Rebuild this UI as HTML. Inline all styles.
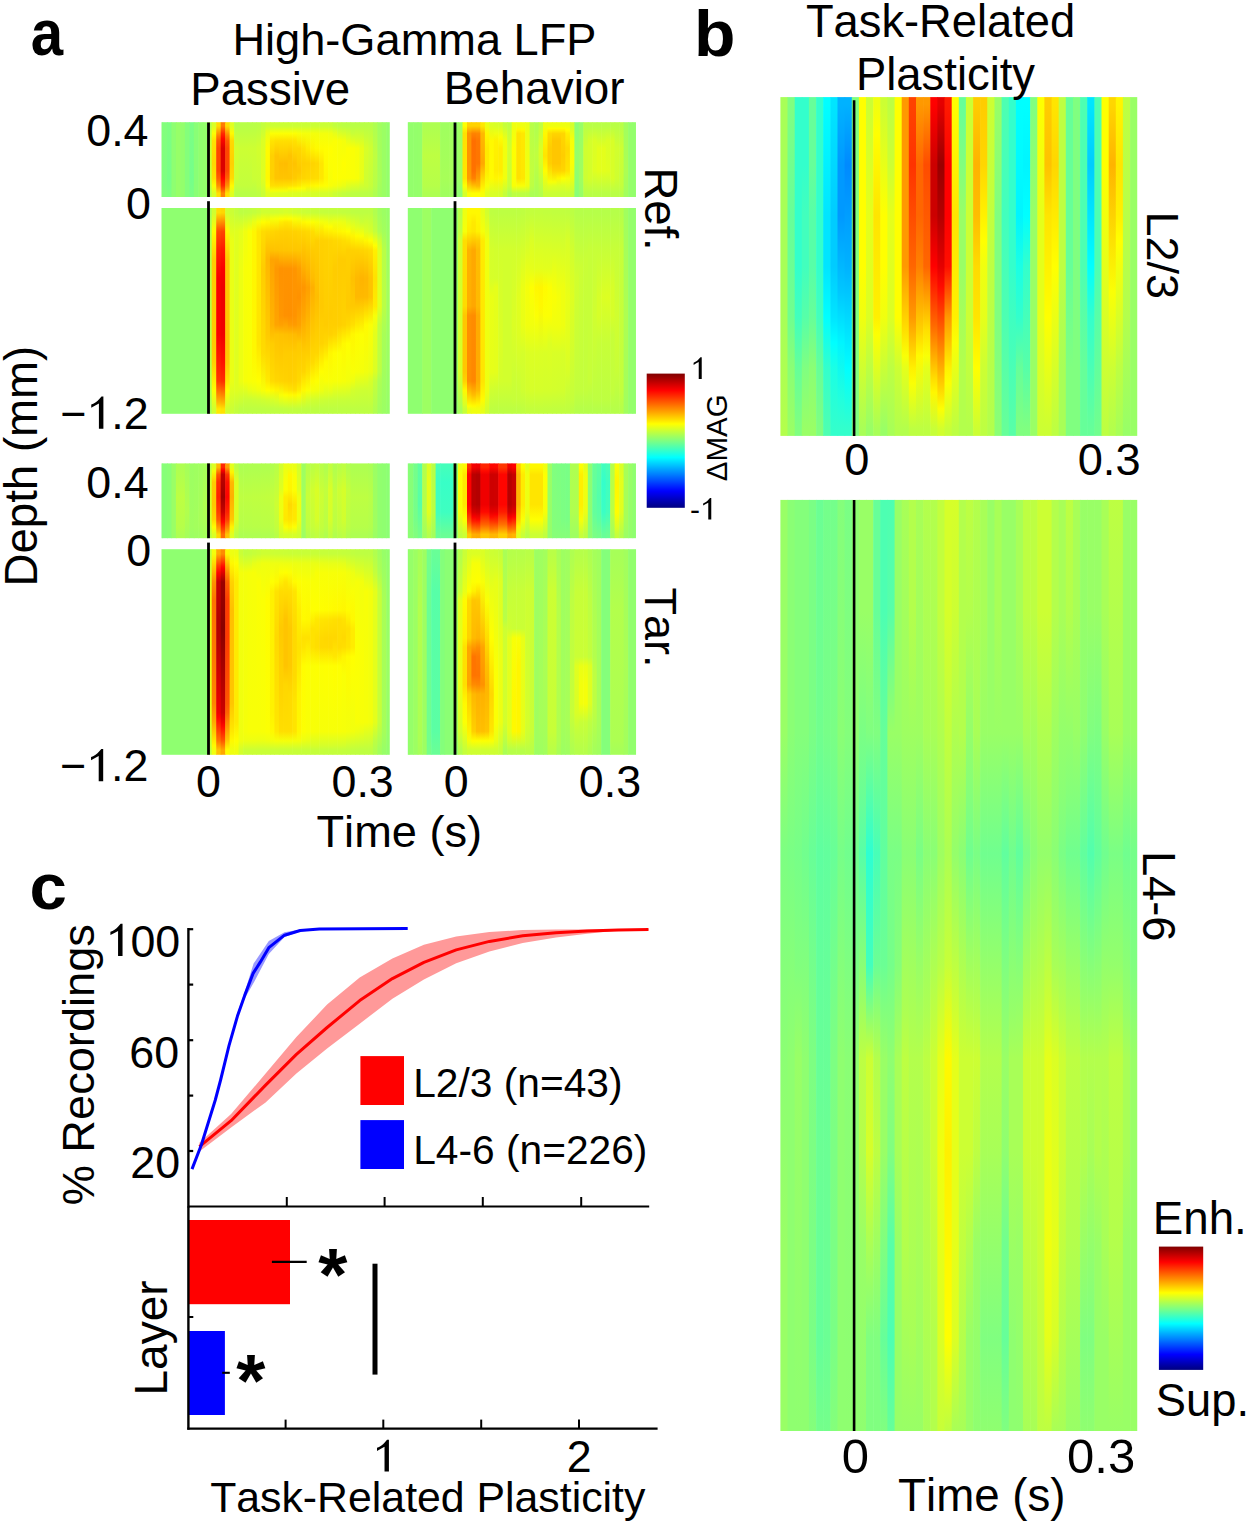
<!DOCTYPE html>
<html><head><meta charset="utf-8"><title>Figure</title>
<style>
html,body{margin:0;padding:0;background:#fff;}
svg{display:block;}
text{font-family:"Liberation Sans",sans-serif;font-kerning:none;fill:#000;}
</style></head>
<body>
<svg width="1250" height="1528" viewBox="0 0 1250 1528">
<defs><linearGradient id="g1" x2="0" y2="1"><stop offset="0.05" stop-color="#82ff7d"/><stop offset="0.85" stop-color="#7eff81"/><stop offset="0.95" stop-color="#82ff7d"/></linearGradient><linearGradient id="g2" x2="0" y2="1"><stop offset="0.05" stop-color="#7eff81"/><stop offset="0.75" stop-color="#7f8"/><stop offset="0.95" stop-color="#7eff81"/></linearGradient><linearGradient id="g3" x2="0" y2="1"><stop offset="0.05" stop-color="#7bff84"/><stop offset="0.75" stop-color="#74ff8b"/><stop offset="0.95" stop-color="#7bff84"/></linearGradient><linearGradient id="g4" x2="0" y2="1"><stop offset="0.05" stop-color="#b6ff49"/><stop offset="0.35" stop-color="#ceff31"/><stop offset="0.75" stop-color="#caff35"/><stop offset="0.95" stop-color="#b6ff49"/></linearGradient><linearGradient id="g5" x2="0" y2="1"><stop offset="0.05" stop-color="#d9ff26"/><stop offset="0.15" stop-color="#fcff03"/><stop offset="0.25" stop-color="#ffe200"/><stop offset="0.55" stop-color="#ffd900"/><stop offset="0.75" stop-color="#ffe300"/><stop offset="0.85" stop-color="#fcff03"/><stop offset="0.95" stop-color="#d9ff26"/></linearGradient><linearGradient id="g6" x2="0" y2="1"><stop offset="0.05" stop-color="#ffdc00"/><stop offset="0.183" stop-color="#ff7c00"/><stop offset="0.25" stop-color="#ff5800"/><stop offset="0.35" stop-color="#ff4500"/><stop offset="0.65" stop-color="#ff4500"/><stop offset="0.75" stop-color="#ff5f00"/><stop offset="0.85" stop-color="#ff9000"/><stop offset="0.95" stop-color="#ffe000"/></linearGradient><linearGradient id="g7" x2="0" y2="1"><stop offset="0.05" stop-color="#ff7c00"/><stop offset="0.15" stop-color="#ff2a00"/><stop offset="0.217" stop-color="#ff0700"/><stop offset="0.35" stop-color="#db0000"/><stop offset="0.65" stop-color="#db0000"/><stop offset="0.75" stop-color="#ff0200"/><stop offset="0.85" stop-color="#ff2c00"/><stop offset="0.95" stop-color="#ff8500"/></linearGradient><linearGradient id="g8" x2="0" y2="1"><stop offset="0.05" stop-color="#ffde00"/><stop offset="0.183" stop-color="#ff7e00"/><stop offset="0.25" stop-color="#ff5a00"/><stop offset="0.35" stop-color="#ff4700"/><stop offset="0.65" stop-color="#ff4700"/><stop offset="0.75" stop-color="#ff6100"/><stop offset="0.85" stop-color="#ff9200"/><stop offset="0.95" stop-color="#ffe100"/></linearGradient><linearGradient id="g9" x2="0" y2="1"><stop offset="0.05" stop-color="#e0ff1f"/><stop offset="0.15" stop-color="#fffa00"/><stop offset="0.25" stop-color="#ffd900"/><stop offset="0.55" stop-color="#ffd000"/><stop offset="0.75" stop-color="#ffdb00"/><stop offset="0.85" stop-color="#fffa00"/><stop offset="0.95" stop-color="#dfff20"/></linearGradient><linearGradient id="g10" x2="0" y2="1"><stop offset="0.05" stop-color="#b8ff47"/><stop offset="0.35" stop-color="#d1ff2e"/><stop offset="0.75" stop-color="#cdff32"/><stop offset="0.95" stop-color="#b8ff47"/></linearGradient><linearGradient id="g11" x2="0" y2="1"><stop offset="0.05" stop-color="#b8ff47"/><stop offset="0.35" stop-color="#cf3"/><stop offset="0.85" stop-color="#c3ff3c"/><stop offset="0.95" stop-color="#b8ff47"/></linearGradient><linearGradient id="g12" x2="0" y2="1"><stop offset="0.05" stop-color="#b8ff47"/><stop offset="0.35" stop-color="#cdff32"/><stop offset="0.85" stop-color="#c3ff3c"/><stop offset="0.95" stop-color="#b9ff46"/></linearGradient><linearGradient id="g13" x2="0" y2="1"><stop offset="0.05" stop-color="#b9ff46"/><stop offset="0.35" stop-color="#cdff32"/><stop offset="0.75" stop-color="#caff35"/><stop offset="0.95" stop-color="#baff45"/></linearGradient><linearGradient id="g14" x2="0" y2="1"><stop offset="0.05" stop-color="#bf4"/><stop offset="0.35" stop-color="#d2ff2d"/><stop offset="0.85" stop-color="#c9ff36"/><stop offset="0.95" stop-color="#bdff42"/></linearGradient><linearGradient id="g15" x2="0" y2="1"><stop offset="0.05" stop-color="#c3ff3c"/><stop offset="0.25" stop-color="#dbff24"/><stop offset="0.75" stop-color="#dfff20"/><stop offset="0.95" stop-color="#caff35"/></linearGradient><linearGradient id="g16" x2="0" y2="1"><stop offset="0.05" stop-color="#cbff34"/><stop offset="0.15" stop-color="#ebff14"/><stop offset="0.35" stop-color="#fffc00"/><stop offset="0.75" stop-color="#fff800"/><stop offset="0.85" stop-color="#feff01"/><stop offset="0.95" stop-color="#dfff20"/></linearGradient><linearGradient id="g17" x2="0" y2="1"><stop offset="0.05" stop-color="#cbff34"/><stop offset="0.15" stop-color="#fcff03"/><stop offset="0.25" stop-color="#ffe400"/><stop offset="0.45" stop-color="#ffd100"/><stop offset="0.75" stop-color="#ffd100"/><stop offset="0.85" stop-color="#ffdf00"/><stop offset="0.917" stop-color="#f6ff09"/><stop offset="0.95" stop-color="#e1ff1e"/></linearGradient><linearGradient id="g18" x2="0" y2="1"><stop offset="0.05" stop-color="#cbff34"/><stop offset="0.15" stop-color="#fcff03"/><stop offset="0.25" stop-color="#ffdf00"/><stop offset="0.45" stop-color="#ffc400"/><stop offset="0.75" stop-color="#ffc500"/><stop offset="0.85" stop-color="#ffde00"/><stop offset="0.917" stop-color="#f5ff0a"/><stop offset="0.95" stop-color="#e0ff1f"/></linearGradient><linearGradient id="g19" x2="0" y2="1"><stop offset="0.05" stop-color="#cbff34"/><stop offset="0.15" stop-color="#fcff03"/><stop offset="0.25" stop-color="#ffdf00"/><stop offset="0.55" stop-color="#ffbe00"/><stop offset="0.75" stop-color="#ffc400"/><stop offset="0.85" stop-color="#ffdf00"/><stop offset="0.917" stop-color="#f4ff0b"/><stop offset="0.95" stop-color="#deff21"/></linearGradient><linearGradient id="g20" x2="0" y2="1"><stop offset="0.05" stop-color="#cbff34"/><stop offset="0.15" stop-color="#fcff03"/><stop offset="0.25" stop-color="#ffdf00"/><stop offset="0.55" stop-color="#ffbd00"/><stop offset="0.75" stop-color="#ffc400"/><stop offset="0.85" stop-color="#ffe100"/><stop offset="0.917" stop-color="#f3ff0c"/><stop offset="0.95" stop-color="#df2"/></linearGradient><linearGradient id="g21" x2="0" y2="1"><stop offset="0.05" stop-color="#cbff34"/><stop offset="0.15" stop-color="#fcff03"/><stop offset="0.25" stop-color="#ffdf00"/><stop offset="0.45" stop-color="#ffc300"/><stop offset="0.75" stop-color="#ffc400"/><stop offset="0.85" stop-color="#ffe200"/><stop offset="0.883" stop-color="#fff800"/><stop offset="0.95" stop-color="#dcff23"/></linearGradient><linearGradient id="g22" x2="0" y2="1"><stop offset="0.05" stop-color="#cbff34"/><stop offset="0.15" stop-color="#fcff03"/><stop offset="0.25" stop-color="#ffe100"/><stop offset="0.55" stop-color="#ffc300"/><stop offset="0.75" stop-color="#ffca00"/><stop offset="0.85" stop-color="#ffe500"/><stop offset="0.883" stop-color="#fffa00"/><stop offset="0.95" stop-color="#dbff24"/></linearGradient><linearGradient id="g23" x2="0" y2="1"><stop offset="0.05" stop-color="#cbff34"/><stop offset="0.15" stop-color="#f8ff07"/><stop offset="0.35" stop-color="#ffd700"/><stop offset="0.65" stop-color="#ffc800"/><stop offset="0.75" stop-color="#ffd100"/><stop offset="0.85" stop-color="#ffeb00"/><stop offset="0.883" stop-color="#fffe00"/><stop offset="0.95" stop-color="#daff25"/></linearGradient><linearGradient id="g24" x2="0" y2="1"><stop offset="0.05" stop-color="#caff35"/><stop offset="0.15" stop-color="#f5ff0a"/><stop offset="0.35" stop-color="#ffe000"/><stop offset="0.55" stop-color="#ffcf00"/><stop offset="0.75" stop-color="#ffd500"/><stop offset="0.883" stop-color="#fcff03"/><stop offset="0.95" stop-color="#d8ff27"/></linearGradient><linearGradient id="g25" x2="0" y2="1"><stop offset="0.05" stop-color="#caff35"/><stop offset="0.15" stop-color="#f4ff0b"/><stop offset="0.35" stop-color="#ffeb00"/><stop offset="0.55" stop-color="#ffd100"/><stop offset="0.75" stop-color="#ffd800"/><stop offset="0.85" stop-color="#fff400"/><stop offset="0.95" stop-color="#d7ff28"/></linearGradient><linearGradient id="g26" x2="0" y2="1"><stop offset="0.05" stop-color="#caff35"/><stop offset="0.15" stop-color="#f4ff0b"/><stop offset="0.35" stop-color="#fff400"/><stop offset="0.55" stop-color="#ffd400"/><stop offset="0.75" stop-color="#ffda00"/><stop offset="0.85" stop-color="#fff800"/><stop offset="0.95" stop-color="#d6ff29"/></linearGradient><linearGradient id="g27" x2="0" y2="1"><stop offset="0.05" stop-color="#caff35"/><stop offset="0.15" stop-color="#f3ff0c"/><stop offset="0.35" stop-color="#fffa00"/><stop offset="0.55" stop-color="#ffd800"/><stop offset="0.75" stop-color="#ffdc00"/><stop offset="0.85" stop-color="#fffb00"/><stop offset="0.95" stop-color="#d5ff2a"/></linearGradient><linearGradient id="g28" x2="0" y2="1"><stop offset="0.05" stop-color="#caff35"/><stop offset="0.15" stop-color="#f3ff0c"/><stop offset="0.35" stop-color="#fffd00"/><stop offset="0.55" stop-color="#ffe600"/><stop offset="0.75" stop-color="#ffe700"/><stop offset="0.85" stop-color="#fffd00"/><stop offset="0.95" stop-color="#d4ff2b"/></linearGradient><linearGradient id="g29" x2="0" y2="1"><stop offset="0.05" stop-color="#caff35"/><stop offset="0.15" stop-color="#f3ff0c"/><stop offset="0.35" stop-color="#fffe00"/><stop offset="0.75" stop-color="#fff600"/><stop offset="0.85" stop-color="#fdff02"/><stop offset="0.95" stop-color="#d4ff2b"/></linearGradient><linearGradient id="g30" x2="0" y2="1"><stop offset="0.05" stop-color="#c9ff36"/><stop offset="0.15" stop-color="#f0ff0f"/><stop offset="0.35" stop-color="#ff0"/><stop offset="0.85" stop-color="#f8ff07"/><stop offset="0.95" stop-color="#d2ff2d"/></linearGradient><linearGradient id="g31" x2="0" y2="1"><stop offset="0.05" stop-color="#c2ff3d"/><stop offset="0.15" stop-color="#e7ff18"/><stop offset="0.25" stop-color="#fbff04"/><stop offset="0.75" stop-color="#feff01"/><stop offset="0.85" stop-color="#f4ff0b"/><stop offset="0.95" stop-color="#cbff34"/></linearGradient><linearGradient id="g32" x2="0" y2="1"><stop offset="0.05" stop-color="#beff41"/><stop offset="0.25" stop-color="#f8ff07"/><stop offset="0.75" stop-color="#fdff02"/><stop offset="0.85" stop-color="#efff10"/><stop offset="0.95" stop-color="#c6ff39"/></linearGradient><linearGradient id="g33" x2="0" y2="1"><stop offset="0.05" stop-color="#bf4"/><stop offset="0.25" stop-color="#f4ff0b"/><stop offset="0.55" stop-color="#ff0"/><stop offset="0.75" stop-color="#fcff03"/><stop offset="0.85" stop-color="#eaff15"/><stop offset="0.95" stop-color="#c2ff3d"/></linearGradient><linearGradient id="g34" x2="0" y2="1"><stop offset="0.05" stop-color="#baff45"/><stop offset="0.2" stop-color="#df2"/><stop offset="0.35" stop-color="#fcff03"/><stop offset="0.75" stop-color="#fbff04"/><stop offset="0.9" stop-color="#d2ff2d"/><stop offset="0.95" stop-color="#bfff40"/></linearGradient><linearGradient id="g35" x2="0" y2="1"><stop offset="0.05" stop-color="#b9ff46"/><stop offset="0.15" stop-color="#c8ff37"/><stop offset="0.35" stop-color="#faff05"/><stop offset="0.75" stop-color="#faff05"/><stop offset="0.95" stop-color="#bdff42"/></linearGradient><linearGradient id="g36" x2="0" y2="1"><stop offset="0.05" stop-color="#b9ff46"/><stop offset="0.25" stop-color="#dbff24"/><stop offset="0.35" stop-color="#f6ff09"/><stop offset="0.75" stop-color="#f7ff08"/><stop offset="0.95" stop-color="#bcff43"/></linearGradient><linearGradient id="g37" x2="0" y2="1"><stop offset="0.05" stop-color="#b8ff47"/><stop offset="0.35" stop-color="#e9ff16"/><stop offset="0.75" stop-color="#e7ff18"/><stop offset="0.95" stop-color="#bf4"/></linearGradient><linearGradient id="g38" x2="0" y2="1"><stop offset="0.05" stop-color="#b8ff47"/><stop offset="0.35" stop-color="#d7ff28"/><stop offset="0.85" stop-color="#cdff32"/><stop offset="0.95" stop-color="#baff45"/></linearGradient><linearGradient id="g39" x2="0" y2="1"><stop offset="0.05" stop-color="#b8ff47"/><stop offset="0.35" stop-color="#cfff30"/><stop offset="0.85" stop-color="#c6ff39"/><stop offset="0.95" stop-color="#b9ff46"/></linearGradient><linearGradient id="g40" x2="0" y2="1"><stop offset="0.05" stop-color="#afff50"/><stop offset="0.45" stop-color="#bfff40"/><stop offset="0.85" stop-color="#b8ff47"/><stop offset="0.95" stop-color="#afff50"/></linearGradient><linearGradient id="g41" x2="0" y2="1"><stop offset="0.05" stop-color="#a1ff5e"/><stop offset="0.75" stop-color="#a9ff56"/><stop offset="0.95" stop-color="#a1ff5e"/></linearGradient><linearGradient id="g42" x2="0" y2="1"><stop offset="0.023" stop-color="#a9ff56"/><stop offset="0.295" stop-color="#bf4"/><stop offset="0.841" stop-color="#b7ff48"/><stop offset="0.977" stop-color="#a9ff56"/></linearGradient><linearGradient id="g43" x2="0" y2="1"><stop offset="0.023" stop-color="#cfff30"/><stop offset="0.114" stop-color="#fffd00"/><stop offset="0.25" stop-color="#ffcf00"/><stop offset="0.659" stop-color="#fc0"/><stop offset="0.75" stop-color="#ffd200"/><stop offset="0.886" stop-color="#fcff03"/><stop offset="0.977" stop-color="#cfff30"/></linearGradient><linearGradient id="g44" x2="0" y2="1"><stop offset="0.023" stop-color="#fd0"/><stop offset="0.098" stop-color="#ff6200"/><stop offset="0.114" stop-color="#ff4c00"/><stop offset="0.205" stop-color="#ff2000"/><stop offset="0.341" stop-color="#f90000"/><stop offset="0.614" stop-color="#fa0000"/><stop offset="0.795" stop-color="#ff2800"/><stop offset="0.841" stop-color="#ff3700"/><stop offset="0.947" stop-color="#fb0"/><stop offset="0.977" stop-color="#ffe800"/></linearGradient><linearGradient id="g45" x2="0" y2="1"><stop offset="0.023" stop-color="#ffd700"/><stop offset="0.114" stop-color="#ff4300"/><stop offset="0.205" stop-color="#ff1700"/><stop offset="0.295" stop-color="#fb0000"/><stop offset="0.386" stop-color="#e00"/><stop offset="0.614" stop-color="#f10000"/><stop offset="0.75" stop-color="#f10"/><stop offset="0.841" stop-color="#ff2e00"/><stop offset="0.947" stop-color="#ffb500"/><stop offset="0.977" stop-color="#ffe200"/></linearGradient><linearGradient id="g46" x2="0" y2="1"><stop offset="0.023" stop-color="#d0ff2f"/><stop offset="0.114" stop-color="#fff800"/><stop offset="0.25" stop-color="#ffc800"/><stop offset="0.659" stop-color="#ffc500"/><stop offset="0.75" stop-color="#ffcb00"/><stop offset="0.841" stop-color="#ffe600"/><stop offset="0.886" stop-color="#fffd00"/><stop offset="0.977" stop-color="#d0ff2f"/></linearGradient><linearGradient id="g47" x2="0" y2="1"><stop offset="0.023" stop-color="#cbff34"/><stop offset="0.159" stop-color="#eaff15"/><stop offset="0.841" stop-color="#eaff15"/><stop offset="0.977" stop-color="#cbff34"/></linearGradient><linearGradient id="g48" x2="0" y2="1"><stop offset="0.023" stop-color="#c3ff3c"/><stop offset="0.114" stop-color="#e0ff1f"/><stop offset="0.886" stop-color="#dfff20"/><stop offset="0.977" stop-color="#c3ff3c"/></linearGradient><linearGradient id="g49" x2="0" y2="1"><stop offset="0.023" stop-color="#bdff42"/><stop offset="0.114" stop-color="#e5ff1a"/><stop offset="0.295" stop-color="#edff12"/><stop offset="0.841" stop-color="#edff12"/><stop offset="0.977" stop-color="#bdff42"/></linearGradient><linearGradient id="g50" x2="0" y2="1"><stop offset="0.023" stop-color="#beff41"/><stop offset="0.114" stop-color="#f0ff0f"/><stop offset="0.295" stop-color="#f8ff07"/><stop offset="0.841" stop-color="#f6ff09"/><stop offset="0.932" stop-color="#c9ff36"/><stop offset="0.977" stop-color="#bdff42"/></linearGradient><linearGradient id="g51" x2="0" y2="1"><stop offset="0.023" stop-color="#c0ff3f"/><stop offset="0.114" stop-color="#faff05"/><stop offset="0.841" stop-color="#f9ff06"/><stop offset="0.886" stop-color="#e8ff17"/><stop offset="0.932" stop-color="#c9ff36"/><stop offset="0.977" stop-color="#bdff42"/></linearGradient><linearGradient id="g52" x2="0" y2="1"><stop offset="0.023" stop-color="#c3ff3c"/><stop offset="0.068" stop-color="#eaff15"/><stop offset="0.114" stop-color="#fff600"/><stop offset="0.705" stop-color="#fff700"/><stop offset="0.841" stop-color="#fbff04"/><stop offset="0.886" stop-color="#ecff13"/><stop offset="0.932" stop-color="#cbff34"/><stop offset="0.977" stop-color="#bdff42"/></linearGradient><linearGradient id="g53" x2="0" y2="1"><stop offset="0.023" stop-color="#c8ff37"/><stop offset="0.068" stop-color="#f6ff09"/><stop offset="0.114" stop-color="#ffe600"/><stop offset="0.659" stop-color="#ffe500"/><stop offset="0.841" stop-color="#ff0"/><stop offset="0.886" stop-color="#f1ff0e"/><stop offset="0.932" stop-color="#cdff32"/><stop offset="0.977" stop-color="#bdff42"/></linearGradient><linearGradient id="g54" x2="0" y2="1"><stop offset="0.023" stop-color="#cfff30"/><stop offset="0.068" stop-color="#fffe00"/><stop offset="0.114" stop-color="#ffdc00"/><stop offset="0.295" stop-color="#ffcd00"/><stop offset="0.705" stop-color="#ffdb00"/><stop offset="0.886" stop-color="#f8ff07"/><stop offset="0.932" stop-color="#d0ff2f"/><stop offset="0.977" stop-color="#bdff42"/></linearGradient><linearGradient id="g55" x2="0" y2="1"><stop offset="0.023" stop-color="#cfff30"/><stop offset="0.068" stop-color="#fff900"/><stop offset="0.114" stop-color="#ffd800"/><stop offset="0.25" stop-color="#ffb700"/><stop offset="0.614" stop-color="#ffca00"/><stop offset="0.841" stop-color="#ffe900"/><stop offset="0.886" stop-color="#ff0"/><stop offset="0.932" stop-color="#d3ff2c"/><stop offset="0.977" stop-color="#beff41"/></linearGradient><linearGradient id="g56" x2="0" y2="1"><stop offset="0.023" stop-color="#d0ff2f"/><stop offset="0.053" stop-color="#f6ff09"/><stop offset="0.091" stop-color="#ffe500"/><stop offset="0.114" stop-color="#ffd600"/><stop offset="0.205" stop-color="#ffc200"/><stop offset="0.25" stop-color="#ffa400"/><stop offset="0.568" stop-color="#ffb300"/><stop offset="0.659" stop-color="#ffcd00"/><stop offset="0.841" stop-color="#ffdb00"/><stop offset="0.886" stop-color="#fffa00"/><stop offset="0.932" stop-color="#d7ff28"/><stop offset="0.977" stop-color="#beff41"/></linearGradient><linearGradient id="g57" x2="0" y2="1"><stop offset="0.023" stop-color="#d1ff2e"/><stop offset="0.053" stop-color="#f9ff06"/><stop offset="0.114" stop-color="#ffd300"/><stop offset="0.205" stop-color="#ffc300"/><stop offset="0.25" stop-color="#ffa400"/><stop offset="0.295" stop-color="#ff9800"/><stop offset="0.568" stop-color="#ffa400"/><stop offset="0.614" stop-color="#ffc300"/><stop offset="0.841" stop-color="#ffd600"/><stop offset="0.886" stop-color="#fff400"/><stop offset="0.932" stop-color="#dbff24"/><stop offset="0.977" stop-color="#bfff40"/></linearGradient><linearGradient id="g58" x2="0" y2="1"><stop offset="0.023" stop-color="#d3ff2c"/><stop offset="0.053" stop-color="#fdff02"/><stop offset="0.068" stop-color="#ffec00"/><stop offset="0.114" stop-color="#ffd100"/><stop offset="0.205" stop-color="#ffc400"/><stop offset="0.295" stop-color="#ff9200"/><stop offset="0.523" stop-color="#ff9600"/><stop offset="0.568" stop-color="#ffa100"/><stop offset="0.614" stop-color="#ffc100"/><stop offset="0.75" stop-color="#ffcd00"/><stop offset="0.841" stop-color="#ffd400"/><stop offset="0.909" stop-color="#f8ff07"/><stop offset="0.977" stop-color="#bfff40"/></linearGradient><linearGradient id="g59" x2="0" y2="1"><stop offset="0.023" stop-color="#d6ff29"/><stop offset="0.053" stop-color="#fffd00"/><stop offset="0.068" stop-color="#ffe700"/><stop offset="0.114" stop-color="#ffd000"/><stop offset="0.205" stop-color="#ffc500"/><stop offset="0.295" stop-color="#ff9300"/><stop offset="0.523" stop-color="#ff9100"/><stop offset="0.591" stop-color="#ffaf00"/><stop offset="0.614" stop-color="#ffbf00"/><stop offset="0.705" stop-color="#fc0"/><stop offset="0.841" stop-color="#ffd200"/><stop offset="0.886" stop-color="#ffe900"/><stop offset="0.909" stop-color="#feff01"/><stop offset="0.977" stop-color="#c0ff3f"/></linearGradient><linearGradient id="g60" x2="0" y2="1"><stop offset="0.023" stop-color="#d4ff2b"/><stop offset="0.053" stop-color="#ff0"/><stop offset="0.068" stop-color="#ffe900"/><stop offset="0.114" stop-color="#ffd100"/><stop offset="0.205" stop-color="#ffc600"/><stop offset="0.295" stop-color="#ff9300"/><stop offset="0.523" stop-color="#ff9000"/><stop offset="0.568" stop-color="#ff9d00"/><stop offset="0.614" stop-color="#ffbd00"/><stop offset="0.705" stop-color="#fc0"/><stop offset="0.841" stop-color="#ffd000"/><stop offset="0.886" stop-color="#ffe400"/><stop offset="0.909" stop-color="#fffb00"/><stop offset="0.977" stop-color="#c1ff3e"/></linearGradient><linearGradient id="g61" x2="0" y2="1"><stop offset="0.023" stop-color="#d0ff2f"/><stop offset="0.053" stop-color="#faff05"/><stop offset="0.114" stop-color="#ffd200"/><stop offset="0.205" stop-color="#ffc600"/><stop offset="0.295" stop-color="#ff9500"/><stop offset="0.523" stop-color="#ff9300"/><stop offset="0.568" stop-color="#ff9b00"/><stop offset="0.614" stop-color="#fb0"/><stop offset="0.705" stop-color="#fc0"/><stop offset="0.841" stop-color="#ffd200"/><stop offset="0.886" stop-color="#ffdf00"/><stop offset="0.909" stop-color="#fff900"/><stop offset="0.977" stop-color="#c1ff3e"/></linearGradient><linearGradient id="g62" x2="0" y2="1"><stop offset="0.023" stop-color="#ceff31"/><stop offset="0.053" stop-color="#f6ff09"/><stop offset="0.091" stop-color="#ffe400"/><stop offset="0.114" stop-color="#ffd400"/><stop offset="0.205" stop-color="#ffc700"/><stop offset="0.295" stop-color="#ff9e00"/><stop offset="0.432" stop-color="#ff9100"/><stop offset="0.568" stop-color="#ffa200"/><stop offset="0.659" stop-color="#ffc900"/><stop offset="0.841" stop-color="#ffd900"/><stop offset="0.886" stop-color="#ffec00"/><stop offset="0.909" stop-color="#fcff03"/><stop offset="0.977" stop-color="#c0ff3f"/></linearGradient><linearGradient id="g63" x2="0" y2="1"><stop offset="0.023" stop-color="#cbff34"/><stop offset="0.068" stop-color="#fff900"/><stop offset="0.114" stop-color="#ffd600"/><stop offset="0.25" stop-color="#ffb900"/><stop offset="0.386" stop-color="#ff9600"/><stop offset="0.523" stop-color="#ffa600"/><stop offset="0.705" stop-color="#ffcd00"/><stop offset="0.795" stop-color="#ffd500"/><stop offset="0.886" stop-color="#fff900"/><stop offset="0.977" stop-color="#bfff40"/></linearGradient><linearGradient id="g64" x2="0" y2="1"><stop offset="0.023" stop-color="#c9ff36"/><stop offset="0.068" stop-color="#fffe00"/><stop offset="0.114" stop-color="#ffd900"/><stop offset="0.341" stop-color="#ffad00"/><stop offset="0.386" stop-color="#ffa000"/><stop offset="0.477" stop-color="#ffab00"/><stop offset="0.705" stop-color="#ffce00"/><stop offset="0.795" stop-color="#ffdf00"/><stop offset="0.886" stop-color="#fbff04"/><stop offset="0.932" stop-color="#d6ff29"/><stop offset="0.977" stop-color="#beff41"/></linearGradient><linearGradient id="g65" x2="0" y2="1"><stop offset="0.023" stop-color="#c7ff38"/><stop offset="0.068" stop-color="#fcff03"/><stop offset="0.114" stop-color="#fd0"/><stop offset="0.205" stop-color="#ffcb00"/><stop offset="0.341" stop-color="#ffbc00"/><stop offset="0.386" stop-color="#ffaf00"/><stop offset="0.477" stop-color="#ffba00"/><stop offset="0.75" stop-color="#ffda00"/><stop offset="0.841" stop-color="#fffb00"/><stop offset="0.886" stop-color="#f5ff0a"/><stop offset="0.932" stop-color="#d1ff2e"/><stop offset="0.977" stop-color="#beff41"/></linearGradient><linearGradient id="g66" x2="0" y2="1"><stop offset="0.023" stop-color="#c6ff39"/><stop offset="0.068" stop-color="#f8ff07"/><stop offset="0.159" stop-color="#ffcf00"/><stop offset="0.432" stop-color="#ffbe00"/><stop offset="0.705" stop-color="#ffd600"/><stop offset="0.841" stop-color="#feff01"/><stop offset="0.886" stop-color="#f2ff0d"/><stop offset="0.932" stop-color="#cfff30"/><stop offset="0.977" stop-color="#bdff42"/></linearGradient><linearGradient id="g67" x2="0" y2="1"><stop offset="0.023" stop-color="#c5ff3a"/><stop offset="0.068" stop-color="#f5ff0a"/><stop offset="0.114" stop-color="#ffe500"/><stop offset="0.159" stop-color="#ffd100"/><stop offset="0.477" stop-color="#ffc900"/><stop offset="0.659" stop-color="#ffd300"/><stop offset="0.795" stop-color="#fffe00"/><stop offset="0.886" stop-color="#ef1"/><stop offset="0.932" stop-color="#cdff32"/><stop offset="0.977" stop-color="#bdff42"/></linearGradient><linearGradient id="g68" x2="0" y2="1"><stop offset="0.023" stop-color="#c4ff3b"/><stop offset="0.068" stop-color="#f2ff0d"/><stop offset="0.091" stop-color="#fffb00"/><stop offset="0.159" stop-color="#ffd200"/><stop offset="0.568" stop-color="#fc0"/><stop offset="0.659" stop-color="#ffd800"/><stop offset="0.75" stop-color="#fffb00"/><stop offset="0.841" stop-color="#faff05"/><stop offset="0.909" stop-color="#dbff24"/><stop offset="0.932" stop-color="#cbff34"/><stop offset="0.977" stop-color="#bdff42"/></linearGradient><linearGradient id="g69" x2="0" y2="1"><stop offset="0.023" stop-color="#c4ff3b"/><stop offset="0.091" stop-color="#fffe00"/><stop offset="0.159" stop-color="#ffd400"/><stop offset="0.523" stop-color="#fc0"/><stop offset="0.614" stop-color="#ffd100"/><stop offset="0.705" stop-color="#fff700"/><stop offset="0.841" stop-color="#f9ff06"/><stop offset="0.886" stop-color="#e8ff17"/><stop offset="0.932" stop-color="#caff35"/><stop offset="0.977" stop-color="#bdff42"/></linearGradient><linearGradient id="g70" x2="0" y2="1"><stop offset="0.023" stop-color="#c3ff3c"/><stop offset="0.068" stop-color="#ef1"/><stop offset="0.114" stop-color="#fff300"/><stop offset="0.159" stop-color="#ffd700"/><stop offset="0.295" stop-color="#fc0"/><stop offset="0.568" stop-color="#ffce00"/><stop offset="0.614" stop-color="#ffd500"/><stop offset="0.705" stop-color="#fffd00"/><stop offset="0.841" stop-color="#f8ff07"/><stop offset="0.932" stop-color="#c9ff36"/><stop offset="0.977" stop-color="#bdff42"/></linearGradient><linearGradient id="g71" x2="0" y2="1"><stop offset="0.023" stop-color="#c3ff3c"/><stop offset="0.068" stop-color="#edff12"/><stop offset="0.114" stop-color="#fff700"/><stop offset="0.159" stop-color="#ffd900"/><stop offset="0.25" stop-color="#fc0"/><stop offset="0.568" stop-color="#ffcf00"/><stop offset="0.705" stop-color="#fdff02"/><stop offset="0.841" stop-color="#f8ff07"/><stop offset="0.932" stop-color="#c8ff37"/><stop offset="0.977" stop-color="#bdff42"/></linearGradient><linearGradient id="g72" x2="0" y2="1"><stop offset="0.023" stop-color="#c2ff3d"/><stop offset="0.068" stop-color="#eaff15"/><stop offset="0.114" stop-color="#fffa00"/><stop offset="0.159" stop-color="#fd0"/><stop offset="0.25" stop-color="#fc0"/><stop offset="0.568" stop-color="#ffd200"/><stop offset="0.659" stop-color="#fffa00"/><stop offset="0.841" stop-color="#f6ff09"/><stop offset="0.932" stop-color="#c8ff37"/><stop offset="0.977" stop-color="#bdff42"/></linearGradient><linearGradient id="g73" x2="0" y2="1"><stop offset="0.023" stop-color="#c1ff3e"/><stop offset="0.114" stop-color="#ff0"/><stop offset="0.159" stop-color="#ffe100"/><stop offset="0.205" stop-color="#ffd000"/><stop offset="0.477" stop-color="#ffca00"/><stop offset="0.568" stop-color="#ffd800"/><stop offset="0.659" stop-color="#ff0"/><stop offset="0.841" stop-color="#f3ff0c"/><stop offset="0.932" stop-color="#c7ff38"/><stop offset="0.977" stop-color="#bdff42"/></linearGradient><linearGradient id="g74" x2="0" y2="1"><stop offset="0.023" stop-color="#beff41"/><stop offset="0.091" stop-color="#e7ff18"/><stop offset="0.136" stop-color="#fff500"/><stop offset="0.205" stop-color="#ffd100"/><stop offset="0.341" stop-color="#ffc100"/><stop offset="0.477" stop-color="#ffc900"/><stop offset="0.568" stop-color="#ffdf00"/><stop offset="0.614" stop-color="#fff700"/><stop offset="0.795" stop-color="#f9ff06"/><stop offset="0.841" stop-color="#ef1"/><stop offset="0.886" stop-color="#d3ff2c"/><stop offset="0.977" stop-color="#bdff42"/></linearGradient><linearGradient id="g75" x2="0" y2="1"><stop offset="0.023" stop-color="#bdff42"/><stop offset="0.091" stop-color="#dfff20"/><stop offset="0.136" stop-color="#fffc00"/><stop offset="0.205" stop-color="#ffd200"/><stop offset="0.341" stop-color="#ffb900"/><stop offset="0.432" stop-color="#ffb900"/><stop offset="0.568" stop-color="#ffe900"/><stop offset="0.614" stop-color="#fffc00"/><stop offset="0.795" stop-color="#f7ff08"/><stop offset="0.886" stop-color="#d0ff2f"/><stop offset="0.977" stop-color="#bdff42"/></linearGradient><linearGradient id="g76" x2="0" y2="1"><stop offset="0.023" stop-color="#bdff42"/><stop offset="0.068" stop-color="#caff35"/><stop offset="0.136" stop-color="#faff05"/><stop offset="0.205" stop-color="#ffd400"/><stop offset="0.341" stop-color="#ffb400"/><stop offset="0.432" stop-color="#ffb900"/><stop offset="0.614" stop-color="#fdff02"/><stop offset="0.795" stop-color="#f5ff0a"/><stop offset="0.886" stop-color="#ceff31"/><stop offset="0.977" stop-color="#bdff42"/></linearGradient><linearGradient id="g77" x2="0" y2="1"><stop offset="0.023" stop-color="#bdff42"/><stop offset="0.114" stop-color="#df2"/><stop offset="0.159" stop-color="#fff700"/><stop offset="0.205" stop-color="#ffd700"/><stop offset="0.341" stop-color="#ffb700"/><stop offset="0.432" stop-color="#ffba00"/><stop offset="0.568" stop-color="#fffb00"/><stop offset="0.795" stop-color="#f1ff0e"/><stop offset="0.886" stop-color="#cdff32"/><stop offset="0.977" stop-color="#bdff42"/></linearGradient><linearGradient id="g78" x2="0" y2="1"><stop offset="0.023" stop-color="#bdff42"/><stop offset="0.114" stop-color="#d6ff29"/><stop offset="0.159" stop-color="#feff01"/><stop offset="0.205" stop-color="#ffdb00"/><stop offset="0.341" stop-color="#ffc300"/><stop offset="0.432" stop-color="#ffc300"/><stop offset="0.568" stop-color="#faff05"/><stop offset="0.795" stop-color="#ecff13"/><stop offset="0.841" stop-color="#d6ff29"/><stop offset="0.977" stop-color="#bdff42"/></linearGradient><linearGradient id="g79" x2="0" y2="1"><stop offset="0.023" stop-color="#b1ff4e"/><stop offset="0.114" stop-color="#c4ff3b"/><stop offset="0.182" stop-color="#feff01"/><stop offset="0.205" stop-color="#fff000"/><stop offset="0.341" stop-color="#ffe100"/><stop offset="0.477" stop-color="#ffea00"/><stop offset="0.523" stop-color="#f7ff08"/><stop offset="0.614" stop-color="#e3ff1c"/><stop offset="0.795" stop-color="#dbff24"/><stop offset="0.841" stop-color="#c4ff3b"/><stop offset="0.977" stop-color="#b1ff4e"/></linearGradient><linearGradient id="g80" x2="0" y2="1"><stop offset="0.023" stop-color="#a2ff5d"/><stop offset="0.114" stop-color="#adff52"/><stop offset="0.159" stop-color="#ceff31"/><stop offset="0.205" stop-color="#dfff20"/><stop offset="0.477" stop-color="#e3ff1c"/><stop offset="0.568" stop-color="#c1ff3e"/><stop offset="0.795" stop-color="#bdff42"/><stop offset="0.841" stop-color="#acff53"/><stop offset="0.977" stop-color="#a2ff5d"/></linearGradient><linearGradient id="g81" x2="0" y2="1"><stop offset="0.023" stop-color="#9cff63"/><stop offset="0.114" stop-color="#a3ff5c"/><stop offset="0.205" stop-color="#b8ff47"/><stop offset="0.477" stop-color="#b9ff46"/><stop offset="0.614" stop-color="#a8ff57"/><stop offset="0.977" stop-color="#9cff63"/></linearGradient><linearGradient id="g82" x2="0" y2="1"><stop offset="0.023" stop-color="#97ff68"/><stop offset="0.386" stop-color="#a3ff5c"/><stop offset="0.977" stop-color="#97ff68"/></linearGradient><linearGradient id="g83" x2="0" y2="1"><stop offset="0.05" stop-color="#aeff51"/><stop offset="0.45" stop-color="#bdff42"/><stop offset="0.85" stop-color="#b6ff49"/><stop offset="0.95" stop-color="#aeff51"/></linearGradient><linearGradient id="g84" x2="0" y2="1"><stop offset="0.05" stop-color="#a6ff59"/><stop offset="0.65" stop-color="#b2ff4d"/><stop offset="0.95" stop-color="#a6ff59"/></linearGradient><linearGradient id="g85" x2="0" y2="1"><stop offset="0.05" stop-color="#9dff62"/><stop offset="0.85" stop-color="#a1ff5e"/><stop offset="0.95" stop-color="#9dff62"/></linearGradient><linearGradient id="g86" x2="0" y2="1"><stop offset="0.05" stop-color="#9fff60"/><stop offset="0.85" stop-color="#a3ff5c"/><stop offset="0.95" stop-color="#9fff60"/></linearGradient><linearGradient id="g87" x2="0" y2="1"><stop offset="0.05" stop-color="#a1ff5e"/><stop offset="0.75" stop-color="#a8ff57"/><stop offset="0.95" stop-color="#a1ff5e"/></linearGradient><linearGradient id="g88" x2="0" y2="1"><stop offset="0.05" stop-color="#a5ff5a"/><stop offset="0.55" stop-color="#b0ff4f"/><stop offset="0.95" stop-color="#a5ff5a"/></linearGradient><linearGradient id="g89" x2="0" y2="1"><stop offset="0.05" stop-color="#bcff43"/><stop offset="0.25" stop-color="#d8ff27"/><stop offset="0.75" stop-color="#d6ff29"/><stop offset="0.95" stop-color="#bcff43"/></linearGradient><linearGradient id="g90" x2="0" y2="1"><stop offset="0.05" stop-color="#df2"/><stop offset="0.1" stop-color="#f5ff0a"/><stop offset="0.2" stop-color="#ffde00"/><stop offset="0.25" stop-color="#fc0"/><stop offset="0.55" stop-color="#ffc900"/><stop offset="0.75" stop-color="#ffd900"/><stop offset="0.85" stop-color="#fffe00"/><stop offset="0.95" stop-color="#d9ff26"/></linearGradient><linearGradient id="g91" x2="0" y2="1"><stop offset="0.05" stop-color="#fb0"/><stop offset="0.15" stop-color="#f50"/><stop offset="0.25" stop-color="#ff2d00"/><stop offset="0.45" stop-color="#ff2000"/><stop offset="0.65" stop-color="#ff3d00"/><stop offset="0.75" stop-color="#ff5800"/><stop offset="0.9" stop-color="#ffb500"/><stop offset="0.95" stop-color="#ffd900"/></linearGradient><linearGradient id="g92" x2="0" y2="1"><stop offset="0.05" stop-color="#ff2800"/><stop offset="0.09" stop-color="#fe0000"/><stop offset="0.15" stop-color="#c00000"/><stop offset="0.45" stop-color="#9f0000"/><stop offset="0.65" stop-color="#cb0000"/><stop offset="0.783" stop-color="#ff0500"/><stop offset="0.95" stop-color="#ff6e00"/></linearGradient><linearGradient id="g93" x2="0" y2="1"><stop offset="0.05" stop-color="#ff9d00"/><stop offset="0.15" stop-color="#f30"/><stop offset="0.25" stop-color="#ff0f00"/><stop offset="0.45" stop-color="#ff0200"/><stop offset="0.65" stop-color="#f20"/><stop offset="0.75" stop-color="#ff4000"/><stop offset="0.9" stop-color="#ff9f00"/><stop offset="0.95" stop-color="#ffc300"/></linearGradient><linearGradient id="g94" x2="0" y2="1"><stop offset="0.05" stop-color="#e4ff1b"/><stop offset="0.117" stop-color="#fff400"/><stop offset="0.25" stop-color="#ffb800"/><stop offset="0.45" stop-color="#ffb000"/><stop offset="0.75" stop-color="#ffc900"/><stop offset="0.85" stop-color="#fff300"/><stop offset="0.95" stop-color="#dfff20"/></linearGradient><linearGradient id="g95" x2="0" y2="1"><stop offset="0.05" stop-color="#bdff42"/><stop offset="0.25" stop-color="#df2"/><stop offset="0.75" stop-color="#dbff24"/><stop offset="0.95" stop-color="#bcff43"/></linearGradient><linearGradient id="g96" x2="0" y2="1"><stop offset="0.05" stop-color="#aeff51"/><stop offset="0.45" stop-color="#beff41"/><stop offset="0.85" stop-color="#b6ff49"/><stop offset="0.95" stop-color="#aeff51"/></linearGradient><linearGradient id="g97" x2="0" y2="1"><stop offset="0.05" stop-color="#aeff51"/><stop offset="0.45" stop-color="#beff41"/><stop offset="0.85" stop-color="#b7ff48"/><stop offset="0.95" stop-color="#aeff51"/></linearGradient><linearGradient id="g98" x2="0" y2="1"><stop offset="0.05" stop-color="#afff50"/><stop offset="0.45" stop-color="#beff41"/><stop offset="0.85" stop-color="#b7ff48"/><stop offset="0.95" stop-color="#afff50"/></linearGradient><linearGradient id="g99" x2="0" y2="1"><stop offset="0.05" stop-color="#afff50"/><stop offset="0.45" stop-color="#bfff40"/><stop offset="0.85" stop-color="#b8ff47"/><stop offset="0.95" stop-color="#afff50"/></linearGradient><linearGradient id="g100" x2="0" y2="1"><stop offset="0.05" stop-color="#b0ff4f"/><stop offset="0.45" stop-color="#c0ff3f"/><stop offset="0.85" stop-color="#b9ff46"/><stop offset="0.95" stop-color="#b0ff4f"/></linearGradient><linearGradient id="g101" x2="0" y2="1"><stop offset="0.05" stop-color="#b0ff4f"/><stop offset="0.45" stop-color="#c1ff3e"/><stop offset="0.85" stop-color="#b9ff46"/><stop offset="0.95" stop-color="#b0ff4f"/></linearGradient><linearGradient id="g102" x2="0" y2="1"><stop offset="0.05" stop-color="#b2ff4d"/><stop offset="0.45" stop-color="#c3ff3c"/><stop offset="0.85" stop-color="#bf4"/><stop offset="0.95" stop-color="#b2ff4d"/></linearGradient><linearGradient id="g103" x2="0" y2="1"><stop offset="0.05" stop-color="#b9ff46"/><stop offset="0.55" stop-color="#cdff32"/><stop offset="0.85" stop-color="#c3ff3c"/><stop offset="0.95" stop-color="#b9ff46"/></linearGradient><linearGradient id="g104" x2="0" y2="1"><stop offset="0.05" stop-color="#d3ff2c"/><stop offset="0.35" stop-color="#e0ff1f"/><stop offset="0.45" stop-color="#ef1"/><stop offset="0.75" stop-color="#edff12"/><stop offset="0.95" stop-color="#d1ff2e"/></linearGradient><linearGradient id="g105" x2="0" y2="1"><stop offset="0.05" stop-color="#ebff14"/><stop offset="0.25" stop-color="#f9ff06"/><stop offset="0.35" stop-color="#fcff03"/><stop offset="0.45" stop-color="#ffec00"/><stop offset="0.75" stop-color="#ffe800"/><stop offset="0.85" stop-color="#fcff03"/><stop offset="0.95" stop-color="#d6ff29"/></linearGradient><linearGradient id="g106" x2="0" y2="1"><stop offset="0.05" stop-color="#ebff14"/><stop offset="0.15" stop-color="#fff800"/><stop offset="0.35" stop-color="#fff600"/><stop offset="0.55" stop-color="#ffd900"/><stop offset="0.75" stop-color="#ffe300"/><stop offset="0.85" stop-color="#fff700"/><stop offset="0.95" stop-color="#d6ff29"/></linearGradient><linearGradient id="g107" x2="0" y2="1"><stop offset="0.05" stop-color="#ebff14"/><stop offset="0.15" stop-color="#f9ff06"/><stop offset="0.35" stop-color="#fdff02"/><stop offset="0.55" stop-color="#ffe500"/><stop offset="0.75" stop-color="#ffe800"/><stop offset="0.85" stop-color="#fdff02"/><stop offset="0.95" stop-color="#d6ff29"/></linearGradient><linearGradient id="g108" x2="0" y2="1"><stop offset="0.05" stop-color="#d4ff2b"/><stop offset="0.35" stop-color="#e0ff1f"/><stop offset="0.45" stop-color="#efff10"/><stop offset="0.75" stop-color="#ef1"/><stop offset="0.95" stop-color="#d1ff2e"/></linearGradient><linearGradient id="g109" x2="0" y2="1"><stop offset="0.05" stop-color="#9eff61"/><stop offset="0.85" stop-color="#a2ff5d"/><stop offset="0.95" stop-color="#9eff61"/></linearGradient><linearGradient id="g110" x2="0" y2="1"><stop offset="0.05" stop-color="#b6ff49"/><stop offset="0.45" stop-color="#c9ff36"/><stop offset="0.85" stop-color="#c0ff3f"/><stop offset="0.95" stop-color="#b6ff49"/></linearGradient><linearGradient id="g111" x2="0" y2="1"><stop offset="0.05" stop-color="#bf4"/><stop offset="0.35" stop-color="#d0ff2f"/><stop offset="0.85" stop-color="#c6ff39"/><stop offset="0.95" stop-color="#bf4"/></linearGradient><linearGradient id="g112" x2="0" y2="1"><stop offset="0.05" stop-color="#c1ff3e"/><stop offset="0.35" stop-color="#d9ff26"/><stop offset="0.75" stop-color="#d6ff29"/><stop offset="0.95" stop-color="#c1ff3e"/></linearGradient><linearGradient id="g113" x2="0" y2="1"><stop offset="0.05" stop-color="#b9ff46"/><stop offset="0.45" stop-color="#cdff32"/><stop offset="0.85" stop-color="#c3ff3c"/><stop offset="0.95" stop-color="#b9ff46"/></linearGradient><linearGradient id="g114" x2="0" y2="1"><stop offset="0.05" stop-color="#b1ff4e"/><stop offset="0.35" stop-color="#c2ff3d"/><stop offset="0.85" stop-color="#bf4"/><stop offset="0.95" stop-color="#b1ff4e"/></linearGradient><linearGradient id="g115" x2="0" y2="1"><stop offset="0.05" stop-color="#c1ff3e"/><stop offset="0.35" stop-color="#d9ff26"/><stop offset="0.75" stop-color="#d6ff29"/><stop offset="0.95" stop-color="#c1ff3e"/></linearGradient><linearGradient id="g116" x2="0" y2="1"><stop offset="0.05" stop-color="#b2ff4d"/><stop offset="0.45" stop-color="#c3ff3c"/><stop offset="0.85" stop-color="#bf4"/><stop offset="0.95" stop-color="#b2ff4d"/></linearGradient><linearGradient id="g117" x2="0" y2="1"><stop offset="0.05" stop-color="#b9ff46"/><stop offset="0.35" stop-color="#ceff31"/><stop offset="0.85" stop-color="#c4ff3b"/><stop offset="0.95" stop-color="#b9ff46"/></linearGradient><linearGradient id="g118" x2="0" y2="1"><stop offset="0.05" stop-color="#beff41"/><stop offset="0.35" stop-color="#d5ff2a"/><stop offset="0.75" stop-color="#d1ff2e"/><stop offset="0.95" stop-color="#beff41"/></linearGradient><linearGradient id="g119" x2="0" y2="1"><stop offset="0.05" stop-color="#b2ff4d"/><stop offset="0.35" stop-color="#c3ff3c"/><stop offset="0.85" stop-color="#bcff43"/><stop offset="0.95" stop-color="#b2ff4d"/></linearGradient><linearGradient id="g120" x2="0" y2="1"><stop offset="0.05" stop-color="#aeff51"/><stop offset="0.45" stop-color="#bdff42"/><stop offset="0.85" stop-color="#b6ff49"/><stop offset="0.95" stop-color="#aeff51"/></linearGradient><linearGradient id="g121" x2="0" y2="1"><stop offset="0.05" stop-color="#abff54"/><stop offset="0.45" stop-color="#b9ff46"/><stop offset="0.85" stop-color="#b3ff4c"/><stop offset="0.95" stop-color="#abff54"/></linearGradient><linearGradient id="g122" x2="0" y2="1"><stop offset="0.05" stop-color="#9cff63"/><stop offset="0.85" stop-color="#a0ff5f"/><stop offset="0.95" stop-color="#9cff63"/></linearGradient><linearGradient id="g123" x2="0" y2="1"><stop offset="0.023" stop-color="#c1ff3e"/><stop offset="0.25" stop-color="#ef1"/><stop offset="0.795" stop-color="#e5ff1a"/><stop offset="0.977" stop-color="#c1ff3e"/></linearGradient><linearGradient id="g124" x2="0" y2="1"><stop offset="0.023" stop-color="#f4ff0b"/><stop offset="0.068" stop-color="#fd0"/><stop offset="0.159" stop-color="#ff9300"/><stop offset="0.25" stop-color="#ff7300"/><stop offset="0.523" stop-color="#ff7900"/><stop offset="0.75" stop-color="#ff8600"/><stop offset="0.841" stop-color="#fa0"/><stop offset="0.955" stop-color="#fff900"/><stop offset="0.977" stop-color="#f1ff0e"/></linearGradient><linearGradient id="g125" x2="0" y2="1"><stop offset="0.023" stop-color="#ffab00"/><stop offset="0.08" stop-color="#ff3a00"/><stop offset="0.114" stop-color="#ff0500"/><stop offset="0.159" stop-color="#c80000"/><stop offset="0.341" stop-color="#b10000"/><stop offset="0.432" stop-color="#b40000"/><stop offset="0.705" stop-color="#df0000"/><stop offset="0.795" stop-color="#ef0000"/><stop offset="0.818" stop-color="#ff0200"/><stop offset="0.932" stop-color="#ff7500"/><stop offset="0.977" stop-color="#ffc100"/></linearGradient><linearGradient id="g126" x2="0" y2="1"><stop offset="0.023" stop-color="#ff8b00"/><stop offset="0.08" stop-color="#ff1300"/><stop offset="0.091" stop-color="#f00"/><stop offset="0.159" stop-color="#9c0000"/><stop offset="0.386" stop-color="#800"/><stop offset="0.795" stop-color="#c00"/><stop offset="0.841" stop-color="#f10000"/><stop offset="0.864" stop-color="#ff0a00"/><stop offset="0.932" stop-color="#ff5700"/><stop offset="0.977" stop-color="#ffa700"/></linearGradient><linearGradient id="g127" x2="0" y2="1"><stop offset="0.023" stop-color="#fff700"/><stop offset="0.114" stop-color="#ff8900"/><stop offset="0.159" stop-color="#ff5d00"/><stop offset="0.25" stop-color="#ff3d00"/><stop offset="0.432" stop-color="#ff3b00"/><stop offset="0.75" stop-color="#ff5600"/><stop offset="0.795" stop-color="#ff6500"/><stop offset="0.932" stop-color="#ffca00"/><stop offset="0.977" stop-color="#fffd00"/></linearGradient><linearGradient id="g128" x2="0" y2="1"><stop offset="0.023" stop-color="#ef1"/><stop offset="0.068" stop-color="#fff800"/><stop offset="0.159" stop-color="#ffd200"/><stop offset="0.295" stop-color="#ffc000"/><stop offset="0.75" stop-color="#ffc600"/><stop offset="0.886" stop-color="#ffe800"/><stop offset="0.932" stop-color="#fff900"/><stop offset="0.977" stop-color="#efff10"/></linearGradient><linearGradient id="g129" x2="0" y2="1"><stop offset="0.023" stop-color="#ecff13"/><stop offset="0.068" stop-color="#feff01"/><stop offset="0.159" stop-color="#ffe900"/><stop offset="0.841" stop-color="#ffe900"/><stop offset="0.932" stop-color="#feff01"/><stop offset="0.977" stop-color="#efff10"/></linearGradient><linearGradient id="g130" x2="0" y2="1"><stop offset="0.023" stop-color="#c9ff36"/><stop offset="0.114" stop-color="#f4ff0b"/><stop offset="0.932" stop-color="#efff10"/><stop offset="0.977" stop-color="#d3ff2c"/></linearGradient><linearGradient id="g131" x2="0" y2="1"><stop offset="0.023" stop-color="#c1ff3e"/><stop offset="0.114" stop-color="#f4ff0b"/><stop offset="0.886" stop-color="#f5ff0a"/><stop offset="0.932" stop-color="#edff12"/><stop offset="0.977" stop-color="#caff35"/></linearGradient><linearGradient id="g132" x2="0" y2="1"><stop offset="0.023" stop-color="#c3ff3c"/><stop offset="0.114" stop-color="#f6ff09"/><stop offset="0.886" stop-color="#f8ff07"/><stop offset="0.932" stop-color="#edff12"/><stop offset="0.977" stop-color="#caff35"/></linearGradient><linearGradient id="g133" x2="0" y2="1"><stop offset="0.023" stop-color="#c6ff39"/><stop offset="0.068" stop-color="#e6ff19"/><stop offset="0.114" stop-color="#f7ff08"/><stop offset="0.886" stop-color="#f8ff07"/><stop offset="0.932" stop-color="#edff12"/><stop offset="0.977" stop-color="#caff35"/></linearGradient><linearGradient id="g134" x2="0" y2="1"><stop offset="0.023" stop-color="#c9ff36"/><stop offset="0.068" stop-color="#ebff14"/><stop offset="0.159" stop-color="#faff05"/><stop offset="0.886" stop-color="#f8ff07"/><stop offset="0.932" stop-color="#ecff13"/><stop offset="0.977" stop-color="#c9ff36"/></linearGradient><linearGradient id="g135" x2="0" y2="1"><stop offset="0.023" stop-color="#cdff32"/><stop offset="0.068" stop-color="#efff10"/><stop offset="0.25" stop-color="#fbff04"/><stop offset="0.886" stop-color="#f9ff06"/><stop offset="0.932" stop-color="#ecff13"/><stop offset="0.977" stop-color="#c9ff36"/></linearGradient><linearGradient id="g136" x2="0" y2="1"><stop offset="0.023" stop-color="#cdff32"/><stop offset="0.068" stop-color="#efff10"/><stop offset="0.25" stop-color="#fffd00"/><stop offset="0.886" stop-color="#fbff04"/><stop offset="0.932" stop-color="#ef1"/><stop offset="0.977" stop-color="#c9ff36"/></linearGradient><linearGradient id="g137" x2="0" y2="1"><stop offset="0.023" stop-color="#cf3"/><stop offset="0.068" stop-color="#ef1"/><stop offset="0.159" stop-color="#feff01"/><stop offset="0.205" stop-color="#fff100"/><stop offset="0.795" stop-color="#fff200"/><stop offset="0.886" stop-color="#fff900"/><stop offset="0.932" stop-color="#f3ff0c"/><stop offset="0.977" stop-color="#c9ff36"/></linearGradient><linearGradient id="g138" x2="0" y2="1"><stop offset="0.023" stop-color="#cbff34"/><stop offset="0.068" stop-color="#ef1"/><stop offset="0.159" stop-color="#fff900"/><stop offset="0.205" stop-color="#ffe300"/><stop offset="0.432" stop-color="#ffd900"/><stop offset="0.841" stop-color="#ffe500"/><stop offset="0.886" stop-color="#ffe900"/><stop offset="0.932" stop-color="#f6ff09"/><stop offset="0.977" stop-color="#c9ff36"/></linearGradient><linearGradient id="g139" x2="0" y2="1"><stop offset="0.023" stop-color="#cbff34"/><stop offset="0.068" stop-color="#ef1"/><stop offset="0.114" stop-color="#fdff02"/><stop offset="0.205" stop-color="#ffdc00"/><stop offset="0.386" stop-color="#ffca00"/><stop offset="0.614" stop-color="#ffd100"/><stop offset="0.886" stop-color="#ffde00"/><stop offset="0.932" stop-color="#f5ff0a"/><stop offset="0.977" stop-color="#c8ff37"/></linearGradient><linearGradient id="g140" x2="0" y2="1"><stop offset="0.023" stop-color="#caff35"/><stop offset="0.068" stop-color="#edff12"/><stop offset="0.114" stop-color="#ff0"/><stop offset="0.159" stop-color="#ffe500"/><stop offset="0.341" stop-color="#ffc400"/><stop offset="0.568" stop-color="#ffc400"/><stop offset="0.659" stop-color="#ffd700"/><stop offset="0.886" stop-color="#ffde00"/><stop offset="0.932" stop-color="#f5ff0a"/><stop offset="0.977" stop-color="#c8ff37"/></linearGradient><linearGradient id="g141" x2="0" y2="1"><stop offset="0.023" stop-color="#c9ff36"/><stop offset="0.068" stop-color="#edff12"/><stop offset="0.114" stop-color="#fcff03"/><stop offset="0.205" stop-color="#fd0"/><stop offset="0.386" stop-color="#ffc900"/><stop offset="0.568" stop-color="#ffc900"/><stop offset="0.705" stop-color="#ffda00"/><stop offset="0.886" stop-color="#ffde00"/><stop offset="0.932" stop-color="#f5ff0a"/><stop offset="0.977" stop-color="#c8ff37"/></linearGradient><linearGradient id="g142" x2="0" y2="1"><stop offset="0.023" stop-color="#c9ff36"/><stop offset="0.068" stop-color="#ecff13"/><stop offset="0.159" stop-color="#fffb00"/><stop offset="0.205" stop-color="#ffe500"/><stop offset="0.386" stop-color="#ffd900"/><stop offset="0.614" stop-color="#ffda00"/><stop offset="0.75" stop-color="#ffe400"/><stop offset="0.886" stop-color="#ffe400"/><stop offset="0.932" stop-color="#f4ff0b"/><stop offset="0.977" stop-color="#c7ff38"/></linearGradient><linearGradient id="g143" x2="0" y2="1"><stop offset="0.023" stop-color="#c8ff37"/><stop offset="0.068" stop-color="#ebff14"/><stop offset="0.159" stop-color="#fdff02"/><stop offset="0.295" stop-color="#ffef00"/><stop offset="0.477" stop-color="#ffe200"/><stop offset="0.705" stop-color="#fff400"/><stop offset="0.886" stop-color="#fff600"/><stop offset="0.932" stop-color="#f3ff0c"/><stop offset="0.977" stop-color="#c7ff38"/></linearGradient><linearGradient id="g144" x2="0" y2="1"><stop offset="0.023" stop-color="#c8ff37"/><stop offset="0.068" stop-color="#ebff14"/><stop offset="0.159" stop-color="#fbff04"/><stop offset="0.341" stop-color="#fffa00"/><stop offset="0.432" stop-color="#ffe100"/><stop offset="0.477" stop-color="#ffe500"/><stop offset="0.568" stop-color="#fffd00"/><stop offset="0.886" stop-color="#fcff03"/><stop offset="0.932" stop-color="#ecff13"/><stop offset="0.977" stop-color="#c6ff39"/></linearGradient><linearGradient id="g145" x2="0" y2="1"><stop offset="0.023" stop-color="#c8ff37"/><stop offset="0.068" stop-color="#eaff15"/><stop offset="0.159" stop-color="#faff05"/><stop offset="0.341" stop-color="#fff800"/><stop offset="0.432" stop-color="#ffe100"/><stop offset="0.568" stop-color="#fdff02"/><stop offset="0.886" stop-color="#f9ff06"/><stop offset="0.932" stop-color="#e9ff16"/><stop offset="0.977" stop-color="#c6ff39"/></linearGradient><linearGradient id="g146" x2="0" y2="1"><stop offset="0.023" stop-color="#c7ff38"/><stop offset="0.068" stop-color="#eaff15"/><stop offset="0.159" stop-color="#faff05"/><stop offset="0.295" stop-color="#feff01"/><stop offset="0.386" stop-color="#ffe200"/><stop offset="0.477" stop-color="#ffe200"/><stop offset="0.568" stop-color="#fcff03"/><stop offset="0.886" stop-color="#f8ff07"/><stop offset="0.955" stop-color="#d6ff29"/><stop offset="0.977" stop-color="#c5ff3a"/></linearGradient><linearGradient id="g147" x2="0" y2="1"><stop offset="0.023" stop-color="#c7ff38"/><stop offset="0.068" stop-color="#e9ff16"/><stop offset="0.114" stop-color="#f8ff07"/><stop offset="0.295" stop-color="#feff01"/><stop offset="0.341" stop-color="#ffe800"/><stop offset="0.432" stop-color="#ffde00"/><stop offset="0.477" stop-color="#ffde00"/><stop offset="0.568" stop-color="#fdff02"/><stop offset="0.886" stop-color="#f7ff08"/><stop offset="0.955" stop-color="#d6ff29"/><stop offset="0.977" stop-color="#c5ff3a"/></linearGradient><linearGradient id="g148" x2="0" y2="1"><stop offset="0.023" stop-color="#c6ff39"/><stop offset="0.068" stop-color="#e9ff16"/><stop offset="0.114" stop-color="#f8ff07"/><stop offset="0.295" stop-color="#fffe00"/><stop offset="0.341" stop-color="#ffe500"/><stop offset="0.432" stop-color="#ffd900"/><stop offset="0.477" stop-color="#ffd900"/><stop offset="0.568" stop-color="#fdff02"/><stop offset="0.886" stop-color="#f7ff08"/><stop offset="0.955" stop-color="#d5ff2a"/><stop offset="0.977" stop-color="#c5ff3a"/></linearGradient><linearGradient id="g149" x2="0" y2="1"><stop offset="0.023" stop-color="#c6ff39"/><stop offset="0.068" stop-color="#e8ff17"/><stop offset="0.114" stop-color="#f8ff07"/><stop offset="0.295" stop-color="#fffd00"/><stop offset="0.341" stop-color="#ffe400"/><stop offset="0.432" stop-color="#ffd700"/><stop offset="0.477" stop-color="#ffd900"/><stop offset="0.568" stop-color="#feff01"/><stop offset="0.886" stop-color="#f7ff08"/><stop offset="0.955" stop-color="#d5ff2a"/><stop offset="0.977" stop-color="#c4ff3b"/></linearGradient><linearGradient id="g150" x2="0" y2="1"><stop offset="0.023" stop-color="#c5ff3a"/><stop offset="0.068" stop-color="#e7ff18"/><stop offset="0.114" stop-color="#f7ff08"/><stop offset="0.295" stop-color="#fffc00"/><stop offset="0.341" stop-color="#ffe200"/><stop offset="0.432" stop-color="#ffd700"/><stop offset="0.477" stop-color="#ffd800"/><stop offset="0.568" stop-color="#feff01"/><stop offset="0.886" stop-color="#f7ff08"/><stop offset="0.955" stop-color="#d5ff2a"/><stop offset="0.977" stop-color="#c4ff3b"/></linearGradient><linearGradient id="g151" x2="0" y2="1"><stop offset="0.023" stop-color="#c5ff3a"/><stop offset="0.068" stop-color="#e7ff18"/><stop offset="0.114" stop-color="#f7ff08"/><stop offset="0.295" stop-color="#fffa00"/><stop offset="0.341" stop-color="#ffe000"/><stop offset="0.432" stop-color="#ffd700"/><stop offset="0.523" stop-color="#ffe700"/><stop offset="0.568" stop-color="#fffe00"/><stop offset="0.886" stop-color="#f7ff08"/><stop offset="0.955" stop-color="#d4ff2b"/><stop offset="0.977" stop-color="#c4ff3b"/></linearGradient><linearGradient id="g152" x2="0" y2="1"><stop offset="0.023" stop-color="#c5ff3a"/><stop offset="0.068" stop-color="#e6ff19"/><stop offset="0.114" stop-color="#f7ff08"/><stop offset="0.295" stop-color="#fff900"/><stop offset="0.341" stop-color="#ffde00"/><stop offset="0.477" stop-color="#ffdb00"/><stop offset="0.568" stop-color="#feff01"/><stop offset="0.886" stop-color="#f7ff08"/><stop offset="0.955" stop-color="#d4ff2b"/><stop offset="0.977" stop-color="#c4ff3b"/></linearGradient><linearGradient id="g153" x2="0" y2="1"><stop offset="0.023" stop-color="#c4ff3b"/><stop offset="0.068" stop-color="#e4ff1b"/><stop offset="0.114" stop-color="#f6ff09"/><stop offset="0.295" stop-color="#fff700"/><stop offset="0.341" stop-color="#ffe200"/><stop offset="0.432" stop-color="#ffd900"/><stop offset="0.477" stop-color="#ffde00"/><stop offset="0.523" stop-color="#fff500"/><stop offset="0.614" stop-color="#faff05"/><stop offset="0.886" stop-color="#f6ff09"/><stop offset="0.955" stop-color="#d3ff2c"/><stop offset="0.977" stop-color="#c3ff3c"/></linearGradient><linearGradient id="g154" x2="0" y2="1"><stop offset="0.023" stop-color="#c3ff3c"/><stop offset="0.114" stop-color="#f2ff0d"/><stop offset="0.295" stop-color="#fffc00"/><stop offset="0.386" stop-color="#ffe000"/><stop offset="0.477" stop-color="#ffe300"/><stop offset="0.523" stop-color="#fffb00"/><stop offset="0.886" stop-color="#f4ff0b"/><stop offset="0.977" stop-color="#c2ff3d"/></linearGradient><linearGradient id="g155" x2="0" y2="1"><stop offset="0.023" stop-color="#c0ff3f"/><stop offset="0.114" stop-color="#edff12"/><stop offset="0.205" stop-color="#f9ff06"/><stop offset="0.341" stop-color="#fff900"/><stop offset="0.386" stop-color="#ffec00"/><stop offset="0.477" stop-color="#ffec00"/><stop offset="0.523" stop-color="#ff0"/><stop offset="0.886" stop-color="#f2ff0d"/><stop offset="0.977" stop-color="#c0ff3f"/></linearGradient><linearGradient id="g156" x2="0" y2="1"><stop offset="0.023" stop-color="#beff41"/><stop offset="0.159" stop-color="#f6ff09"/><stop offset="0.523" stop-color="#fcff03"/><stop offset="0.841" stop-color="#f8ff07"/><stop offset="0.886" stop-color="#ef1"/><stop offset="0.977" stop-color="#bfff40"/></linearGradient><linearGradient id="g157" x2="0" y2="1"><stop offset="0.023" stop-color="#beff41"/><stop offset="0.159" stop-color="#f3ff0c"/><stop offset="0.523" stop-color="#faff05"/><stop offset="0.841" stop-color="#f7ff08"/><stop offset="0.886" stop-color="#eaff15"/><stop offset="0.977" stop-color="#beff41"/></linearGradient><linearGradient id="g158" x2="0" y2="1"><stop offset="0.023" stop-color="#bdff42"/><stop offset="0.205" stop-color="#f7ff08"/><stop offset="0.841" stop-color="#f6ff09"/><stop offset="0.977" stop-color="#beff41"/></linearGradient><linearGradient id="g159" x2="0" y2="1"><stop offset="0.023" stop-color="#bdff42"/><stop offset="0.205" stop-color="#f3ff0c"/><stop offset="0.841" stop-color="#f3ff0c"/><stop offset="0.977" stop-color="#bdff42"/></linearGradient><linearGradient id="g160" x2="0" y2="1"><stop offset="0.023" stop-color="#b1ff4e"/><stop offset="0.114" stop-color="#c3ff3c"/><stop offset="0.205" stop-color="#e4ff1b"/><stop offset="0.841" stop-color="#e4ff1b"/><stop offset="0.932" stop-color="#bcff43"/><stop offset="0.977" stop-color="#b2ff4d"/></linearGradient><linearGradient id="g161" x2="0" y2="1"><stop offset="0.023" stop-color="#a2ff5d"/><stop offset="0.114" stop-color="#acff53"/><stop offset="0.205" stop-color="#c6ff39"/><stop offset="0.841" stop-color="#c6ff39"/><stop offset="0.977" stop-color="#a2ff5d"/></linearGradient><linearGradient id="g162" x2="0" y2="1"><stop offset="0.023" stop-color="#97ff68"/><stop offset="0.25" stop-color="#a9ff56"/><stop offset="0.886" stop-color="#a5ff5a"/><stop offset="0.977" stop-color="#98ff67"/></linearGradient><linearGradient id="g163" x2="0" y2="1"><stop offset="0.023" stop-color="#93ff6c"/><stop offset="0.568" stop-color="#9bff64"/><stop offset="0.977" stop-color="#93ff6c"/></linearGradient><linearGradient id="g164" x2="0" y2="1"><stop offset="0.05" stop-color="#aeff51"/><stop offset="0.45" stop-color="#bdff42"/><stop offset="0.85" stop-color="#b6ff49"/><stop offset="0.95" stop-color="#aeff51"/></linearGradient><linearGradient id="g165" x2="0" y2="1"><stop offset="0.05" stop-color="#a0ff5f"/><stop offset="0.75" stop-color="#a7ff58"/><stop offset="0.95" stop-color="#a0ff5f"/></linearGradient><linearGradient id="g166" x2="0" y2="1"><stop offset="0.05" stop-color="#a1ff5e"/><stop offset="0.75" stop-color="#a8ff57"/><stop offset="0.95" stop-color="#a0ff5f"/></linearGradient><linearGradient id="g167" x2="0" y2="1"><stop offset="0.05" stop-color="#95ff6a"/><stop offset="0.95" stop-color="#92ff6d"/></linearGradient><linearGradient id="g168" x2="0" y2="1"><stop offset="0.05" stop-color="#9fff60"/><stop offset="0.75" stop-color="#9eff61"/><stop offset="0.95" stop-color="#8fff70"/></linearGradient><linearGradient id="g169" x2="0" y2="1"><stop offset="0.05" stop-color="#fdff02"/><stop offset="0.15" stop-color="#ffe100"/><stop offset="0.75" stop-color="#ffe700"/><stop offset="0.85" stop-color="#fbff04"/><stop offset="0.95" stop-color="#d7ff28"/></linearGradient><linearGradient id="g170" x2="0" y2="1"><stop offset="0.05" stop-color="#ffd300"/><stop offset="0.15" stop-color="#ff9400"/><stop offset="0.55" stop-color="#ff9400"/><stop offset="0.75" stop-color="#ff9a00"/><stop offset="0.95" stop-color="#f9ff06"/></linearGradient><linearGradient id="g171" x2="0" y2="1"><stop offset="0.05" stop-color="#ffd300"/><stop offset="0.15" stop-color="#ff8300"/><stop offset="0.25" stop-color="#ff6e00"/><stop offset="0.65" stop-color="#ff7100"/><stop offset="0.75" stop-color="#ff8000"/><stop offset="0.917" stop-color="#ffe800"/><stop offset="0.95" stop-color="#feff01"/></linearGradient><linearGradient id="g172" x2="0" y2="1"><stop offset="0.05" stop-color="#ffd300"/><stop offset="0.15" stop-color="#ff8600"/><stop offset="0.25" stop-color="#f70"/><stop offset="0.55" stop-color="#ff7500"/><stop offset="0.75" stop-color="#ff9b00"/><stop offset="0.85" stop-color="#ffb800"/><stop offset="0.95" stop-color="#ff0"/></linearGradient><linearGradient id="g173" x2="0" y2="1"><stop offset="0.05" stop-color="#ffe800"/><stop offset="0.15" stop-color="#ffb900"/><stop offset="0.55" stop-color="#ffa800"/><stop offset="0.9" stop-color="#fff700"/><stop offset="0.95" stop-color="#f7ff08"/></linearGradient><linearGradient id="g174" x2="0" y2="1"><stop offset="0.05" stop-color="#ecff13"/><stop offset="0.15" stop-color="#fff700"/><stop offset="0.35" stop-color="#ffe900"/><stop offset="0.65" stop-color="#ffeb00"/><stop offset="0.85" stop-color="#f7ff08"/><stop offset="0.95" stop-color="#e0ff1f"/></linearGradient><linearGradient id="g175" x2="0" y2="1"><stop offset="0.05" stop-color="#dcff23"/><stop offset="0.25" stop-color="#fff900"/><stop offset="0.75" stop-color="#fffb00"/><stop offset="0.95" stop-color="#d9ff26"/></linearGradient><linearGradient id="g176" x2="0" y2="1"><stop offset="0.05" stop-color="#d8ff27"/><stop offset="0.15" stop-color="#efff10"/><stop offset="0.25" stop-color="#fff200"/><stop offset="0.65" stop-color="#fe0"/><stop offset="0.75" stop-color="#fff600"/><stop offset="0.95" stop-color="#d8ff27"/></linearGradient><linearGradient id="g177" x2="0" y2="1"><stop offset="0.05" stop-color="#d6ff29"/><stop offset="0.2" stop-color="#fbff04"/><stop offset="0.35" stop-color="#ffed00"/><stop offset="0.65" stop-color="#ffed00"/><stop offset="0.75" stop-color="#fff800"/><stop offset="0.95" stop-color="#d5ff2a"/></linearGradient><linearGradient id="g178" x2="0" y2="1"><stop offset="0.05" stop-color="#c6ff39"/><stop offset="0.25" stop-color="#f1ff0e"/><stop offset="0.75" stop-color="#f1ff0e"/><stop offset="0.95" stop-color="#c4ff3b"/></linearGradient><linearGradient id="g179" x2="0" y2="1"><stop offset="0.05" stop-color="#bfff40"/><stop offset="0.35" stop-color="#d1ff2e"/><stop offset="0.85" stop-color="#c7ff38"/><stop offset="0.95" stop-color="#aeff51"/></linearGradient><linearGradient id="g180" x2="0" y2="1"><stop offset="0.05" stop-color="#efff10"/><stop offset="0.35" stop-color="#feff01"/><stop offset="0.85" stop-color="#f9ff06"/><stop offset="0.95" stop-color="#bcff43"/></linearGradient><linearGradient id="g181" x2="0" y2="1"><stop offset="0.05" stop-color="#efff10"/><stop offset="0.1" stop-color="#fff800"/><stop offset="0.15" stop-color="#ffe200"/><stop offset="0.75" stop-color="#ffe100"/><stop offset="0.85" stop-color="#f9ff06"/><stop offset="0.95" stop-color="#bcff43"/></linearGradient><linearGradient id="g182" x2="0" y2="1"><stop offset="0.05" stop-color="#efff10"/><stop offset="0.1" stop-color="#fffb00"/><stop offset="0.15" stop-color="#ffe800"/><stop offset="0.75" stop-color="#ffe700"/><stop offset="0.85" stop-color="#f9ff06"/><stop offset="0.95" stop-color="#bcff43"/></linearGradient><linearGradient id="g183" x2="0" y2="1"><stop offset="0.05" stop-color="#eaff15"/><stop offset="0.75" stop-color="#f2ff0d"/><stop offset="0.85" stop-color="#efff10"/><stop offset="0.95" stop-color="#bf4"/></linearGradient><linearGradient id="g184" x2="0" y2="1"><stop offset="0.05" stop-color="#b8ff47"/><stop offset="0.65" stop-color="#c2ff3d"/><stop offset="0.85" stop-color="#bdff42"/><stop offset="0.95" stop-color="#acff53"/></linearGradient><linearGradient id="g185" x2="0" y2="1"><stop offset="0.05" stop-color="#b0ff4f"/><stop offset="0.45" stop-color="#c0ff3f"/><stop offset="0.95" stop-color="#acff53"/></linearGradient><linearGradient id="g186" x2="0" y2="1"><stop offset="0.05" stop-color="#c0ff3f"/><stop offset="0.35" stop-color="#daff25"/><stop offset="0.55" stop-color="#d5ff2a"/><stop offset="0.95" stop-color="#b3ff4c"/></linearGradient><linearGradient id="g187" x2="0" y2="1"><stop offset="0.05" stop-color="#edff12"/><stop offset="0.15" stop-color="#fff900"/><stop offset="0.45" stop-color="#ffe500"/><stop offset="0.65" stop-color="#fffd00"/><stop offset="0.95" stop-color="#caff35"/></linearGradient><linearGradient id="g188" x2="0" y2="1"><stop offset="0.05" stop-color="#ef1"/><stop offset="0.083" stop-color="#fffe00"/><stop offset="0.15" stop-color="#ffdb00"/><stop offset="0.35" stop-color="#ffcd00"/><stop offset="0.55" stop-color="#ffcf00"/><stop offset="0.8" stop-color="#f8ff07"/><stop offset="0.85" stop-color="#e2ff1d"/><stop offset="0.95" stop-color="#caff35"/></linearGradient><linearGradient id="g189" x2="0" y2="1"><stop offset="0.05" stop-color="#ef1"/><stop offset="0.083" stop-color="#fffd00"/><stop offset="0.15" stop-color="#ffd500"/><stop offset="0.25" stop-color="#ffc600"/><stop offset="0.55" stop-color="#ffc600"/><stop offset="0.65" stop-color="#ffd300"/><stop offset="0.8" stop-color="#f7ff08"/><stop offset="0.85" stop-color="#dfff20"/><stop offset="0.95" stop-color="#caff35"/></linearGradient><linearGradient id="g190" x2="0" y2="1"><stop offset="0.05" stop-color="#ef1"/><stop offset="0.083" stop-color="#fffd00"/><stop offset="0.15" stop-color="#ffd500"/><stop offset="0.25" stop-color="#ffc600"/><stop offset="0.55" stop-color="#ffc600"/><stop offset="0.65" stop-color="#ffd300"/><stop offset="0.75" stop-color="#fff700"/><stop offset="0.85" stop-color="#df2"/><stop offset="0.95" stop-color="#c9ff36"/></linearGradient><linearGradient id="g191" x2="0" y2="1"><stop offset="0.05" stop-color="#ef1"/><stop offset="0.083" stop-color="#fffd00"/><stop offset="0.15" stop-color="#ffd600"/><stop offset="0.45" stop-color="#ffcd00"/><stop offset="0.65" stop-color="#ffd500"/><stop offset="0.75" stop-color="#feff01"/><stop offset="0.85" stop-color="#dbff24"/><stop offset="0.95" stop-color="#c9ff36"/></linearGradient><linearGradient id="g192" x2="0" y2="1"><stop offset="0.05" stop-color="#ef1"/><stop offset="0.1" stop-color="#ff0"/><stop offset="0.15" stop-color="#fe0"/><stop offset="0.35" stop-color="#ffda00"/><stop offset="0.65" stop-color="#ffe300"/><stop offset="0.75" stop-color="#f6ff09"/><stop offset="0.95" stop-color="#c9ff36"/></linearGradient><linearGradient id="g193" x2="0" y2="1"><stop offset="0.05" stop-color="#d5ff2a"/><stop offset="0.25" stop-color="#f8ff07"/><stop offset="0.55" stop-color="#fbff04"/><stop offset="0.75" stop-color="#eaff15"/><stop offset="0.95" stop-color="#c5ff3a"/></linearGradient><linearGradient id="g194" x2="0" y2="1"><stop offset="0.05" stop-color="#8cff73"/><stop offset="0.45" stop-color="#96ff69"/><stop offset="0.95" stop-color="#8f7"/></linearGradient><linearGradient id="g195" x2="0" y2="1"><stop offset="0.05" stop-color="#98ff67"/><stop offset="0.75" stop-color="#9fff60"/><stop offset="0.95" stop-color="#97ff68"/></linearGradient><linearGradient id="g196" x2="0" y2="1"><stop offset="0.05" stop-color="#b9ff46"/><stop offset="0.35" stop-color="#d0ff2f"/><stop offset="0.75" stop-color="#cdff32"/><stop offset="0.95" stop-color="#b8ff47"/></linearGradient><linearGradient id="g197" x2="0" y2="1"><stop offset="0.05" stop-color="#b9ff46"/><stop offset="0.25" stop-color="#d4ff2b"/><stop offset="0.75" stop-color="#d4ff2b"/><stop offset="0.95" stop-color="#b9ff46"/></linearGradient><linearGradient id="g198" x2="0" y2="1"><stop offset="0.05" stop-color="#b9ff46"/><stop offset="0.25" stop-color="#daff25"/><stop offset="0.65" stop-color="#dfff20"/><stop offset="0.95" stop-color="#b9ff46"/></linearGradient><linearGradient id="g199" x2="0" y2="1"><stop offset="0.05" stop-color="#b9ff46"/><stop offset="0.35" stop-color="#e3ff1c"/><stop offset="0.65" stop-color="#e3ff1c"/><stop offset="0.95" stop-color="#b9ff46"/></linearGradient><linearGradient id="g200" x2="0" y2="1"><stop offset="0.05" stop-color="#b9ff46"/><stop offset="0.35" stop-color="#e4ff1b"/><stop offset="0.65" stop-color="#e3ff1c"/><stop offset="0.95" stop-color="#b9ff46"/></linearGradient><linearGradient id="g201" x2="0" y2="1"><stop offset="0.05" stop-color="#b9ff46"/><stop offset="0.25" stop-color="#daff25"/><stop offset="0.65" stop-color="#e1ff1e"/><stop offset="0.95" stop-color="#b9ff46"/></linearGradient><linearGradient id="g202" x2="0" y2="1"><stop offset="0.05" stop-color="#b9ff46"/><stop offset="0.25" stop-color="#d8ff27"/><stop offset="0.75" stop-color="#d8ff27"/><stop offset="0.95" stop-color="#b9ff46"/></linearGradient><linearGradient id="g203" x2="0" y2="1"><stop offset="0.05" stop-color="#b9ff46"/><stop offset="0.35" stop-color="#d1ff2e"/><stop offset="0.75" stop-color="#cfff30"/><stop offset="0.95" stop-color="#b9ff46"/></linearGradient><linearGradient id="g204" x2="0" y2="1"><stop offset="0.05" stop-color="#b8ff47"/><stop offset="0.35" stop-color="#ceff31"/><stop offset="0.85" stop-color="#c4ff3b"/><stop offset="0.95" stop-color="#b8ff47"/></linearGradient><linearGradient id="g205" x2="0" y2="1"><stop offset="0.05" stop-color="#a2ff5d"/><stop offset="0.65" stop-color="#acff53"/><stop offset="0.95" stop-color="#a2ff5d"/></linearGradient><linearGradient id="g206" x2="0" y2="1"><stop offset="0.023" stop-color="#95ff6a"/><stop offset="0.841" stop-color="#9aff65"/><stop offset="0.977" stop-color="#92ff6d"/></linearGradient><linearGradient id="g207" x2="0" y2="1"><stop offset="0.023" stop-color="#b6ff49"/><stop offset="0.114" stop-color="#bfff40"/><stop offset="0.159" stop-color="#d0ff2f"/><stop offset="0.795" stop-color="#d8ff27"/><stop offset="0.977" stop-color="#a7ff58"/></linearGradient><linearGradient id="g208" x2="0" y2="1"><stop offset="0.023" stop-color="#edff12"/><stop offset="0.114" stop-color="#f6ff09"/><stop offset="0.159" stop-color="#fd0"/><stop offset="0.477" stop-color="#ffdb00"/><stop offset="0.523" stop-color="#ffc700"/><stop offset="0.795" stop-color="#ffc700"/><stop offset="0.841" stop-color="#ffd200"/><stop offset="0.886" stop-color="#fff800"/><stop offset="0.955" stop-color="#daff25"/><stop offset="0.977" stop-color="#c7ff38"/></linearGradient><linearGradient id="g209" x2="0" y2="1"><stop offset="0.023" stop-color="#fff800"/><stop offset="0.114" stop-color="#ffec00"/><stop offset="0.205" stop-color="#ffb100"/><stop offset="0.477" stop-color="#ffaf00"/><stop offset="0.523" stop-color="#ff9000"/><stop offset="0.841" stop-color="#ff8e00"/><stop offset="0.947" stop-color="#ffef00"/><stop offset="0.962" stop-color="#fdff02"/><stop offset="0.977" stop-color="#eaff15"/></linearGradient><linearGradient id="g210" x2="0" y2="1"><stop offset="0.023" stop-color="#fff800"/><stop offset="0.068" stop-color="#ffe900"/><stop offset="0.114" stop-color="#ffe700"/><stop offset="0.205" stop-color="#ffa800"/><stop offset="0.477" stop-color="#ffa700"/><stop offset="0.523" stop-color="#ff8c00"/><stop offset="0.841" stop-color="#ff8700"/><stop offset="0.909" stop-color="#ffbd00"/><stop offset="0.962" stop-color="#fffb00"/><stop offset="0.977" stop-color="#f0ff0f"/></linearGradient><linearGradient id="g211" x2="0" y2="1"><stop offset="0.023" stop-color="#fff800"/><stop offset="0.114" stop-color="#fff100"/><stop offset="0.159" stop-color="#fc0"/><stop offset="0.205" stop-color="#ffbc00"/><stop offset="0.477" stop-color="#ffba00"/><stop offset="0.523" stop-color="#ffab00"/><stop offset="0.841" stop-color="#ffab00"/><stop offset="0.886" stop-color="#ffb900"/><stop offset="0.955" stop-color="#fff600"/><stop offset="0.977" stop-color="#f0ff0f"/></linearGradient><linearGradient id="g212" x2="0" y2="1"><stop offset="0.023" stop-color="#e7ff18"/><stop offset="0.114" stop-color="#f6ff09"/><stop offset="0.159" stop-color="#ffeb00"/><stop offset="0.841" stop-color="#ffe500"/><stop offset="0.932" stop-color="#fffb00"/><stop offset="0.977" stop-color="#e8ff17"/></linearGradient><linearGradient id="g213" x2="0" y2="1"><stop offset="0.023" stop-color="#d2ff2d"/><stop offset="0.159" stop-color="#f2ff0d"/><stop offset="0.886" stop-color="#edff12"/><stop offset="0.977" stop-color="#d3ff2c"/></linearGradient><linearGradient id="g214" x2="0" y2="1"><stop offset="0.023" stop-color="#beff41"/><stop offset="0.205" stop-color="#d4ff2b"/><stop offset="0.341" stop-color="#d6ff29"/><stop offset="0.432" stop-color="#eaff15"/><stop offset="0.795" stop-color="#e6ff19"/><stop offset="0.886" stop-color="#cfff30"/><stop offset="0.977" stop-color="#beff41"/></linearGradient><linearGradient id="g215" x2="0" y2="1"><stop offset="0.023" stop-color="#bdff42"/><stop offset="0.205" stop-color="#d2ff2d"/><stop offset="0.341" stop-color="#d5ff2a"/><stop offset="0.386" stop-color="#e5ff1a"/><stop offset="0.795" stop-color="#e4ff1b"/><stop offset="0.886" stop-color="#cdff32"/><stop offset="0.977" stop-color="#bdff42"/></linearGradient><linearGradient id="g216" x2="0" y2="1"><stop offset="0.023" stop-color="#bdff42"/><stop offset="0.205" stop-color="#d2ff2d"/><stop offset="0.659" stop-color="#daff25"/><stop offset="0.841" stop-color="#d3ff2c"/><stop offset="0.977" stop-color="#bdff42"/></linearGradient><linearGradient id="g217" x2="0" y2="1"><stop offset="0.023" stop-color="#bdff42"/><stop offset="0.205" stop-color="#d2ff2d"/><stop offset="0.841" stop-color="#d2ff2d"/><stop offset="0.977" stop-color="#bdff42"/></linearGradient><linearGradient id="g218" x2="0" y2="1"><stop offset="0.023" stop-color="#bdff42"/><stop offset="0.205" stop-color="#d2ff2d"/><stop offset="0.568" stop-color="#dbff24"/><stop offset="0.932" stop-color="#c6ff39"/><stop offset="0.977" stop-color="#bdff42"/></linearGradient><linearGradient id="g219" x2="0" y2="1"><stop offset="0.023" stop-color="#bdff42"/><stop offset="0.205" stop-color="#d2ff2d"/><stop offset="0.432" stop-color="#e1ff1e"/><stop offset="0.614" stop-color="#df2"/><stop offset="0.932" stop-color="#c6ff39"/><stop offset="0.977" stop-color="#bdff42"/></linearGradient><linearGradient id="g220" x2="0" y2="1"><stop offset="0.023" stop-color="#bfff40"/><stop offset="0.386" stop-color="#ebff14"/><stop offset="0.568" stop-color="#eaff15"/><stop offset="0.705" stop-color="#d5ff2a"/><stop offset="0.886" stop-color="#cfff30"/><stop offset="0.977" stop-color="#bfff40"/></linearGradient><linearGradient id="g221" x2="0" y2="1"><stop offset="0.023" stop-color="#c2ff3d"/><stop offset="0.205" stop-color="#daff25"/><stop offset="0.386" stop-color="#f4ff0b"/><stop offset="0.568" stop-color="#f1ff0e"/><stop offset="0.705" stop-color="#daff25"/><stop offset="0.886" stop-color="#d3ff2c"/><stop offset="0.977" stop-color="#c2ff3d"/></linearGradient><linearGradient id="g222" x2="0" y2="1"><stop offset="0.023" stop-color="#c3ff3c"/><stop offset="0.159" stop-color="#dbff24"/><stop offset="0.295" stop-color="#e5ff1a"/><stop offset="0.386" stop-color="#feff01"/><stop offset="0.568" stop-color="#f2ff0d"/><stop offset="0.705" stop-color="#dcff23"/><stop offset="0.886" stop-color="#d6ff29"/><stop offset="0.977" stop-color="#c3ff3c"/></linearGradient><linearGradient id="g223" x2="0" y2="1"><stop offset="0.023" stop-color="#c3ff3c"/><stop offset="0.205" stop-color="#dbff24"/><stop offset="0.295" stop-color="#e4ff1b"/><stop offset="0.386" stop-color="#fff700"/><stop offset="0.523" stop-color="#fbff04"/><stop offset="0.705" stop-color="#dcff23"/><stop offset="0.886" stop-color="#d5ff2a"/><stop offset="0.977" stop-color="#c3ff3c"/></linearGradient><linearGradient id="g224" x2="0" y2="1"><stop offset="0.023" stop-color="#c3ff3c"/><stop offset="0.205" stop-color="#dbff24"/><stop offset="0.295" stop-color="#e4ff1b"/><stop offset="0.386" stop-color="#fff500"/><stop offset="0.477" stop-color="#fff800"/><stop offset="0.705" stop-color="#dbff24"/><stop offset="0.886" stop-color="#d5ff2a"/><stop offset="0.977" stop-color="#c3ff3c"/></linearGradient><linearGradient id="g225" x2="0" y2="1"><stop offset="0.023" stop-color="#c2ff3d"/><stop offset="0.205" stop-color="#daff25"/><stop offset="0.295" stop-color="#e3ff1c"/><stop offset="0.386" stop-color="#fffb00"/><stop offset="0.523" stop-color="#fbff04"/><stop offset="0.705" stop-color="#daff25"/><stop offset="0.886" stop-color="#d4ff2b"/><stop offset="0.977" stop-color="#c2ff3d"/></linearGradient><linearGradient id="g226" x2="0" y2="1"><stop offset="0.023" stop-color="#c2ff3d"/><stop offset="0.205" stop-color="#daff25"/><stop offset="0.295" stop-color="#e3ff1c"/><stop offset="0.386" stop-color="#fcff03"/><stop offset="0.523" stop-color="#fbff04"/><stop offset="0.659" stop-color="#df2"/><stop offset="0.886" stop-color="#d4ff2b"/><stop offset="0.977" stop-color="#c2ff3d"/></linearGradient><linearGradient id="g227" x2="0" y2="1"><stop offset="0.023" stop-color="#c1ff3e"/><stop offset="0.205" stop-color="#d9ff26"/><stop offset="0.341" stop-color="#efff10"/><stop offset="0.432" stop-color="#faff05"/><stop offset="0.568" stop-color="#f1ff0e"/><stop offset="0.705" stop-color="#d9ff26"/><stop offset="0.886" stop-color="#d3ff2c"/><stop offset="0.977" stop-color="#c1ff3e"/></linearGradient><linearGradient id="g228" x2="0" y2="1"><stop offset="0.023" stop-color="#c1ff3e"/><stop offset="0.205" stop-color="#d9ff26"/><stop offset="0.432" stop-color="#f5ff0a"/><stop offset="0.568" stop-color="#f1ff0e"/><stop offset="0.705" stop-color="#d9ff26"/><stop offset="0.886" stop-color="#d2ff2d"/><stop offset="0.977" stop-color="#c1ff3e"/></linearGradient><linearGradient id="g229" x2="0" y2="1"><stop offset="0.023" stop-color="#c1ff3e"/><stop offset="0.205" stop-color="#d8ff27"/><stop offset="0.386" stop-color="#efff10"/><stop offset="0.568" stop-color="#efff10"/><stop offset="0.705" stop-color="#d8ff27"/><stop offset="0.886" stop-color="#d2ff2d"/><stop offset="0.977" stop-color="#c1ff3e"/></linearGradient><linearGradient id="g230" x2="0" y2="1"><stop offset="0.023" stop-color="#c0ff3f"/><stop offset="0.159" stop-color="#d7ff28"/><stop offset="0.432" stop-color="#e9ff16"/><stop offset="0.614" stop-color="#e3ff1c"/><stop offset="0.795" stop-color="#d7ff28"/><stop offset="0.977" stop-color="#c0ff3f"/></linearGradient><linearGradient id="g231" x2="0" y2="1"><stop offset="0.023" stop-color="#bcff43"/><stop offset="0.205" stop-color="#d1ff2e"/><stop offset="0.432" stop-color="#deff21"/><stop offset="0.659" stop-color="#d4ff2b"/><stop offset="0.932" stop-color="#c5ff3a"/><stop offset="0.977" stop-color="#bcff43"/></linearGradient><linearGradient id="g232" x2="0" y2="1"><stop offset="0.023" stop-color="#b6ff49"/><stop offset="0.341" stop-color="#d1ff2e"/><stop offset="0.886" stop-color="#c3ff3c"/><stop offset="0.977" stop-color="#b6ff49"/></linearGradient><linearGradient id="g233" x2="0" y2="1"><stop offset="0.023" stop-color="#b6ff49"/><stop offset="0.295" stop-color="#cf3"/><stop offset="0.886" stop-color="#c3ff3c"/><stop offset="0.977" stop-color="#b6ff49"/></linearGradient><linearGradient id="g234" x2="0" y2="1"><stop offset="0.023" stop-color="#b6ff49"/><stop offset="0.25" stop-color="#c9ff36"/><stop offset="0.886" stop-color="#c3ff3c"/><stop offset="0.977" stop-color="#b6ff49"/></linearGradient><linearGradient id="g235" x2="0" y2="1"><stop offset="0.023" stop-color="#b6ff49"/><stop offset="0.205" stop-color="#c7ff38"/><stop offset="0.841" stop-color="#c7ff38"/><stop offset="0.977" stop-color="#b6ff49"/></linearGradient><linearGradient id="g236" x2="0" y2="1"><stop offset="0.023" stop-color="#b6ff49"/><stop offset="0.205" stop-color="#c7ff38"/><stop offset="0.523" stop-color="#d0ff2f"/><stop offset="0.932" stop-color="#beff41"/><stop offset="0.977" stop-color="#b6ff49"/></linearGradient><linearGradient id="g237" x2="0" y2="1"><stop offset="0.023" stop-color="#b6ff49"/><stop offset="0.205" stop-color="#c7ff38"/><stop offset="0.432" stop-color="#d6ff29"/><stop offset="0.523" stop-color="#d6ff29"/><stop offset="0.659" stop-color="#c7ff38"/><stop offset="0.932" stop-color="#beff41"/><stop offset="0.977" stop-color="#b6ff49"/></linearGradient><linearGradient id="g238" x2="0" y2="1"><stop offset="0.023" stop-color="#b6ff49"/><stop offset="0.205" stop-color="#c7ff38"/><stop offset="0.432" stop-color="#dcff23"/><stop offset="0.659" stop-color="#c7ff38"/><stop offset="0.932" stop-color="#beff41"/><stop offset="0.977" stop-color="#b6ff49"/></linearGradient><linearGradient id="g239" x2="0" y2="1"><stop offset="0.023" stop-color="#b6ff49"/><stop offset="0.205" stop-color="#c7ff38"/><stop offset="0.432" stop-color="#df2"/><stop offset="0.659" stop-color="#c7ff38"/><stop offset="0.932" stop-color="#beff41"/><stop offset="0.977" stop-color="#b6ff49"/></linearGradient><linearGradient id="g240" x2="0" y2="1"><stop offset="0.023" stop-color="#b6ff49"/><stop offset="0.205" stop-color="#c7ff38"/><stop offset="0.386" stop-color="#d7ff28"/><stop offset="0.523" stop-color="#d6ff29"/><stop offset="0.614" stop-color="#c7ff38"/><stop offset="0.886" stop-color="#c3ff3c"/><stop offset="0.977" stop-color="#b6ff49"/></linearGradient><linearGradient id="g241" x2="0" y2="1"><stop offset="0.023" stop-color="#b6ff49"/><stop offset="0.205" stop-color="#c7ff38"/><stop offset="0.523" stop-color="#d0ff2f"/><stop offset="0.795" stop-color="#c7ff38"/><stop offset="0.977" stop-color="#b6ff49"/></linearGradient><linearGradient id="g242" x2="0" y2="1"><stop offset="0.023" stop-color="#b6ff49"/><stop offset="0.205" stop-color="#c7ff38"/><stop offset="0.886" stop-color="#c3ff3c"/><stop offset="0.977" stop-color="#b6ff49"/></linearGradient><linearGradient id="g243" x2="0" y2="1"><stop offset="0.023" stop-color="#a1ff5e"/><stop offset="0.523" stop-color="#aeff51"/><stop offset="0.977" stop-color="#a1ff5e"/></linearGradient><linearGradient id="g244" x2="0" y2="1"><stop offset="0.05" stop-color="#8aff75"/><stop offset="0.95" stop-color="#8dff72"/></linearGradient><linearGradient id="g245" x2="0" y2="1"><stop offset="0.05" stop-color="#86ff79"/><stop offset="0.95" stop-color="#8aff75"/></linearGradient><linearGradient id="g246" x2="0" y2="1"><stop offset="0.05" stop-color="#74ff8b"/><stop offset="0.75" stop-color="#76ff89"/><stop offset="0.95" stop-color="#81ff7e"/></linearGradient><linearGradient id="g247" x2="0" y2="1"><stop offset="0.05" stop-color="#5effa1"/><stop offset="0.55" stop-color="#57ffa8"/><stop offset="0.95" stop-color="#76ff89"/></linearGradient><linearGradient id="g248" x2="0" y2="1"><stop offset="0.05" stop-color="#b3ff4c"/><stop offset="0.65" stop-color="#b6ff49"/><stop offset="0.95" stop-color="#a1ff5e"/></linearGradient><linearGradient id="g249" x2="0" y2="1"><stop offset="0.05" stop-color="#daff25"/><stop offset="0.25" stop-color="#e5ff1a"/><stop offset="0.65" stop-color="#e0ff1f"/><stop offset="0.95" stop-color="#b5ff4a"/></linearGradient><linearGradient id="g250" x2="0" y2="1"><stop offset="0.05" stop-color="#b9ff46"/><stop offset="0.65" stop-color="#bcff43"/><stop offset="0.95" stop-color="#a4ff5b"/></linearGradient><linearGradient id="g251" x2="0" y2="1"><stop offset="0.05" stop-color="#47ffb8"/><stop offset="0.25" stop-color="#3cffc3"/><stop offset="0.65" stop-color="#41ffbe"/><stop offset="0.95" stop-color="#6aff95"/></linearGradient><linearGradient id="g252" x2="0" y2="1"><stop offset="0.05" stop-color="#4fb"/><stop offset="0.25" stop-color="#38ffc7"/><stop offset="0.65" stop-color="#3effc1"/><stop offset="0.95" stop-color="#69ff96"/></linearGradient><linearGradient id="g253" x2="0" y2="1"><stop offset="0.05" stop-color="#91ff6e"/><stop offset="0.95" stop-color="#90ff6f"/></linearGradient><linearGradient id="g254" x2="0" y2="1"><stop offset="0.05" stop-color="#f1ff0e"/><stop offset="0.15" stop-color="#fffd00"/><stop offset="0.65" stop-color="#f9ff06"/><stop offset="0.95" stop-color="#c1ff3e"/></linearGradient><linearGradient id="g255" x2="0" y2="1"><stop offset="0.05" stop-color="#fff900"/><stop offset="0.15" stop-color="#ffe700"/><stop offset="0.55" stop-color="#ffe700"/><stop offset="0.75" stop-color="#fdff02"/><stop offset="0.95" stop-color="#cbff34"/></linearGradient><linearGradient id="g256" x2="0" y2="1"><stop offset="0.05" stop-color="#ff3000"/><stop offset="0.15" stop-color="#fe0000"/><stop offset="0.55" stop-color="#fe0000"/><stop offset="0.65" stop-color="#ff1600"/><stop offset="0.783" stop-color="#ff5900"/><stop offset="0.95" stop-color="#fc0"/></linearGradient><linearGradient id="g257" x2="0" y2="1"><stop offset="0.05" stop-color="#f40000"/><stop offset="0.15" stop-color="#ba0000"/><stop offset="0.55" stop-color="#ba0000"/><stop offset="0.65" stop-color="#d60000"/><stop offset="0.717" stop-color="#fa0000"/><stop offset="0.775" stop-color="#ff1f00"/><stop offset="0.925" stop-color="#ff9800"/><stop offset="0.95" stop-color="#ffae00"/></linearGradient><linearGradient id="g258" x2="0" y2="1"><stop offset="0.05" stop-color="#ef0000"/><stop offset="0.15" stop-color="#b40000"/><stop offset="0.55" stop-color="#b40000"/><stop offset="0.65" stop-color="#d00000"/><stop offset="0.75" stop-color="#ff0800"/><stop offset="0.9" stop-color="#ff7e00"/><stop offset="0.95" stop-color="#ffab00"/></linearGradient><linearGradient id="g259" x2="0" y2="1"><stop offset="0.05" stop-color="#ff2400"/><stop offset="0.1" stop-color="#ff0a00"/><stop offset="0.15" stop-color="#f00000"/><stop offset="0.55" stop-color="#f00000"/><stop offset="0.65" stop-color="#ff0900"/><stop offset="0.817" stop-color="#ff6300"/><stop offset="0.95" stop-color="#ffc500"/></linearGradient><linearGradient id="g260" x2="0" y2="1"><stop offset="0.05" stop-color="#ff0500"/><stop offset="0.15" stop-color="#cd0000"/><stop offset="0.55" stop-color="#cd0000"/><stop offset="0.65" stop-color="#e70000"/><stop offset="0.717" stop-color="#ff0b00"/><stop offset="0.875" stop-color="#f70"/><stop offset="0.95" stop-color="#ffb600"/></linearGradient><linearGradient id="g261" x2="0" y2="1"><stop offset="0.05" stop-color="#ff0800"/><stop offset="0.15" stop-color="#cf0000"/><stop offset="0.55" stop-color="#cf0000"/><stop offset="0.65" stop-color="#e90000"/><stop offset="0.683" stop-color="#fa0000"/><stop offset="0.783" stop-color="#ff3500"/><stop offset="0.95" stop-color="#ffb700"/></linearGradient><linearGradient id="g262" x2="0" y2="1"><stop offset="0.05" stop-color="#ff3600"/><stop offset="0.15" stop-color="#ff0500"/><stop offset="0.55" stop-color="#ff0500"/><stop offset="0.65" stop-color="#ff1c00"/><stop offset="0.817" stop-color="#ff7100"/><stop offset="0.95" stop-color="#ffcf00"/></linearGradient><linearGradient id="g263" x2="0" y2="1"><stop offset="0.05" stop-color="#f20000"/><stop offset="0.15" stop-color="#b80000"/><stop offset="0.55" stop-color="#b80000"/><stop offset="0.65" stop-color="#d30000"/><stop offset="0.717" stop-color="#f80000"/><stop offset="0.775" stop-color="#ff1d00"/><stop offset="0.925" stop-color="#ff9600"/><stop offset="0.95" stop-color="#ffac00"/></linearGradient><linearGradient id="g264" x2="0" y2="1"><stop offset="0.05" stop-color="#f00"/><stop offset="0.15" stop-color="#c70000"/><stop offset="0.55" stop-color="#c70000"/><stop offset="0.65" stop-color="#e10000"/><stop offset="0.717" stop-color="#ff0500"/><stop offset="0.875" stop-color="#ff7300"/><stop offset="0.95" stop-color="#ffb400"/></linearGradient><linearGradient id="g265" x2="0" y2="1"><stop offset="0.05" stop-color="#ffce00"/><stop offset="0.15" stop-color="#ffb500"/><stop offset="0.55" stop-color="#ffb500"/><stop offset="0.75" stop-color="#ffd800"/><stop offset="0.85" stop-color="#fff700"/><stop offset="0.95" stop-color="#e1ff1e"/></linearGradient><linearGradient id="g266" x2="0" y2="1"><stop offset="0.05" stop-color="#fffc00"/><stop offset="0.15" stop-color="#ffeb00"/><stop offset="0.55" stop-color="#ffeb00"/><stop offset="0.75" stop-color="#faff05"/><stop offset="0.95" stop-color="#c9ff36"/></linearGradient><linearGradient id="g267" x2="0" y2="1"><stop offset="0.05" stop-color="#e3ff1c"/><stop offset="0.15" stop-color="#f0ff0f"/><stop offset="0.65" stop-color="#eaff15"/><stop offset="0.95" stop-color="#baff45"/></linearGradient><linearGradient id="g268" x2="0" y2="1"><stop offset="0.05" stop-color="#fff800"/><stop offset="0.15" stop-color="#ffe500"/><stop offset="0.55" stop-color="#ffe500"/><stop offset="0.75" stop-color="#feff01"/><stop offset="0.95" stop-color="#cf3"/></linearGradient><linearGradient id="g269" x2="0" y2="1"><stop offset="0.05" stop-color="#f0ff0f"/><stop offset="0.15" stop-color="#feff01"/><stop offset="0.65" stop-color="#f7ff08"/><stop offset="0.95" stop-color="#c0ff3f"/></linearGradient><linearGradient id="g270" x2="0" y2="1"><stop offset="0.05" stop-color="#9bff64"/><stop offset="0.95" stop-color="#95ff6a"/></linearGradient><linearGradient id="g271" x2="0" y2="1"><stop offset="0.05" stop-color="#80ff7f"/><stop offset="0.85" stop-color="#84ff7b"/><stop offset="0.95" stop-color="#87ff78"/></linearGradient><linearGradient id="g272" x2="0" y2="1"><stop offset="0.05" stop-color="#7dff82"/><stop offset="0.85" stop-color="#82ff7d"/><stop offset="0.95" stop-color="#86ff79"/></linearGradient><linearGradient id="g273" x2="0" y2="1"><stop offset="0.05" stop-color="#7bff84"/><stop offset="0.75" stop-color="#7cff83"/><stop offset="0.95" stop-color="#85ff7a"/></linearGradient><linearGradient id="g274" x2="0" y2="1"><stop offset="0.05" stop-color="#79ff86"/><stop offset="0.75" stop-color="#7aff85"/><stop offset="0.95" stop-color="#84ff7b"/></linearGradient><linearGradient id="g275" x2="0" y2="1"><stop offset="0.05" stop-color="#aeff51"/><stop offset="0.65" stop-color="#b0ff4f"/><stop offset="0.95" stop-color="#9fff60"/></linearGradient><linearGradient id="g276" x2="0" y2="1"><stop offset="0.05" stop-color="#fdff02"/><stop offset="0.15" stop-color="#fff000"/><stop offset="0.55" stop-color="#fff000"/><stop offset="0.75" stop-color="#f6ff09"/><stop offset="0.95" stop-color="#c7ff38"/></linearGradient><linearGradient id="g277" x2="0" y2="1"><stop offset="0.05" stop-color="#e4ff1b"/><stop offset="0.15" stop-color="#f1ff0e"/><stop offset="0.65" stop-color="#ebff14"/><stop offset="0.95" stop-color="#bf4"/></linearGradient><linearGradient id="g278" x2="0" y2="1"><stop offset="0.05" stop-color="#8cff73"/><stop offset="0.95" stop-color="#8dff72"/></linearGradient><linearGradient id="g279" x2="0" y2="1"><stop offset="0.05" stop-color="#6f9"/><stop offset="0.65" stop-color="#62ff9d"/><stop offset="0.95" stop-color="#7aff85"/></linearGradient><linearGradient id="g280" x2="0" y2="1"><stop offset="0.05" stop-color="#5cffa3"/><stop offset="0.45" stop-color="#54ffab"/><stop offset="0.75" stop-color="#5fffa0"/><stop offset="0.95" stop-color="#75ff8a"/></linearGradient><linearGradient id="g281" x2="0" y2="1"><stop offset="0.05" stop-color="#40ffbf"/><stop offset="0.25" stop-color="#34ffcb"/><stop offset="0.65" stop-color="#3affc5"/><stop offset="0.95" stop-color="#67ff98"/></linearGradient><linearGradient id="g282" x2="0" y2="1"><stop offset="0.05" stop-color="#49ffb6"/><stop offset="0.25" stop-color="#3fffc0"/><stop offset="0.65" stop-color="#4fb"/><stop offset="0.95" stop-color="#6bff94"/></linearGradient><linearGradient id="g283" x2="0" y2="1"><stop offset="0.05" stop-color="#b8ff47"/><stop offset="0.65" stop-color="#bcff43"/><stop offset="0.95" stop-color="#a4ff5b"/></linearGradient><linearGradient id="g284" x2="0" y2="1"><stop offset="0.05" stop-color="#f8ff07"/><stop offset="0.25" stop-color="#fff500"/><stop offset="0.65" stop-color="#fffd00"/><stop offset="0.85" stop-color="#df2"/><stop offset="0.95" stop-color="#c5ff3a"/></linearGradient><linearGradient id="g285" x2="0" y2="1"><stop offset="0.05" stop-color="#daff25"/><stop offset="0.25" stop-color="#e5ff1a"/><stop offset="0.65" stop-color="#e0ff1f"/><stop offset="0.95" stop-color="#b5ff4a"/></linearGradient><linearGradient id="g286" x2="0" y2="1"><stop offset="0.05" stop-color="#a8ff57"/><stop offset="0.75" stop-color="#a6ff59"/><stop offset="0.95" stop-color="#9cff63"/></linearGradient><linearGradient id="g287" x2="0" y2="1"><stop offset="0.05" stop-color="#9f6"/><stop offset="0.95" stop-color="#94ff6b"/></linearGradient><linearGradient id="g288" x2="0" y2="1"><stop offset="0.05" stop-color="#90ff6f"/><stop offset="0.95" stop-color="#8fff70"/></linearGradient><linearGradient id="g289" x2="0" y2="1"><stop offset="0.023" stop-color="#a7ff58"/><stop offset="0.295" stop-color="#b3ff4c"/><stop offset="0.932" stop-color="#acff53"/><stop offset="0.977" stop-color="#a7ff58"/></linearGradient><linearGradient id="g290" x2="0" y2="1"><stop offset="0.023" stop-color="#75ff8a"/><stop offset="0.295" stop-color="#6aff95"/><stop offset="0.932" stop-color="#70ff8f"/><stop offset="0.977" stop-color="#75ff8a"/></linearGradient><linearGradient id="g291" x2="0" y2="1"><stop offset="0.023" stop-color="#68ff97"/><stop offset="0.205" stop-color="#57ffa8"/><stop offset="0.886" stop-color="#5bffa4"/><stop offset="0.977" stop-color="#68ff97"/></linearGradient><linearGradient id="g292" x2="0" y2="1"><stop offset="0.023" stop-color="#93ff6c"/><stop offset="0.205" stop-color="#9aff65"/><stop offset="0.25" stop-color="#a7ff58"/><stop offset="0.886" stop-color="#a2ff5d"/><stop offset="0.977" stop-color="#93ff6c"/></linearGradient><linearGradient id="g293" x2="0" y2="1"><stop offset="0.023" stop-color="#b3ff4c"/><stop offset="0.205" stop-color="#c9ff36"/><stop offset="0.25" stop-color="#e2ff1d"/><stop offset="0.659" stop-color="#eaff15"/><stop offset="0.886" stop-color="#d3ff2c"/><stop offset="0.977" stop-color="#b2ff4d"/></linearGradient><linearGradient id="g294" x2="0" y2="1"><stop offset="0.023" stop-color="#c9ff36"/><stop offset="0.205" stop-color="#e8ff17"/><stop offset="0.25" stop-color="#fffa00"/><stop offset="0.432" stop-color="#fff200"/><stop offset="0.477" stop-color="#ffe100"/><stop offset="0.659" stop-color="#ffdf00"/><stop offset="0.75" stop-color="#fff900"/><stop offset="0.841" stop-color="#fcff03"/><stop offset="0.977" stop-color="#c5ff3a"/></linearGradient><linearGradient id="g295" x2="0" y2="1"><stop offset="0.023" stop-color="#daff25"/><stop offset="0.205" stop-color="#fdff02"/><stop offset="0.25" stop-color="#ffd800"/><stop offset="0.432" stop-color="#ffd200"/><stop offset="0.477" stop-color="#ffa600"/><stop offset="0.659" stop-color="#ffa300"/><stop offset="0.705" stop-color="#ffcf00"/><stop offset="0.886" stop-color="#fff200"/><stop offset="0.932" stop-color="#f5ff0a"/><stop offset="0.977" stop-color="#ceff31"/></linearGradient><linearGradient id="g296" x2="0" y2="1"><stop offset="0.023" stop-color="#dcff23"/><stop offset="0.068" stop-color="#f6ff09"/><stop offset="0.159" stop-color="#fdff02"/><stop offset="0.205" stop-color="#fff000"/><stop offset="0.25" stop-color="#ffc500"/><stop offset="0.432" stop-color="#ffba00"/><stop offset="0.523" stop-color="#ff7400"/><stop offset="0.614" stop-color="#ff7400"/><stop offset="0.659" stop-color="#ff8b00"/><stop offset="0.705" stop-color="#ffb800"/><stop offset="0.886" stop-color="#ffcf00"/><stop offset="0.932" stop-color="#fffe00"/><stop offset="0.977" stop-color="#cfff30"/></linearGradient><linearGradient id="g297" x2="0" y2="1"><stop offset="0.023" stop-color="#dcff23"/><stop offset="0.068" stop-color="#f6ff09"/><stop offset="0.159" stop-color="#ff0"/><stop offset="0.25" stop-color="#ffc800"/><stop offset="0.432" stop-color="#ffb400"/><stop offset="0.477" stop-color="#ff8e00"/><stop offset="0.523" stop-color="#ff7b00"/><stop offset="0.614" stop-color="#ff7500"/><stop offset="0.659" stop-color="#ff8700"/><stop offset="0.705" stop-color="#ffb100"/><stop offset="0.886" stop-color="#ffbf00"/><stop offset="0.932" stop-color="#feff01"/><stop offset="0.977" stop-color="#cfff30"/></linearGradient><linearGradient id="g298" x2="0" y2="1"><stop offset="0.023" stop-color="#dbff24"/><stop offset="0.159" stop-color="#f8ff07"/><stop offset="0.432" stop-color="#ffbe00"/><stop offset="0.477" stop-color="#ffa400"/><stop offset="0.659" stop-color="#ff9200"/><stop offset="0.705" stop-color="#ffb100"/><stop offset="0.886" stop-color="#ffbf00"/><stop offset="0.932" stop-color="#fdff02"/><stop offset="0.977" stop-color="#ceff31"/></linearGradient><linearGradient id="g299" x2="0" y2="1"><stop offset="0.023" stop-color="#d1ff2e"/><stop offset="0.25" stop-color="#faff05"/><stop offset="0.432" stop-color="#ffdc00"/><stop offset="0.568" stop-color="#ffbf00"/><stop offset="0.659" stop-color="#ffb400"/><stop offset="0.886" stop-color="#ffc500"/><stop offset="0.932" stop-color="#fcff03"/><stop offset="0.977" stop-color="#ceff31"/></linearGradient><linearGradient id="g300" x2="0" y2="1"><stop offset="0.023" stop-color="#cdff32"/><stop offset="0.205" stop-color="#eaff15"/><stop offset="0.432" stop-color="#ff0"/><stop offset="0.705" stop-color="#ffd700"/><stop offset="0.886" stop-color="#ffe500"/><stop offset="0.932" stop-color="#fbff04"/><stop offset="0.977" stop-color="#ceff31"/></linearGradient><linearGradient id="g301" x2="0" y2="1"><stop offset="0.023" stop-color="#cbff34"/><stop offset="0.159" stop-color="#e6ff19"/><stop offset="0.614" stop-color="#fbff04"/><stop offset="0.841" stop-color="#fbff04"/><stop offset="0.932" stop-color="#eaff15"/><stop offset="0.977" stop-color="#cdff32"/></linearGradient><linearGradient id="g302" x2="0" y2="1"><stop offset="0.023" stop-color="#c6ff39"/><stop offset="0.159" stop-color="#dfff20"/><stop offset="0.341" stop-color="#e0ff1f"/><stop offset="0.523" stop-color="#ecff13"/><stop offset="0.841" stop-color="#edff12"/><stop offset="0.977" stop-color="#c7ff38"/></linearGradient><linearGradient id="g303" x2="0" y2="1"><stop offset="0.023" stop-color="#af5"/><stop offset="0.341" stop-color="#b9ff46"/><stop offset="0.386" stop-color="#cdff32"/><stop offset="0.841" stop-color="#d3ff2c"/><stop offset="0.932" stop-color="#baff45"/><stop offset="0.977" stop-color="#abff54"/></linearGradient><linearGradient id="g304" x2="0" y2="1"><stop offset="0.023" stop-color="#b5ff4a"/><stop offset="0.205" stop-color="#c5ff3a"/><stop offset="0.386" stop-color="#cdff32"/><stop offset="0.432" stop-color="#e5ff1a"/><stop offset="0.886" stop-color="#e3ff1c"/><stop offset="0.932" stop-color="#d3ff2c"/><stop offset="0.977" stop-color="#b6ff49"/></linearGradient><linearGradient id="g305" x2="0" y2="1"><stop offset="0.023" stop-color="#b6ff49"/><stop offset="0.205" stop-color="#c7ff38"/><stop offset="0.386" stop-color="#cbff34"/><stop offset="0.432" stop-color="#f8ff07"/><stop offset="0.75" stop-color="#fff800"/><stop offset="0.886" stop-color="#fff900"/><stop offset="0.977" stop-color="#b7ff48"/></linearGradient><linearGradient id="g306" x2="0" y2="1"><stop offset="0.023" stop-color="#b6ff49"/><stop offset="0.205" stop-color="#c7ff38"/><stop offset="0.386" stop-color="#caff35"/><stop offset="0.432" stop-color="#f8ff07"/><stop offset="0.568" stop-color="#fff600"/><stop offset="0.886" stop-color="#fff600"/><stop offset="0.955" stop-color="#c6ff39"/><stop offset="0.977" stop-color="#b7ff48"/></linearGradient><linearGradient id="g307" x2="0" y2="1"><stop offset="0.023" stop-color="#b6ff49"/><stop offset="0.205" stop-color="#c8ff37"/><stop offset="0.386" stop-color="#caff35"/><stop offset="0.432" stop-color="#e9ff16"/><stop offset="0.886" stop-color="#e6ff19"/><stop offset="0.932" stop-color="#d5ff2a"/><stop offset="0.977" stop-color="#b7ff48"/></linearGradient><linearGradient id="g308" x2="0" y2="1"><stop offset="0.023" stop-color="#b9ff46"/><stop offset="0.205" stop-color="#cf3"/><stop offset="0.841" stop-color="#d4ff2b"/><stop offset="0.932" stop-color="#c9ff36"/><stop offset="0.977" stop-color="#baff45"/></linearGradient><linearGradient id="g309" x2="0" y2="1"><stop offset="0.023" stop-color="#b9ff46"/><stop offset="0.205" stop-color="#cf3"/><stop offset="0.886" stop-color="#c9ff36"/><stop offset="0.977" stop-color="#b9ff46"/></linearGradient><linearGradient id="g310" x2="0" y2="1"><stop offset="0.023" stop-color="#9dff62"/><stop offset="0.932" stop-color="#a0ff5f"/><stop offset="0.977" stop-color="#9dff62"/></linearGradient><linearGradient id="g311" x2="0" y2="1"><stop offset="0.023" stop-color="#9fff60"/><stop offset="0.841" stop-color="#a6ff59"/><stop offset="0.977" stop-color="#9fff60"/></linearGradient><linearGradient id="g312" x2="0" y2="1"><stop offset="0.023" stop-color="#a3ff5c"/><stop offset="0.568" stop-color="#abff54"/><stop offset="0.977" stop-color="#a3ff5c"/></linearGradient><linearGradient id="g313" x2="0" y2="1"><stop offset="0.023" stop-color="#b9ff46"/><stop offset="0.205" stop-color="#cf3"/><stop offset="0.886" stop-color="#c7ff38"/><stop offset="0.977" stop-color="#b9ff46"/></linearGradient><linearGradient id="g314" x2="0" y2="1"><stop offset="0.023" stop-color="#a9ff56"/><stop offset="0.295" stop-color="#b5ff4a"/><stop offset="0.932" stop-color="#afff50"/><stop offset="0.977" stop-color="#a9ff56"/></linearGradient><linearGradient id="g315" x2="0" y2="1"><stop offset="0.023" stop-color="#9eff61"/><stop offset="0.841" stop-color="#a5ff5a"/><stop offset="0.977" stop-color="#9eff61"/></linearGradient><linearGradient id="g316" x2="0" y2="1"><stop offset="0.023" stop-color="#a0ff5f"/><stop offset="0.841" stop-color="#a8ff57"/><stop offset="0.977" stop-color="#a0ff5f"/></linearGradient><linearGradient id="g317" x2="0" y2="1"><stop offset="0.023" stop-color="#afff50"/><stop offset="0.25" stop-color="#beff41"/><stop offset="0.523" stop-color="#c1ff3e"/><stop offset="0.795" stop-color="#c7ff38"/><stop offset="0.977" stop-color="#afff50"/></linearGradient><linearGradient id="g318" x2="0" y2="1"><stop offset="0.023" stop-color="#b6ff49"/><stop offset="0.205" stop-color="#c7ff38"/><stop offset="0.523" stop-color="#caff35"/><stop offset="0.568" stop-color="#e0ff1f"/><stop offset="0.795" stop-color="#d9ff26"/><stop offset="0.886" stop-color="#c3ff3c"/><stop offset="0.977" stop-color="#b6ff49"/></linearGradient><linearGradient id="g319" x2="0" y2="1"><stop offset="0.023" stop-color="#b6ff49"/><stop offset="0.205" stop-color="#c7ff38"/><stop offset="0.523" stop-color="#caff35"/><stop offset="0.568" stop-color="#eaff15"/><stop offset="0.659" stop-color="#f3ff0c"/><stop offset="0.75" stop-color="#f3ff0c"/><stop offset="0.841" stop-color="#c8ff37"/><stop offset="0.977" stop-color="#b6ff49"/></linearGradient><linearGradient id="g320" x2="0" y2="1"><stop offset="0.023" stop-color="#b6ff49"/><stop offset="0.205" stop-color="#c7ff38"/><stop offset="0.523" stop-color="#caff35"/><stop offset="0.568" stop-color="#eaff15"/><stop offset="0.659" stop-color="#f5ff0a"/><stop offset="0.75" stop-color="#f5ff0a"/><stop offset="0.841" stop-color="#c8ff37"/><stop offset="0.977" stop-color="#b6ff49"/></linearGradient><linearGradient id="g321" x2="0" y2="1"><stop offset="0.023" stop-color="#aeff51"/><stop offset="0.25" stop-color="#bdff42"/><stop offset="0.523" stop-color="#c1ff3e"/><stop offset="0.568" stop-color="#deff21"/><stop offset="0.75" stop-color="#deff21"/><stop offset="0.841" stop-color="#beff41"/><stop offset="0.977" stop-color="#aeff51"/></linearGradient><linearGradient id="g322" x2="0" y2="1"><stop offset="0.023" stop-color="#a5ff5a"/><stop offset="0.341" stop-color="#afff50"/><stop offset="0.523" stop-color="#b3ff4c"/><stop offset="0.614" stop-color="#beff41"/><stop offset="0.795" stop-color="#bcff43"/><stop offset="0.932" stop-color="#af5"/><stop offset="0.977" stop-color="#a5ff5a"/></linearGradient><linearGradient id="g323" x2="0" y2="1"><stop offset="0.023" stop-color="#a1ff5e"/><stop offset="0.841" stop-color="#a9ff56"/><stop offset="0.977" stop-color="#a1ff5e"/></linearGradient><linearGradient id="g324" x2="0" y2="1"><stop offset="0.023" stop-color="#a7ff58"/><stop offset="0.295" stop-color="#b3ff4c"/><stop offset="0.932" stop-color="#adff52"/><stop offset="0.977" stop-color="#a7ff58"/></linearGradient><linearGradient id="g325" x2="0" y2="1"><stop offset="0.023" stop-color="#a2ff5d"/><stop offset="0.568" stop-color="#af5"/><stop offset="0.977" stop-color="#a2ff5d"/></linearGradient><linearGradient id="g326" x2="0" y2="1"><stop offset="0.02" stop-color="#a8ff57"/><stop offset="0.65" stop-color="#a8ff57"/><stop offset="0.98" stop-color="#b3ff4c"/></linearGradient><linearGradient id="g327" x2="0" y2="1"><stop offset="0.02" stop-color="#80ff80"/><stop offset="0.35" stop-color="#6f9"/><stop offset="0.65" stop-color="#70ff8f"/><stop offset="0.8" stop-color="#8aff75"/><stop offset="0.98" stop-color="#9f6"/></linearGradient><linearGradient id="g328" x2="0" y2="1"><stop offset="0.02" stop-color="#3fc"/><stop offset="0.5" stop-color="#3fc"/><stop offset="0.65" stop-color="#42ffbd"/><stop offset="0.8" stop-color="#6f9"/><stop offset="0.98" stop-color="#80ff80"/></linearGradient><linearGradient id="g329" x2="0" y2="1"><stop offset="0.02" stop-color="#3fc"/><stop offset="0.2" stop-color="#3fc"/><stop offset="0.35" stop-color="#42ffbd"/><stop offset="0.5" stop-color="#42ffbd"/><stop offset="0.65" stop-color="#57ffa8"/><stop offset="0.8" stop-color="#80ff80"/><stop offset="0.98" stop-color="#9f6"/></linearGradient><linearGradient id="g330" x2="0" y2="1"><stop offset="0.02" stop-color="#6f9"/><stop offset="0.2" stop-color="#6f9"/><stop offset="0.35" stop-color="#57ffa8"/><stop offset="0.5" stop-color="#57ffa8"/><stop offset="0.65" stop-color="#6f9"/><stop offset="0.8" stop-color="#8aff75"/><stop offset="0.98" stop-color="#9f6"/></linearGradient><linearGradient id="g331" x2="0" y2="1"><stop offset="0.02" stop-color="#3fc"/><stop offset="0.5" stop-color="#3fc"/><stop offset="0.65" stop-color="#42ffbd"/><stop offset="0.8" stop-color="#6f9"/><stop offset="0.98" stop-color="#80ff80"/></linearGradient><linearGradient id="g332" x2="0" y2="1"><stop offset="0.02" stop-color="#0ff"/><stop offset="0.35" stop-color="#00e5ff"/><stop offset="0.5" stop-color="#00e5ff"/><stop offset="0.65" stop-color="#0ff"/><stop offset="0.8" stop-color="#3fc"/><stop offset="0.98" stop-color="#4dffb2"/></linearGradient><linearGradient id="g333" x2="0" y2="1"><stop offset="0.02" stop-color="#00e5ff"/><stop offset="0.35" stop-color="#0cf"/><stop offset="0.5" stop-color="#0cf"/><stop offset="0.65" stop-color="#00e5ff"/><stop offset="0.725" stop-color="#0ff"/><stop offset="0.8" stop-color="#1affe5"/><stop offset="0.98" stop-color="#3fc"/></linearGradient><linearGradient id="g334" x2="0" y2="1"><stop offset="0.02" stop-color="#00b2ff"/><stop offset="0.2" stop-color="#09f"/><stop offset="0.35" stop-color="#09f"/><stop offset="0.575" stop-color="#00c7ff"/><stop offset="0.725" stop-color="#00f5ff"/><stop offset="0.89" stop-color="#21ffde"/><stop offset="0.98" stop-color="#3fc"/></linearGradient><linearGradient id="g335" x2="0" y2="1"><stop offset="0.02" stop-color="#00b2ff"/><stop offset="0.2" stop-color="#008aff"/><stop offset="0.5" stop-color="#00b2ff"/><stop offset="0.8" stop-color="#0ff"/><stop offset="0.98" stop-color="#3fc"/></linearGradient><linearGradient id="g336" x2="0" y2="1"><stop offset="0.02" stop-color="#ff0"/><stop offset="0.5" stop-color="#ff0"/><stop offset="0.65" stop-color="#f0ff0f"/><stop offset="0.98" stop-color="#a8ff57"/></linearGradient><linearGradient id="g337" x2="0" y2="1"><stop offset="0.02" stop-color="#cf3"/><stop offset="0.35" stop-color="#e5ff1a"/><stop offset="0.65" stop-color="#dbff24"/><stop offset="0.98" stop-color="#9f6"/></linearGradient><linearGradient id="g338" x2="0" y2="1"><stop offset="0.02" stop-color="#f0ff0f"/><stop offset="0.11" stop-color="#ff0"/><stop offset="0.35" stop-color="#ffe500"/><stop offset="0.65" stop-color="#fff000"/><stop offset="0.7" stop-color="#fdff02"/><stop offset="0.98" stop-color="#a8ff57"/></linearGradient><linearGradient id="g339" x2="0" y2="1"><stop offset="0.02" stop-color="#cf3"/><stop offset="0.35" stop-color="#ff0"/><stop offset="0.5" stop-color="#ff0"/><stop offset="0.65" stop-color="#f0ff0f"/><stop offset="0.98" stop-color="#9f6"/></linearGradient><linearGradient id="g340" x2="0" y2="1"><stop offset="0.02" stop-color="#bdff42"/><stop offset="0.2" stop-color="#cf3"/><stop offset="0.35" stop-color="#e5ff1a"/><stop offset="0.65" stop-color="#dbff24"/><stop offset="0.8" stop-color="#bdff42"/><stop offset="0.98" stop-color="#a8ff57"/></linearGradient><linearGradient id="g341" x2="0" y2="1"><stop offset="0.02" stop-color="#ff0"/><stop offset="0.65" stop-color="#ff0"/><stop offset="0.8" stop-color="#cf3"/><stop offset="0.98" stop-color="#b3ff4c"/></linearGradient><linearGradient id="g342" x2="0" y2="1"><stop offset="0.02" stop-color="#f90"/><stop offset="0.5" stop-color="#f90"/><stop offset="0.688" stop-color="#ffdf00"/><stop offset="0.763" stop-color="#f9ff06"/><stop offset="0.8" stop-color="#e5ff1a"/><stop offset="0.98" stop-color="#b3ff4c"/></linearGradient><linearGradient id="g343" x2="0" y2="1"><stop offset="0.02" stop-color="#ff4200"/><stop offset="0.2" stop-color="#f30"/><stop offset="0.5" stop-color="#f60"/><stop offset="0.65" stop-color="#f90"/><stop offset="0.8" stop-color="#fff000"/><stop offset="0.845" stop-color="#faff05"/><stop offset="0.98" stop-color="#bdff42"/></linearGradient><linearGradient id="g344" x2="0" y2="1"><stop offset="0.02" stop-color="#f90"/><stop offset="0.2" stop-color="#f60"/><stop offset="0.35" stop-color="#f60"/><stop offset="0.5" stop-color="#ff8000"/><stop offset="0.688" stop-color="#ffd100"/><stop offset="0.763" stop-color="#fffa00"/><stop offset="0.98" stop-color="#bdff42"/></linearGradient><linearGradient id="g345" x2="0" y2="1"><stop offset="0.02" stop-color="#f90"/><stop offset="0.2" stop-color="#ff4c00"/><stop offset="0.5" stop-color="#f60"/><stop offset="0.688" stop-color="#ffdf00"/><stop offset="0.763" stop-color="#f9ff06"/><stop offset="0.8" stop-color="#e5ff1a"/><stop offset="0.98" stop-color="#bdff42"/></linearGradient><linearGradient id="g346" x2="0" y2="1"><stop offset="0.02" stop-color="#f00"/><stop offset="0.2" stop-color="#c00"/><stop offset="0.35" stop-color="#c00"/><stop offset="0.5" stop-color="#f00"/><stop offset="0.675" stop-color="#ff6a00"/><stop offset="0.836" stop-color="#ffe100"/><stop offset="0.872" stop-color="#fff700"/><stop offset="0.98" stop-color="#c7ff38"/></linearGradient><linearGradient id="g347" x2="0" y2="1"><stop offset="0.02" stop-color="#e50000"/><stop offset="0.2" stop-color="#900"/><stop offset="0.35" stop-color="#b30000"/><stop offset="0.5" stop-color="#e50000"/><stop offset="0.56" stop-color="#ff0b00"/><stop offset="0.86" stop-color="#ffd500"/><stop offset="0.92" stop-color="#fdff02"/><stop offset="0.98" stop-color="#d1ff2e"/></linearGradient><linearGradient id="g348" x2="0" y2="1"><stop offset="0.02" stop-color="#ff1a00"/><stop offset="0.2" stop-color="#f00"/><stop offset="0.35" stop-color="#f00"/><stop offset="0.5" stop-color="#ff0f00"/><stop offset="0.65" stop-color="#f90"/><stop offset="0.8" stop-color="#fff000"/><stop offset="0.845" stop-color="#fcff03"/><stop offset="0.98" stop-color="#c7ff38"/></linearGradient><linearGradient id="g349" x2="0" y2="1"><stop offset="0.02" stop-color="#ff0"/><stop offset="0.35" stop-color="#ffe500"/><stop offset="0.65" stop-color="#fff000"/><stop offset="0.725" stop-color="#faff05"/><stop offset="0.98" stop-color="#bdff42"/></linearGradient><linearGradient id="g350" x2="0" y2="1"><stop offset="0.02" stop-color="#6f9"/><stop offset="0.35" stop-color="#9f6"/><stop offset="0.5" stop-color="#9f6"/><stop offset="0.8" stop-color="#b3ff4c"/><stop offset="0.98" stop-color="#b3ff4c"/></linearGradient><linearGradient id="g351" x2="0" y2="1"><stop offset="0.02" stop-color="#cf3"/><stop offset="0.65" stop-color="#cf3"/><stop offset="0.98" stop-color="#b3ff4c"/></linearGradient><linearGradient id="g352" x2="0" y2="1"><stop offset="0.02" stop-color="#fc0"/><stop offset="0.2" stop-color="#ffb300"/><stop offset="0.35" stop-color="#ffbd00"/><stop offset="0.5" stop-color="#ffdb00"/><stop offset="0.65" stop-color="#ffe500"/><stop offset="0.8" stop-color="#ff0"/><stop offset="0.98" stop-color="#cf3"/></linearGradient><linearGradient id="g353" x2="0" y2="1"><stop offset="0.02" stop-color="#fc0"/><stop offset="0.2" stop-color="#ffd600"/><stop offset="0.425" stop-color="#ff0"/><stop offset="0.5" stop-color="#f0ff0f"/><stop offset="0.65" stop-color="#e5ff1a"/><stop offset="0.8" stop-color="#cf3"/><stop offset="0.98" stop-color="#bdff42"/></linearGradient><linearGradient id="g354" x2="0" y2="1"><stop offset="0.02" stop-color="#cf3"/><stop offset="0.5" stop-color="#bdff42"/><stop offset="0.98" stop-color="#b3ff4c"/></linearGradient><linearGradient id="g355" x2="0" y2="1"><stop offset="0.02" stop-color="#9f6"/><stop offset="0.35" stop-color="#80ff80"/><stop offset="0.65" stop-color="#80ff80"/><stop offset="0.98" stop-color="#8aff75"/></linearGradient><linearGradient id="g356" x2="0" y2="1"><stop offset="0.02" stop-color="#4dffb2"/><stop offset="0.35" stop-color="#42ffbd"/><stop offset="0.65" stop-color="#4dffb2"/><stop offset="0.98" stop-color="#6f9"/></linearGradient><linearGradient id="g357" x2="0" y2="1"><stop offset="0.02" stop-color="#3fc"/><stop offset="0.5" stop-color="#3fc"/><stop offset="0.98" stop-color="#57ffa8"/></linearGradient><linearGradient id="g358" x2="0" y2="1"><stop offset="0.02" stop-color="#0ff"/><stop offset="0.35" stop-color="#00f5ff"/><stop offset="0.5" stop-color="#1affe5"/><stop offset="0.65" stop-color="#3fc"/><stop offset="0.8" stop-color="#6f9"/><stop offset="0.98" stop-color="#80ff80"/></linearGradient><linearGradient id="g359" x2="0" y2="1"><stop offset="0.02" stop-color="#0ff"/><stop offset="0.2" stop-color="#00f5ff"/><stop offset="0.35" stop-color="#0ff"/><stop offset="0.5" stop-color="#3fc"/><stop offset="0.8" stop-color="#57ffa8"/><stop offset="0.98" stop-color="#80ff80"/></linearGradient><linearGradient id="g360" x2="0" y2="1"><stop offset="0.02" stop-color="#80ff80"/><stop offset="0.35" stop-color="#9f6"/><stop offset="0.98" stop-color="#9f6"/></linearGradient><linearGradient id="g361" x2="0" y2="1"><stop offset="0.02" stop-color="#ff0"/><stop offset="0.35" stop-color="#e5ff1a"/><stop offset="0.65" stop-color="#e5ff1a"/><stop offset="0.98" stop-color="#cf3"/></linearGradient><linearGradient id="g362" x2="0" y2="1"><stop offset="0.02" stop-color="#fc0"/><stop offset="0.2" stop-color="#ffc200"/><stop offset="0.35" stop-color="#ffe500"/><stop offset="0.65" stop-color="#ff0"/><stop offset="0.98" stop-color="#cf3"/></linearGradient><linearGradient id="g363" x2="0" y2="1"><stop offset="0.02" stop-color="#ffe500"/><stop offset="0.2" stop-color="#ffd600"/><stop offset="0.5" stop-color="#ff0"/><stop offset="0.98" stop-color="#bdff42"/></linearGradient><linearGradient id="g364" x2="0" y2="1"><stop offset="0.02" stop-color="#bdff42"/><stop offset="0.5" stop-color="#bdff42"/><stop offset="0.8" stop-color="#a8ff57"/><stop offset="0.98" stop-color="#a8ff57"/></linearGradient><linearGradient id="g365" x2="0" y2="1"><stop offset="0.02" stop-color="#6f9"/><stop offset="0.5" stop-color="#6f9"/><stop offset="0.8" stop-color="#80ff80"/><stop offset="0.98" stop-color="#80ff80"/></linearGradient><linearGradient id="g366" x2="0" y2="1"><stop offset="0.02" stop-color="#4dffb2"/><stop offset="0.5" stop-color="#4dffb2"/><stop offset="0.8" stop-color="#6f9"/><stop offset="0.98" stop-color="#6f9"/></linearGradient><linearGradient id="g367" x2="0" y2="1"><stop offset="0.02" stop-color="#00e5ff"/><stop offset="0.2" stop-color="#0cf"/><stop offset="0.5" stop-color="#0ff"/><stop offset="0.65" stop-color="#3fc"/><stop offset="0.98" stop-color="#6f9"/></linearGradient><linearGradient id="g368" x2="0" y2="1"><stop offset="0.02" stop-color="#4dffb2"/><stop offset="0.5" stop-color="#4dffb2"/><stop offset="0.98" stop-color="#70ff8f"/></linearGradient><linearGradient id="g369" x2="0" y2="1"><stop offset="0.02" stop-color="#ff0"/><stop offset="0.2" stop-color="#ff0"/><stop offset="0.98" stop-color="#bdff42"/></linearGradient><linearGradient id="g370" x2="0" y2="1"><stop offset="0.02" stop-color="#ffd600"/><stop offset="0.2" stop-color="#ffb300"/><stop offset="0.575" stop-color="#faff05"/><stop offset="0.8" stop-color="#cf3"/><stop offset="0.98" stop-color="#b3ff4c"/></linearGradient><linearGradient id="g371" x2="0" y2="1"><stop offset="0.02" stop-color="#fff500"/><stop offset="0.2" stop-color="#ffe500"/><stop offset="0.35" stop-color="#fff000"/><stop offset="0.425" stop-color="#ff0"/><stop offset="0.8" stop-color="#bdff42"/><stop offset="0.98" stop-color="#a8ff57"/></linearGradient><linearGradient id="g372" x2="0" y2="1"><stop offset="0.02" stop-color="#bdff42"/><stop offset="0.65" stop-color="#b3ff4c"/><stop offset="0.98" stop-color="#9f6"/></linearGradient><linearGradient id="g373" x2="0" y2="1"><stop offset="0" stop-color="#9f6"/><stop offset="0.25" stop-color="#9f6"/><stop offset="0.38" stop-color="#7dff82"/><stop offset="0.8" stop-color="#9f6"/><stop offset="1" stop-color="#9f6"/></linearGradient><linearGradient id="g374" x2="0" y2="1"><stop offset="0" stop-color="#8aff75"/><stop offset="0.25" stop-color="#8aff75"/><stop offset="0.38" stop-color="#7aff85"/><stop offset="0.6" stop-color="#8fff70"/><stop offset="1" stop-color="#8fff70"/></linearGradient><linearGradient id="g375" x2="0" y2="1"><stop offset="0" stop-color="#84ff7b"/><stop offset="0.25" stop-color="#84ff7b"/><stop offset="0.38" stop-color="#7f8"/><stop offset="0.5" stop-color="#81ff7e"/><stop offset="0.6" stop-color="#9f6"/><stop offset="1" stop-color="#8fff70"/></linearGradient><linearGradient id="g376" x2="0" y2="1"><stop offset="0" stop-color="#84ff7b"/><stop offset="0.25" stop-color="#84ff7b"/><stop offset="0.38" stop-color="#71ff8e"/><stop offset="0.6" stop-color="#8fff70"/><stop offset="1" stop-color="#8fff70"/></linearGradient><linearGradient id="g377" x2="0" y2="1"><stop offset="0" stop-color="#7aff85"/><stop offset="0.25" stop-color="#7aff85"/><stop offset="0.38" stop-color="#68ff97"/><stop offset="0.6" stop-color="#7dff82"/><stop offset="0.9" stop-color="#7aff85"/><stop offset="1" stop-color="#84ff7b"/></linearGradient><linearGradient id="g378" x2="0" y2="1"><stop offset="0" stop-color="#6bff94"/><stop offset="0.25" stop-color="#71ff8e"/><stop offset="0.38" stop-color="#5fffa0"/><stop offset="0.7" stop-color="#6bff94"/><stop offset="0.9" stop-color="#65ff9a"/><stop offset="1" stop-color="#74ff8b"/></linearGradient><linearGradient id="g379" x2="0" y2="1"><stop offset="0" stop-color="#74ff8b"/><stop offset="0.25" stop-color="#7f8"/><stop offset="0.38" stop-color="#62ff9d"/><stop offset="0.7" stop-color="#6bff94"/><stop offset="0.9" stop-color="#6bff94"/><stop offset="1" stop-color="#74ff8b"/></linearGradient><linearGradient id="g380" x2="0" y2="1"><stop offset="0" stop-color="#74ff8b"/><stop offset="0.25" stop-color="#7aff85"/><stop offset="0.38" stop-color="#68ff97"/><stop offset="0.6" stop-color="#7dff82"/><stop offset="0.9" stop-color="#7aff85"/><stop offset="1" stop-color="#84ff7b"/></linearGradient><linearGradient id="g381" x2="0" y2="1"><stop offset="0" stop-color="#84ff7b"/><stop offset="0.25" stop-color="#8aff75"/><stop offset="0.38" stop-color="#7f8"/><stop offset="0.6" stop-color="#8fff70"/><stop offset="1" stop-color="#8fff70"/></linearGradient><linearGradient id="g382" x2="0" y2="1"><stop offset="0" stop-color="#7aff85"/><stop offset="0.25" stop-color="#84ff7b"/><stop offset="0.38" stop-color="#71ff8e"/><stop offset="0.6" stop-color="#8aff75"/><stop offset="1" stop-color="#8fff70"/></linearGradient><linearGradient id="g383" x2="0" y2="1"><stop offset="0" stop-color="#8fff70"/><stop offset="0.25" stop-color="#8fff70"/><stop offset="0.38" stop-color="#70ff8f"/><stop offset="0.5" stop-color="#7aff85"/><stop offset="0.6" stop-color="#8fff70"/><stop offset="1" stop-color="#8fff70"/></linearGradient><linearGradient id="g384" x2="0" y2="1"><stop offset="0" stop-color="#9f6"/><stop offset="0.12" stop-color="#9f6"/><stop offset="0.315" stop-color="#6bff94"/><stop offset="0.38" stop-color="#57ffa8"/><stop offset="0.533" stop-color="#97ff68"/><stop offset="0.6" stop-color="#bdff42"/><stop offset="0.7" stop-color="#b3ff4c"/><stop offset="0.8" stop-color="#9f6"/><stop offset="1" stop-color="#8fff70"/></linearGradient><linearGradient id="g385" x2="0" y2="1"><stop offset="0" stop-color="#9f6"/><stop offset="0.12" stop-color="#9f6"/><stop offset="0.25" stop-color="#80ff80"/><stop offset="0.38" stop-color="#2effd1"/><stop offset="0.5" stop-color="#42ffbd"/><stop offset="0.6" stop-color="#cf3"/><stop offset="0.7" stop-color="#d6ff29"/><stop offset="0.9" stop-color="#80ff80"/><stop offset="1" stop-color="#80ff80"/></linearGradient><linearGradient id="g386" x2="0" y2="1"><stop offset="0" stop-color="#6f9"/><stop offset="0.12" stop-color="#6f9"/><stop offset="0.25" stop-color="#80ff80"/><stop offset="0.38" stop-color="#47ffb8"/><stop offset="0.5" stop-color="#6bff94"/><stop offset="0.6" stop-color="#b3ff4c"/><stop offset="0.7" stop-color="#bdff42"/><stop offset="0.9" stop-color="#80ff80"/><stop offset="1" stop-color="#80ff80"/></linearGradient><linearGradient id="g387" x2="0" y2="1"><stop offset="0" stop-color="#4dffb2"/><stop offset="0.12" stop-color="#4dffb2"/><stop offset="0.25" stop-color="#6f9"/><stop offset="0.38" stop-color="#61ff9e"/><stop offset="0.5" stop-color="#6bff94"/><stop offset="0.6" stop-color="#9f6"/><stop offset="0.7" stop-color="#9f6"/><stop offset="0.9" stop-color="#6f9"/><stop offset="1" stop-color="#80ff80"/></linearGradient><linearGradient id="g388" x2="0" y2="1"><stop offset="0" stop-color="#4dffb2"/><stop offset="0.12" stop-color="#57ffa8"/><stop offset="0.25" stop-color="#9f6"/><stop offset="0.38" stop-color="#7aff85"/><stop offset="0.5" stop-color="#75ff8a"/><stop offset="0.6" stop-color="#8fff70"/><stop offset="0.7" stop-color="#80ff80"/><stop offset="0.8" stop-color="#57ffa8"/><stop offset="0.9" stop-color="#4dffb2"/><stop offset="1" stop-color="#6f9"/></linearGradient><linearGradient id="g389" x2="0" y2="1"><stop offset="0" stop-color="#9f6"/><stop offset="0.25" stop-color="#9f6"/><stop offset="0.38" stop-color="#7aff85"/><stop offset="0.5" stop-color="#85ff7a"/><stop offset="0.6" stop-color="#a8ff57"/><stop offset="0.7" stop-color="#a8ff57"/><stop offset="0.8" stop-color="#9f6"/><stop offset="1" stop-color="#9f6"/></linearGradient><linearGradient id="g390" x2="0" y2="1"><stop offset="0" stop-color="#a8ff57"/><stop offset="0.25" stop-color="#9eff61"/><stop offset="0.38" stop-color="#8aff75"/><stop offset="0.55" stop-color="#adff52"/><stop offset="0.6" stop-color="#bdff42"/><stop offset="0.8" stop-color="#b3ff4c"/><stop offset="1" stop-color="#9f6"/></linearGradient><linearGradient id="g391" x2="0" y2="1"><stop offset="0" stop-color="#b3ff4c"/><stop offset="0.12" stop-color="#b3ff4c"/><stop offset="0.38" stop-color="#8aff75"/><stop offset="0.6" stop-color="#b3ff4c"/><stop offset="0.9" stop-color="#a8ff57"/><stop offset="1" stop-color="#9f6"/></linearGradient><linearGradient id="g392" x2="0" y2="1"><stop offset="0" stop-color="#a8ff57"/><stop offset="0.25" stop-color="#9eff61"/><stop offset="0.38" stop-color="#7aff85"/><stop offset="0.6" stop-color="#b3ff4c"/><stop offset="0.8" stop-color="#a8ff57"/><stop offset="1" stop-color="#9f6"/></linearGradient><linearGradient id="g393" x2="0" y2="1"><stop offset="0" stop-color="#b3ff4c"/><stop offset="0.25" stop-color="#a8ff57"/><stop offset="0.38" stop-color="#8aff75"/><stop offset="0.55" stop-color="#adff52"/><stop offset="0.6" stop-color="#bdff42"/><stop offset="0.8" stop-color="#b3ff4c"/><stop offset="1" stop-color="#a8ff57"/></linearGradient><linearGradient id="g394" x2="0" y2="1"><stop offset="0" stop-color="#b3ff4c"/><stop offset="0.25" stop-color="#a8ff57"/><stop offset="0.38" stop-color="#8aff75"/><stop offset="0.6" stop-color="#cf3"/><stop offset="0.7" stop-color="#cf3"/><stop offset="0.9" stop-color="#b3ff4c"/><stop offset="1" stop-color="#b3ff4c"/></linearGradient><linearGradient id="g395" x2="0" y2="1"><stop offset="0" stop-color="#c2ff3d"/><stop offset="0.12" stop-color="#c2ff3d"/><stop offset="0.38" stop-color="#9eff61"/><stop offset="0.5" stop-color="#b8ff47"/><stop offset="0.6" stop-color="#e5ff1a"/><stop offset="0.7" stop-color="#f0ff0f"/><stop offset="0.9" stop-color="#dbff24"/><stop offset="1" stop-color="#c7ff38"/></linearGradient><linearGradient id="g396" x2="0" y2="1"><stop offset="0" stop-color="#d6ff29"/><stop offset="0.12" stop-color="#d6ff29"/><stop offset="0.38" stop-color="#adff52"/><stop offset="0.5" stop-color="#c7ff38"/><stop offset="0.6" stop-color="#fffa00"/><stop offset="0.7" stop-color="#fff000"/><stop offset="0.9" stop-color="#ff0"/><stop offset="1" stop-color="#bdff42"/></linearGradient><linearGradient id="g397" x2="0" y2="1"><stop offset="0" stop-color="#d6ff29"/><stop offset="0.12" stop-color="#cf3"/><stop offset="0.38" stop-color="#94ff6b"/><stop offset="0.55" stop-color="#cfff30"/><stop offset="0.6" stop-color="#e5ff1a"/><stop offset="0.8" stop-color="#e5ff1a"/><stop offset="0.9" stop-color="#dbff24"/><stop offset="1" stop-color="#a8ff57"/></linearGradient><linearGradient id="g398" x2="0" y2="1"><stop offset="0" stop-color="#b3ff4c"/><stop offset="0.25" stop-color="#b3ff4c"/><stop offset="0.38" stop-color="#8aff75"/><stop offset="0.6" stop-color="#cf3"/><stop offset="0.7" stop-color="#cf3"/><stop offset="1" stop-color="#a8ff57"/></linearGradient><linearGradient id="g399" x2="0" y2="1"><stop offset="0" stop-color="#bdff42"/><stop offset="0.12" stop-color="#b3ff4c"/><stop offset="0.315" stop-color="#85ff7a"/><stop offset="0.38" stop-color="#70ff8f"/><stop offset="0.6" stop-color="#cf3"/><stop offset="0.7" stop-color="#cf3"/><stop offset="0.9" stop-color="#9f6"/><stop offset="1" stop-color="#9f6"/></linearGradient><linearGradient id="g400" x2="0" y2="1"><stop offset="0" stop-color="#b3ff4c"/><stop offset="0.25" stop-color="#a8ff57"/><stop offset="0.38" stop-color="#7aff85"/><stop offset="0.55" stop-color="#b5ff4a"/><stop offset="0.6" stop-color="#cf3"/><stop offset="0.7" stop-color="#bdff42"/><stop offset="0.8" stop-color="#9f6"/><stop offset="1" stop-color="#8fff70"/></linearGradient><linearGradient id="g401" x2="0" y2="1"><stop offset="0" stop-color="#a8ff57"/><stop offset="0.12" stop-color="#a8ff57"/><stop offset="0.25" stop-color="#9f6"/><stop offset="0.38" stop-color="#70ff8f"/><stop offset="0.6" stop-color="#b3ff4c"/><stop offset="0.7" stop-color="#a8ff57"/><stop offset="0.9" stop-color="#80ff80"/><stop offset="1" stop-color="#8fff70"/></linearGradient><linearGradient id="g402" x2="0" y2="1"><stop offset="0" stop-color="#9f6"/><stop offset="0.25" stop-color="#9f6"/><stop offset="0.38" stop-color="#70ff8f"/><stop offset="0.6" stop-color="#b3ff4c"/><stop offset="0.7" stop-color="#a8ff57"/><stop offset="0.9" stop-color="#80ff80"/><stop offset="1" stop-color="#8fff70"/></linearGradient><linearGradient id="g403" x2="0" y2="1"><stop offset="0" stop-color="#a8ff57"/><stop offset="0.12" stop-color="#a8ff57"/><stop offset="0.25" stop-color="#9f6"/><stop offset="0.38" stop-color="#70ff8f"/><stop offset="0.6" stop-color="#b3ff4c"/><stop offset="0.7" stop-color="#a8ff57"/><stop offset="0.9" stop-color="#80ff80"/><stop offset="1" stop-color="#8fff70"/></linearGradient><linearGradient id="g404" x2="0" y2="1"><stop offset="0" stop-color="#9f6"/><stop offset="0.25" stop-color="#9f6"/><stop offset="0.38" stop-color="#61ff9e"/><stop offset="0.6" stop-color="#9f6"/><stop offset="0.7" stop-color="#8fff70"/><stop offset="0.8" stop-color="#70ff8f"/><stop offset="0.9" stop-color="#6f9"/><stop offset="1" stop-color="#80ff80"/></linearGradient><linearGradient id="g405" x2="0" y2="1"><stop offset="0" stop-color="#9f6"/><stop offset="0.25" stop-color="#9f6"/><stop offset="0.38" stop-color="#70ff8f"/><stop offset="0.55" stop-color="#96ff69"/><stop offset="0.6" stop-color="#a8ff57"/><stop offset="0.7" stop-color="#a8ff57"/><stop offset="0.9" stop-color="#8fff70"/><stop offset="1" stop-color="#8fff70"/></linearGradient><linearGradient id="g406" x2="0" y2="1"><stop offset="0" stop-color="#a8ff57"/><stop offset="0.12" stop-color="#a8ff57"/><stop offset="0.25" stop-color="#9f6"/><stop offset="0.38" stop-color="#61ff9e"/><stop offset="0.6" stop-color="#a8ff57"/><stop offset="0.7" stop-color="#a8ff57"/><stop offset="0.8" stop-color="#9f6"/><stop offset="1" stop-color="#8fff70"/></linearGradient><linearGradient id="g407" x2="0" y2="1"><stop offset="0" stop-color="#bdff42"/><stop offset="0.12" stop-color="#bdff42"/><stop offset="0.25" stop-color="#a8ff57"/><stop offset="0.38" stop-color="#7aff85"/><stop offset="0.55" stop-color="#b5ff4a"/><stop offset="0.6" stop-color="#cf3"/><stop offset="0.7" stop-color="#cf3"/><stop offset="1" stop-color="#a8ff57"/></linearGradient><linearGradient id="g408" x2="0" y2="1"><stop offset="0" stop-color="#bdff42"/><stop offset="0.12" stop-color="#bdff42"/><stop offset="0.38" stop-color="#8aff75"/><stop offset="0.6" stop-color="#cf3"/><stop offset="0.7" stop-color="#cf3"/><stop offset="1" stop-color="#a8ff57"/></linearGradient><linearGradient id="g409" x2="0" y2="1"><stop offset="0" stop-color="#cf3"/><stop offset="0.12" stop-color="#cf3"/><stop offset="0.38" stop-color="#94ff6b"/><stop offset="0.6" stop-color="#cf3"/><stop offset="0.8" stop-color="#cf3"/><stop offset="1" stop-color="#bdff42"/></linearGradient><linearGradient id="g410" x2="0" y2="1"><stop offset="0" stop-color="#cf3"/><stop offset="0.12" stop-color="#cf3"/><stop offset="0.38" stop-color="#94ff6b"/><stop offset="0.55" stop-color="#cfff30"/><stop offset="0.6" stop-color="#e5ff1a"/><stop offset="0.8" stop-color="#f0ff0f"/><stop offset="0.9" stop-color="#e5ff1a"/><stop offset="1" stop-color="#bdff42"/></linearGradient><linearGradient id="g411" x2="0" y2="1"><stop offset="0" stop-color="#b3ff4c"/><stop offset="0.12" stop-color="#b3ff4c"/><stop offset="0.38" stop-color="#8aff75"/><stop offset="0.5" stop-color="#a8ff57"/><stop offset="0.6" stop-color="#dbff24"/><stop offset="0.8" stop-color="#e5ff1a"/><stop offset="0.9" stop-color="#d6ff29"/><stop offset="1" stop-color="#a8ff57"/></linearGradient><linearGradient id="g412" x2="0" y2="1"><stop offset="0" stop-color="#a8ff57"/><stop offset="0.12" stop-color="#a8ff57"/><stop offset="0.315" stop-color="#8aff75"/><stop offset="0.38" stop-color="#7aff85"/><stop offset="0.55" stop-color="#b5ff4a"/><stop offset="0.6" stop-color="#cf3"/><stop offset="0.7" stop-color="#cf3"/><stop offset="1" stop-color="#a8ff57"/></linearGradient><linearGradient id="g413" x2="0" y2="1"><stop offset="0" stop-color="#bdff42"/><stop offset="0.12" stop-color="#b3ff4c"/><stop offset="0.315" stop-color="#85ff7a"/><stop offset="0.38" stop-color="#70ff8f"/><stop offset="0.6" stop-color="#bdff42"/><stop offset="0.8" stop-color="#b3ff4c"/><stop offset="1" stop-color="#9f6"/></linearGradient><linearGradient id="g414" x2="0" y2="1"><stop offset="0" stop-color="#a8ff57"/><stop offset="0.12" stop-color="#a8ff57"/><stop offset="0.25" stop-color="#9f6"/><stop offset="0.38" stop-color="#70ff8f"/><stop offset="0.6" stop-color="#bdff42"/><stop offset="0.8" stop-color="#b3ff4c"/><stop offset="1" stop-color="#9f6"/></linearGradient><linearGradient id="g415" x2="0" y2="1"><stop offset="0" stop-color="#9f6"/><stop offset="0.25" stop-color="#8fff70"/><stop offset="0.38" stop-color="#61ff9e"/><stop offset="0.55" stop-color="#9cff63"/><stop offset="0.6" stop-color="#b3ff4c"/><stop offset="0.7" stop-color="#b3ff4c"/><stop offset="0.9" stop-color="#80ff80"/><stop offset="1" stop-color="#8fff70"/></linearGradient><linearGradient id="g416" x2="0" y2="1"><stop offset="0" stop-color="#9f6"/><stop offset="0.12" stop-color="#9f6"/><stop offset="0.25" stop-color="#80ff80"/><stop offset="0.38" stop-color="#52ffad"/><stop offset="0.6" stop-color="#b3ff4c"/><stop offset="0.7" stop-color="#a8ff57"/><stop offset="0.9" stop-color="#80ff80"/><stop offset="1" stop-color="#8fff70"/></linearGradient><linearGradient id="g417" x2="0" y2="1"><stop offset="0" stop-color="#9f6"/><stop offset="0.12" stop-color="#9f6"/><stop offset="0.38" stop-color="#61ff9e"/><stop offset="0.55" stop-color="#9cff63"/><stop offset="0.6" stop-color="#b3ff4c"/><stop offset="0.7" stop-color="#b3ff4c"/><stop offset="0.8" stop-color="#9f6"/><stop offset="1" stop-color="#9f6"/></linearGradient><linearGradient id="g418" x2="0" y2="1"><stop offset="0" stop-color="#a8ff57"/><stop offset="0.12" stop-color="#a8ff57"/><stop offset="0.25" stop-color="#9f6"/><stop offset="0.38" stop-color="#70ff8f"/><stop offset="0.6" stop-color="#b3ff4c"/><stop offset="0.8" stop-color="#a8ff57"/><stop offset="0.9" stop-color="#9f6"/><stop offset="1" stop-color="#9f6"/></linearGradient><linearGradient id="g419" x2="0" y2="1"><stop offset="0" stop-color="#bdff42"/><stop offset="0.25" stop-color="#a8ff57"/><stop offset="0.38" stop-color="#7aff85"/><stop offset="0.5" stop-color="#94ff6b"/><stop offset="0.6" stop-color="#bdff42"/><stop offset="0.8" stop-color="#b3ff4c"/><stop offset="1" stop-color="#9f6"/></linearGradient><linearGradient id="g420" x2="0" y2="1"><stop offset="0" stop-color="#9f6"/><stop offset="0.25" stop-color="#9f6"/><stop offset="0.38" stop-color="#70ff8f"/><stop offset="0.55" stop-color="#96ff69"/><stop offset="0.6" stop-color="#a8ff57"/><stop offset="0.7" stop-color="#a8ff57"/><stop offset="0.8" stop-color="#9f6"/><stop offset="1" stop-color="#9f6"/></linearGradient><linearGradient id="g421" x2="0" y2="1"><stop offset="0" stop-color="#9f6"/><stop offset="0.25" stop-color="#9f6"/><stop offset="0.38" stop-color="#75ff8a"/><stop offset="0.5" stop-color="#80ff80"/><stop offset="0.6" stop-color="#9f6"/><stop offset="1" stop-color="#9f6"/></linearGradient><linearGradient id="cbar" x1="0" y1="0" x2="0" y2="1"><stop offset="0.0000" stop-color="#800000"/><stop offset="0.0312" stop-color="#9f0000"/><stop offset="0.0625" stop-color="#bf0000"/><stop offset="0.0938" stop-color="#df0000"/><stop offset="0.1250" stop-color="#ff0000"/><stop offset="0.1562" stop-color="#ff2000"/><stop offset="0.1875" stop-color="#ff4000"/><stop offset="0.2188" stop-color="#ff6000"/><stop offset="0.2500" stop-color="#ff8000"/><stop offset="0.2812" stop-color="#ff9f00"/><stop offset="0.3125" stop-color="#ffbf00"/><stop offset="0.3438" stop-color="#ffdf00"/><stop offset="0.3750" stop-color="#ffff00"/><stop offset="0.4062" stop-color="#dfff20"/><stop offset="0.4375" stop-color="#bfff40"/><stop offset="0.4688" stop-color="#9fff60"/><stop offset="0.5000" stop-color="#80ff80"/><stop offset="0.5312" stop-color="#60ff9f"/><stop offset="0.5625" stop-color="#40ffbf"/><stop offset="0.5938" stop-color="#20ffdf"/><stop offset="0.6250" stop-color="#00ffff"/><stop offset="0.6562" stop-color="#00dfff"/><stop offset="0.6875" stop-color="#00bfff"/><stop offset="0.7188" stop-color="#009fff"/><stop offset="0.7500" stop-color="#0080ff"/><stop offset="0.7812" stop-color="#0060ff"/><stop offset="0.8125" stop-color="#0040ff"/><stop offset="0.8438" stop-color="#0020ff"/><stop offset="0.8750" stop-color="#0000ff"/><stop offset="0.9062" stop-color="#0000df"/><stop offset="0.9375" stop-color="#0000bf"/><stop offset="0.9688" stop-color="#00009f"/><stop offset="1.0000" stop-color="#000080"/></linearGradient></defs>
<rect width="1250" height="1528" fill="#fff"/>
<rect x="161.5" y="122.2" width="1.60" height="74.8" fill="#85ff7a"/><rect x="162.5" y="122.2" width="5.08" height="74.8" fill="url(#g1)"/><rect x="167.0" y="122.2" width="5.08" height="74.8" fill="url(#g2)"/><rect x="171.5" y="122.2" width="5.08" height="74.8" fill="#8eff71"/><rect x="175.9" y="122.2" width="5.08" height="74.8" fill="#97ff68"/><rect x="180.4" y="122.2" width="5.08" height="74.8" fill="#93ff6c"/><rect x="184.9" y="122.2" width="5.08" height="74.8" fill="#84ff7b"/><rect x="189.4" y="122.2" width="5.08" height="74.8" fill="url(#g3)"/><rect x="193.8" y="122.2" width="5.08" height="74.8" fill="#89ff76"/><rect x="198.3" y="122.2" width="5.08" height="74.8" fill="#91ff6e"/><rect x="202.8" y="122.2" width="5.08" height="74.8" fill="#94ff6b"/><rect x="207.3" y="122.2" width="5.08" height="74.8" fill="url(#g4)"/><rect x="211.7" y="122.2" width="5.08" height="74.8" fill="url(#g5)"/><rect x="216.2" y="122.2" width="5.08" height="74.8" fill="url(#g6)"/><rect x="220.7" y="122.2" width="5.08" height="74.8" fill="url(#g7)"/><rect x="225.2" y="122.2" width="5.08" height="74.8" fill="url(#g8)"/><rect x="229.6" y="122.2" width="5.08" height="74.8" fill="url(#g9)"/><rect x="234.1" y="122.2" width="5.08" height="74.8" fill="url(#g10)"/><rect x="238.6" y="122.2" width="9.55" height="74.8" fill="url(#g11)"/><rect x="247.6" y="122.2" width="5.08" height="74.8" fill="url(#g12)"/><rect x="252.0" y="122.2" width="5.08" height="74.8" fill="url(#g13)"/><rect x="256.5" y="122.2" width="5.08" height="74.8" fill="url(#g14)"/><rect x="261.0" y="122.2" width="5.08" height="74.8" fill="url(#g15)"/><rect x="265.5" y="122.2" width="5.08" height="74.8" fill="url(#g16)"/><rect x="269.9" y="122.2" width="5.08" height="74.8" fill="url(#g17)"/><rect x="274.4" y="122.2" width="5.08" height="74.8" fill="url(#g18)"/><rect x="278.9" y="122.2" width="5.08" height="74.8" fill="url(#g19)"/><rect x="283.4" y="122.2" width="5.08" height="74.8" fill="url(#g20)"/><rect x="287.8" y="122.2" width="5.08" height="74.8" fill="url(#g21)"/><rect x="292.3" y="122.2" width="5.08" height="74.8" fill="url(#g22)"/><rect x="296.8" y="122.2" width="5.08" height="74.8" fill="url(#g23)"/><rect x="301.3" y="122.2" width="5.08" height="74.8" fill="url(#g24)"/><rect x="305.7" y="122.2" width="5.08" height="74.8" fill="url(#g25)"/><rect x="310.2" y="122.2" width="5.08" height="74.8" fill="url(#g26)"/><rect x="314.7" y="122.2" width="5.08" height="74.8" fill="url(#g27)"/><rect x="319.2" y="122.2" width="5.08" height="74.8" fill="url(#g28)"/><rect x="323.7" y="122.2" width="5.08" height="74.8" fill="url(#g29)"/><rect x="328.1" y="122.2" width="5.08" height="74.8" fill="url(#g30)"/><rect x="332.6" y="122.2" width="5.08" height="74.8" fill="url(#g31)"/><rect x="337.1" y="122.2" width="5.08" height="74.8" fill="url(#g32)"/><rect x="341.6" y="122.2" width="5.08" height="74.8" fill="url(#g33)"/><rect x="346.0" y="122.2" width="5.08" height="74.8" fill="url(#g34)"/><rect x="350.5" y="122.2" width="5.08" height="74.8" fill="url(#g35)"/><rect x="355.0" y="122.2" width="5.08" height="74.8" fill="url(#g36)"/><rect x="359.5" y="122.2" width="5.08" height="74.8" fill="url(#g37)"/><rect x="363.9" y="122.2" width="5.08" height="74.8" fill="url(#g38)"/><rect x="368.4" y="122.2" width="5.08" height="74.8" fill="url(#g39)"/><rect x="372.9" y="122.2" width="5.08" height="74.8" fill="url(#g40)"/><rect x="377.4" y="122.2" width="5.08" height="74.8" fill="url(#g41)"/><rect x="381.8" y="122.2" width="5.08" height="74.8" fill="#9bff64"/><rect x="386.3" y="122.2" width="3.48" height="74.8" fill="#94ff6b"/><rect x="161.5" y="208.0" width="46.36" height="205.8" fill="#8fff70"/><rect x="207.3" y="208.0" width="5.08" height="205.8" fill="url(#g42)"/><rect x="211.7" y="208.0" width="5.08" height="205.8" fill="url(#g43)"/><rect x="216.2" y="208.0" width="5.08" height="205.8" fill="url(#g44)"/><rect x="220.7" y="208.0" width="5.08" height="205.8" fill="url(#g45)"/><rect x="225.2" y="208.0" width="5.08" height="205.8" fill="url(#g46)"/><rect x="229.6" y="208.0" width="5.08" height="205.8" fill="url(#g47)"/><rect x="234.1" y="208.0" width="5.08" height="205.8" fill="url(#g48)"/><rect x="238.6" y="208.0" width="5.08" height="205.8" fill="url(#g49)"/><rect x="243.1" y="208.0" width="5.08" height="205.8" fill="url(#g50)"/><rect x="247.6" y="208.0" width="5.08" height="205.8" fill="url(#g51)"/><rect x="252.0" y="208.0" width="5.08" height="205.8" fill="url(#g52)"/><rect x="256.5" y="208.0" width="5.08" height="205.8" fill="url(#g53)"/><rect x="261.0" y="208.0" width="5.08" height="205.8" fill="url(#g54)"/><rect x="265.5" y="208.0" width="5.08" height="205.8" fill="url(#g55)"/><rect x="269.9" y="208.0" width="5.08" height="205.8" fill="url(#g56)"/><rect x="274.4" y="208.0" width="5.08" height="205.8" fill="url(#g57)"/><rect x="278.9" y="208.0" width="5.08" height="205.8" fill="url(#g58)"/><rect x="283.4" y="208.0" width="5.08" height="205.8" fill="url(#g59)"/><rect x="287.8" y="208.0" width="5.08" height="205.8" fill="url(#g60)"/><rect x="292.3" y="208.0" width="5.08" height="205.8" fill="url(#g61)"/><rect x="296.8" y="208.0" width="5.08" height="205.8" fill="url(#g62)"/><rect x="301.3" y="208.0" width="5.08" height="205.8" fill="url(#g63)"/><rect x="305.7" y="208.0" width="5.08" height="205.8" fill="url(#g64)"/><rect x="310.2" y="208.0" width="5.08" height="205.8" fill="url(#g65)"/><rect x="314.7" y="208.0" width="5.08" height="205.8" fill="url(#g66)"/><rect x="319.2" y="208.0" width="5.08" height="205.8" fill="url(#g67)"/><rect x="323.7" y="208.0" width="5.08" height="205.8" fill="url(#g68)"/><rect x="328.1" y="208.0" width="5.08" height="205.8" fill="url(#g69)"/><rect x="332.6" y="208.0" width="5.08" height="205.8" fill="url(#g70)"/><rect x="337.1" y="208.0" width="5.08" height="205.8" fill="url(#g71)"/><rect x="341.6" y="208.0" width="5.08" height="205.8" fill="url(#g72)"/><rect x="346.0" y="208.0" width="5.08" height="205.8" fill="url(#g73)"/><rect x="350.5" y="208.0" width="5.08" height="205.8" fill="url(#g74)"/><rect x="355.0" y="208.0" width="5.08" height="205.8" fill="url(#g75)"/><rect x="359.5" y="208.0" width="5.08" height="205.8" fill="url(#g76)"/><rect x="363.9" y="208.0" width="5.08" height="205.8" fill="url(#g77)"/><rect x="368.4" y="208.0" width="5.08" height="205.8" fill="url(#g78)"/><rect x="372.9" y="208.0" width="5.08" height="205.8" fill="url(#g79)"/><rect x="377.4" y="208.0" width="5.08" height="205.8" fill="url(#g80)"/><rect x="381.8" y="208.0" width="5.08" height="205.8" fill="url(#g81)"/><rect x="386.3" y="208.0" width="3.48" height="205.8" fill="url(#g82)"/><rect x="161.5" y="463.4" width="1.60" height="74.8" fill="#85ff7a"/><rect x="162.5" y="463.4" width="5.08" height="74.8" fill="#87ff78"/><rect x="167.0" y="463.4" width="5.08" height="74.8" fill="#8aff75"/><rect x="171.5" y="463.4" width="5.08" height="74.8" fill="#9aff65"/><rect x="175.9" y="463.4" width="9.55" height="74.8" fill="url(#g83)"/><rect x="184.9" y="463.4" width="5.08" height="74.8" fill="url(#g84)"/><rect x="189.4" y="463.4" width="5.08" height="74.8" fill="url(#g85)"/><rect x="193.8" y="463.4" width="5.08" height="74.8" fill="url(#g86)"/><rect x="198.3" y="463.4" width="5.08" height="74.8" fill="url(#g87)"/><rect x="202.8" y="463.4" width="5.08" height="74.8" fill="url(#g88)"/><rect x="207.3" y="463.4" width="5.08" height="74.8" fill="url(#g89)"/><rect x="211.7" y="463.4" width="5.08" height="74.8" fill="url(#g90)"/><rect x="216.2" y="463.4" width="5.08" height="74.8" fill="url(#g91)"/><rect x="220.7" y="463.4" width="5.08" height="74.8" fill="url(#g92)"/><rect x="225.2" y="463.4" width="5.08" height="74.8" fill="url(#g93)"/><rect x="229.6" y="463.4" width="5.08" height="74.8" fill="url(#g94)"/><rect x="234.1" y="463.4" width="5.08" height="74.8" fill="url(#g95)"/><rect x="238.6" y="463.4" width="5.08" height="74.8" fill="url(#g96)"/><rect x="243.1" y="463.4" width="5.08" height="74.8" fill="url(#g97)"/><rect x="247.6" y="463.4" width="5.08" height="74.8" fill="url(#g98)"/><rect x="252.0" y="463.4" width="9.55" height="74.8" fill="url(#g99)"/><rect x="261.0" y="463.4" width="5.08" height="74.8" fill="url(#g100)"/><rect x="265.5" y="463.4" width="5.08" height="74.8" fill="url(#g101)"/><rect x="269.9" y="463.4" width="5.08" height="74.8" fill="url(#g102)"/><rect x="274.4" y="463.4" width="5.08" height="74.8" fill="url(#g103)"/><rect x="278.9" y="463.4" width="5.08" height="74.8" fill="url(#g104)"/><rect x="283.4" y="463.4" width="5.08" height="74.8" fill="url(#g105)"/><rect x="287.8" y="463.4" width="5.08" height="74.8" fill="url(#g106)"/><rect x="292.3" y="463.4" width="5.08" height="74.8" fill="url(#g107)"/><rect x="296.8" y="463.4" width="5.08" height="74.8" fill="url(#g108)"/><rect x="301.3" y="463.4" width="5.08" height="74.8" fill="url(#g109)"/><rect x="305.7" y="463.4" width="5.08" height="74.8" fill="url(#g110)"/><rect x="310.2" y="463.4" width="5.08" height="74.8" fill="url(#g111)"/><rect x="314.7" y="463.4" width="5.08" height="74.8" fill="url(#g112)"/><rect x="319.2" y="463.4" width="5.08" height="74.8" fill="url(#g113)"/><rect x="323.7" y="463.4" width="5.08" height="74.8" fill="url(#g114)"/><rect x="328.1" y="463.4" width="5.08" height="74.8" fill="url(#g115)"/><rect x="332.6" y="463.4" width="5.08" height="74.8" fill="url(#g116)"/><rect x="337.1" y="463.4" width="5.08" height="74.8" fill="url(#g117)"/><rect x="341.6" y="463.4" width="5.08" height="74.8" fill="url(#g118)"/><rect x="346.0" y="463.4" width="5.08" height="74.8" fill="url(#g119)"/><rect x="350.5" y="463.4" width="18.51" height="74.8" fill="url(#g120)"/><rect x="368.4" y="463.4" width="5.08" height="74.8" fill="url(#g121)"/><rect x="372.9" y="463.4" width="5.08" height="74.8" fill="url(#g122)"/><rect x="377.4" y="463.4" width="5.08" height="74.8" fill="#91ff6e"/><rect x="381.8" y="463.4" width="5.08" height="74.8" fill="#8fff70"/><rect x="386.3" y="463.4" width="3.48" height="74.8" fill="#8cff73"/><rect x="161.5" y="549.2" width="46.36" height="205.6" fill="#8fff70"/><rect x="207.3" y="549.2" width="5.08" height="205.6" fill="url(#g123)"/><rect x="211.7" y="549.2" width="5.08" height="205.6" fill="url(#g124)"/><rect x="216.2" y="549.2" width="5.08" height="205.6" fill="url(#g125)"/><rect x="220.7" y="549.2" width="5.08" height="205.6" fill="url(#g126)"/><rect x="225.2" y="549.2" width="5.08" height="205.6" fill="url(#g127)"/><rect x="229.6" y="549.2" width="5.08" height="205.6" fill="url(#g128)"/><rect x="234.1" y="549.2" width="5.08" height="205.6" fill="url(#g129)"/><rect x="238.6" y="549.2" width="5.08" height="205.6" fill="url(#g130)"/><rect x="243.1" y="549.2" width="5.08" height="205.6" fill="url(#g131)"/><rect x="247.6" y="549.2" width="5.08" height="205.6" fill="url(#g132)"/><rect x="252.0" y="549.2" width="5.08" height="205.6" fill="url(#g133)"/><rect x="256.5" y="549.2" width="5.08" height="205.6" fill="url(#g134)"/><rect x="261.0" y="549.2" width="5.08" height="205.6" fill="url(#g135)"/><rect x="265.5" y="549.2" width="5.08" height="205.6" fill="url(#g136)"/><rect x="269.9" y="549.2" width="5.08" height="205.6" fill="url(#g137)"/><rect x="274.4" y="549.2" width="5.08" height="205.6" fill="url(#g138)"/><rect x="278.9" y="549.2" width="5.08" height="205.6" fill="url(#g139)"/><rect x="283.4" y="549.2" width="5.08" height="205.6" fill="url(#g140)"/><rect x="287.8" y="549.2" width="5.08" height="205.6" fill="url(#g141)"/><rect x="292.3" y="549.2" width="5.08" height="205.6" fill="url(#g142)"/><rect x="296.8" y="549.2" width="5.08" height="205.6" fill="url(#g143)"/><rect x="301.3" y="549.2" width="5.08" height="205.6" fill="url(#g144)"/><rect x="305.7" y="549.2" width="5.08" height="205.6" fill="url(#g145)"/><rect x="310.2" y="549.2" width="5.08" height="205.6" fill="url(#g146)"/><rect x="314.7" y="549.2" width="5.08" height="205.6" fill="url(#g147)"/><rect x="319.2" y="549.2" width="5.08" height="205.6" fill="url(#g148)"/><rect x="323.7" y="549.2" width="5.08" height="205.6" fill="url(#g149)"/><rect x="328.1" y="549.2" width="5.08" height="205.6" fill="url(#g150)"/><rect x="332.6" y="549.2" width="5.08" height="205.6" fill="url(#g151)"/><rect x="337.1" y="549.2" width="5.08" height="205.6" fill="url(#g152)"/><rect x="341.6" y="549.2" width="5.08" height="205.6" fill="url(#g153)"/><rect x="346.0" y="549.2" width="5.08" height="205.6" fill="url(#g154)"/><rect x="350.5" y="549.2" width="5.08" height="205.6" fill="url(#g155)"/><rect x="355.0" y="549.2" width="5.08" height="205.6" fill="url(#g156)"/><rect x="359.5" y="549.2" width="5.08" height="205.6" fill="url(#g157)"/><rect x="363.9" y="549.2" width="5.08" height="205.6" fill="url(#g158)"/><rect x="368.4" y="549.2" width="5.08" height="205.6" fill="url(#g159)"/><rect x="372.9" y="549.2" width="5.08" height="205.6" fill="url(#g160)"/><rect x="377.4" y="549.2" width="5.08" height="205.6" fill="url(#g161)"/><rect x="381.8" y="549.2" width="5.08" height="205.6" fill="url(#g162)"/><rect x="386.3" y="549.2" width="3.48" height="205.6" fill="url(#g163)"/><rect x="407.8" y="122.2" width="1.60" height="74.8" fill="#92ff6d"/><rect x="408.8" y="122.2" width="5.07" height="74.8" fill="#93ff6c"/><rect x="413.3" y="122.2" width="5.07" height="74.8" fill="#94ff6b"/><rect x="417.7" y="122.2" width="5.07" height="74.8" fill="#95ff6a"/><rect x="422.2" y="122.2" width="18.50" height="74.8" fill="url(#g164)"/><rect x="440.1" y="122.2" width="9.55" height="74.8" fill="url(#g165)"/><rect x="449.1" y="122.2" width="5.07" height="74.8" fill="url(#g166)"/><rect x="453.5" y="122.2" width="5.07" height="74.8" fill="url(#g167)"/><rect x="458.0" y="122.2" width="5.07" height="74.8" fill="url(#g168)"/><rect x="462.5" y="122.2" width="5.07" height="74.8" fill="url(#g169)"/><rect x="467.0" y="122.2" width="5.07" height="74.8" fill="url(#g170)"/><rect x="471.4" y="122.2" width="5.07" height="74.8" fill="url(#g171)"/><rect x="475.9" y="122.2" width="5.07" height="74.8" fill="url(#g172)"/><rect x="480.4" y="122.2" width="5.07" height="74.8" fill="url(#g173)"/><rect x="484.9" y="122.2" width="5.07" height="74.8" fill="url(#g174)"/><rect x="489.3" y="122.2" width="5.07" height="74.8" fill="url(#g175)"/><rect x="493.8" y="122.2" width="5.07" height="74.8" fill="url(#g176)"/><rect x="498.3" y="122.2" width="5.07" height="74.8" fill="url(#g177)"/><rect x="502.8" y="122.2" width="5.07" height="74.8" fill="url(#g178)"/><rect x="507.2" y="122.2" width="5.07" height="74.8" fill="url(#g179)"/><rect x="511.7" y="122.2" width="5.07" height="74.8" fill="url(#g180)"/><rect x="516.2" y="122.2" width="5.07" height="74.8" fill="url(#g181)"/><rect x="520.7" y="122.2" width="5.07" height="74.8" fill="url(#g182)"/><rect x="525.1" y="122.2" width="5.07" height="74.8" fill="url(#g183)"/><rect x="529.6" y="122.2" width="5.07" height="74.8" fill="url(#g184)"/><rect x="534.1" y="122.2" width="5.07" height="74.8" fill="url(#g185)"/><rect x="538.6" y="122.2" width="5.07" height="74.8" fill="url(#g186)"/><rect x="543.0" y="122.2" width="5.07" height="74.8" fill="url(#g187)"/><rect x="547.5" y="122.2" width="5.07" height="74.8" fill="url(#g188)"/><rect x="552.0" y="122.2" width="5.07" height="74.8" fill="url(#g189)"/><rect x="556.5" y="122.2" width="5.07" height="74.8" fill="url(#g190)"/><rect x="560.9" y="122.2" width="5.07" height="74.8" fill="url(#g191)"/><rect x="565.4" y="122.2" width="5.07" height="74.8" fill="url(#g192)"/><rect x="569.9" y="122.2" width="5.07" height="74.8" fill="url(#g193)"/><rect x="574.4" y="122.2" width="5.07" height="74.8" fill="url(#g194)"/><rect x="578.8" y="122.2" width="5.07" height="74.8" fill="url(#g195)"/><rect x="583.3" y="122.2" width="5.07" height="74.8" fill="url(#g196)"/><rect x="587.8" y="122.2" width="5.07" height="74.8" fill="url(#g197)"/><rect x="592.3" y="122.2" width="5.07" height="74.8" fill="url(#g198)"/><rect x="596.7" y="122.2" width="5.07" height="74.8" fill="url(#g199)"/><rect x="601.2" y="122.2" width="5.07" height="74.8" fill="url(#g200)"/><rect x="605.7" y="122.2" width="5.07" height="74.8" fill="url(#g201)"/><rect x="610.2" y="122.2" width="5.07" height="74.8" fill="url(#g202)"/><rect x="614.6" y="122.2" width="5.07" height="74.8" fill="url(#g203)"/><rect x="619.1" y="122.2" width="5.07" height="74.8" fill="url(#g204)"/><rect x="623.6" y="122.2" width="5.07" height="74.8" fill="url(#g205)"/><rect x="628.1" y="122.2" width="5.07" height="74.8" fill="#95ff6a"/><rect x="632.5" y="122.2" width="3.47" height="74.8" fill="#93ff6c"/><rect x="407.8" y="208.0" width="15.02" height="205.8" fill="#8fff70"/><rect x="422.2" y="208.0" width="9.55" height="205.8" fill="#9dff62"/><rect x="431.2" y="208.0" width="22.97" height="205.8" fill="#8fff70"/><rect x="453.5" y="208.0" width="5.07" height="205.8" fill="url(#g206)"/><rect x="458.0" y="208.0" width="5.07" height="205.8" fill="url(#g207)"/><rect x="462.5" y="208.0" width="5.07" height="205.8" fill="url(#g208)"/><rect x="467.0" y="208.0" width="5.07" height="205.8" fill="url(#g209)"/><rect x="471.4" y="208.0" width="5.07" height="205.8" fill="url(#g210)"/><rect x="475.9" y="208.0" width="5.07" height="205.8" fill="url(#g211)"/><rect x="480.4" y="208.0" width="5.07" height="205.8" fill="url(#g212)"/><rect x="484.9" y="208.0" width="5.07" height="205.8" fill="url(#g213)"/><rect x="489.3" y="208.0" width="5.07" height="205.8" fill="url(#g214)"/><rect x="493.8" y="208.0" width="5.07" height="205.8" fill="url(#g215)"/><rect x="498.3" y="208.0" width="5.07" height="205.8" fill="url(#g216)"/><rect x="502.8" y="208.0" width="9.55" height="205.8" fill="url(#g217)"/><rect x="511.7" y="208.0" width="5.07" height="205.8" fill="url(#g218)"/><rect x="516.2" y="208.0" width="5.07" height="205.8" fill="url(#g219)"/><rect x="520.7" y="208.0" width="5.07" height="205.8" fill="url(#g220)"/><rect x="525.1" y="208.0" width="5.07" height="205.8" fill="url(#g221)"/><rect x="529.6" y="208.0" width="5.07" height="205.8" fill="url(#g222)"/><rect x="534.1" y="208.0" width="5.07" height="205.8" fill="url(#g223)"/><rect x="538.6" y="208.0" width="5.07" height="205.8" fill="url(#g224)"/><rect x="543.0" y="208.0" width="5.07" height="205.8" fill="url(#g225)"/><rect x="547.5" y="208.0" width="5.07" height="205.8" fill="url(#g226)"/><rect x="552.0" y="208.0" width="5.07" height="205.8" fill="url(#g227)"/><rect x="556.5" y="208.0" width="5.07" height="205.8" fill="url(#g228)"/><rect x="560.9" y="208.0" width="5.07" height="205.8" fill="url(#g229)"/><rect x="565.4" y="208.0" width="5.07" height="205.8" fill="url(#g230)"/><rect x="569.9" y="208.0" width="5.07" height="205.8" fill="url(#g231)"/><rect x="574.4" y="208.0" width="5.07" height="205.8" fill="url(#g232)"/><rect x="578.8" y="208.0" width="5.07" height="205.8" fill="url(#g233)"/><rect x="583.3" y="208.0" width="5.07" height="205.8" fill="url(#g234)"/><rect x="587.8" y="208.0" width="5.07" height="205.8" fill="url(#g235)"/><rect x="592.3" y="208.0" width="5.07" height="205.8" fill="url(#g236)"/><rect x="596.7" y="208.0" width="5.07" height="205.8" fill="url(#g237)"/><rect x="601.2" y="208.0" width="5.07" height="205.8" fill="url(#g238)"/><rect x="605.7" y="208.0" width="5.07" height="205.8" fill="url(#g239)"/><rect x="610.2" y="208.0" width="5.07" height="205.8" fill="url(#g240)"/><rect x="614.6" y="208.0" width="5.07" height="205.8" fill="url(#g241)"/><rect x="619.1" y="208.0" width="5.07" height="205.8" fill="url(#g242)"/><rect x="623.6" y="208.0" width="5.07" height="205.8" fill="url(#g243)"/><rect x="628.1" y="208.0" width="5.07" height="205.8" fill="#95ff6a"/><rect x="632.5" y="208.0" width="3.47" height="205.8" fill="#93ff6c"/><rect x="407.8" y="463.4" width="1.60" height="74.8" fill="url(#g244)"/><rect x="408.8" y="463.4" width="5.07" height="74.8" fill="url(#g245)"/><rect x="413.3" y="463.4" width="5.07" height="74.8" fill="url(#g246)"/><rect x="417.7" y="463.4" width="5.07" height="74.8" fill="url(#g247)"/><rect x="422.2" y="463.4" width="5.07" height="74.8" fill="url(#g248)"/><rect x="426.7" y="463.4" width="5.07" height="74.8" fill="url(#g249)"/><rect x="431.2" y="463.4" width="5.07" height="74.8" fill="url(#g250)"/><rect x="435.6" y="463.4" width="5.07" height="74.8" fill="url(#g251)"/><rect x="440.1" y="463.4" width="14.02" height="74.8" fill="url(#g252)"/><rect x="453.5" y="463.4" width="5.07" height="74.8" fill="url(#g253)"/><rect x="458.0" y="463.4" width="5.07" height="74.8" fill="url(#g254)"/><rect x="462.5" y="463.4" width="5.07" height="74.8" fill="url(#g255)"/><rect x="467.0" y="463.4" width="5.07" height="74.8" fill="url(#g256)"/><rect x="471.4" y="463.4" width="5.07" height="74.8" fill="url(#g257)"/><rect x="475.9" y="463.4" width="5.07" height="74.8" fill="url(#g258)"/><rect x="480.4" y="463.4" width="9.55" height="74.8" fill="url(#g259)"/><rect x="489.3" y="463.4" width="5.07" height="74.8" fill="url(#g260)"/><rect x="493.8" y="463.4" width="5.07" height="74.8" fill="url(#g261)"/><rect x="498.3" y="463.4" width="9.55" height="74.8" fill="url(#g262)"/><rect x="507.2" y="463.4" width="5.07" height="74.8" fill="url(#g263)"/><rect x="511.7" y="463.4" width="5.07" height="74.8" fill="url(#g264)"/><rect x="516.2" y="463.4" width="5.07" height="74.8" fill="url(#g265)"/><rect x="520.7" y="463.4" width="5.07" height="74.8" fill="url(#g266)"/><rect x="525.1" y="463.4" width="5.07" height="74.8" fill="url(#g267)"/><rect x="529.6" y="463.4" width="14.02" height="74.8" fill="url(#g268)"/><rect x="543.0" y="463.4" width="5.07" height="74.8" fill="url(#g269)"/><rect x="547.5" y="463.4" width="5.07" height="74.8" fill="url(#g270)"/><rect x="552.0" y="463.4" width="5.07" height="74.8" fill="url(#g271)"/><rect x="556.5" y="463.4" width="5.07" height="74.8" fill="url(#g272)"/><rect x="560.9" y="463.4" width="5.07" height="74.8" fill="url(#g273)"/><rect x="565.4" y="463.4" width="5.07" height="74.8" fill="url(#g274)"/><rect x="569.9" y="463.4" width="9.55" height="74.8" fill="url(#g275)"/><rect x="578.8" y="463.4" width="5.07" height="74.8" fill="url(#g276)"/><rect x="583.3" y="463.4" width="5.07" height="74.8" fill="url(#g277)"/><rect x="587.8" y="463.4" width="5.07" height="74.8" fill="url(#g278)"/><rect x="592.3" y="463.4" width="5.07" height="74.8" fill="url(#g279)"/><rect x="596.7" y="463.4" width="5.07" height="74.8" fill="url(#g280)"/><rect x="601.2" y="463.4" width="5.07" height="74.8" fill="url(#g281)"/><rect x="605.7" y="463.4" width="5.07" height="74.8" fill="url(#g282)"/><rect x="610.2" y="463.4" width="5.07" height="74.8" fill="url(#g283)"/><rect x="614.6" y="463.4" width="5.07" height="74.8" fill="url(#g284)"/><rect x="619.1" y="463.4" width="5.07" height="74.8" fill="url(#g285)"/><rect x="623.6" y="463.4" width="5.07" height="74.8" fill="url(#g286)"/><rect x="628.1" y="463.4" width="5.07" height="74.8" fill="url(#g287)"/><rect x="632.5" y="463.4" width="3.47" height="74.8" fill="url(#g288)"/><rect x="407.8" y="549.2" width="1.60" height="205.6" fill="#92ff6d"/><rect x="408.8" y="549.2" width="5.07" height="205.6" fill="#96ff69"/><rect x="413.3" y="549.2" width="5.07" height="205.6" fill="#9dff62"/><rect x="417.7" y="549.2" width="5.07" height="205.6" fill="url(#g289)"/><rect x="422.2" y="549.2" width="5.07" height="205.6" fill="#9dff62"/><rect x="426.7" y="549.2" width="5.07" height="205.6" fill="url(#g290)"/><rect x="431.2" y="549.2" width="9.55" height="205.6" fill="url(#g291)"/><rect x="440.1" y="549.2" width="5.07" height="205.6" fill="#84ff7b"/><rect x="444.6" y="549.2" width="9.55" height="205.6" fill="#8bff74"/><rect x="453.5" y="549.2" width="5.07" height="205.6" fill="url(#g292)"/><rect x="458.0" y="549.2" width="5.07" height="205.6" fill="url(#g293)"/><rect x="462.5" y="549.2" width="5.07" height="205.6" fill="url(#g294)"/><rect x="467.0" y="549.2" width="5.07" height="205.6" fill="url(#g295)"/><rect x="471.4" y="549.2" width="5.07" height="205.6" fill="url(#g296)"/><rect x="475.9" y="549.2" width="5.07" height="205.6" fill="url(#g297)"/><rect x="480.4" y="549.2" width="5.07" height="205.6" fill="url(#g298)"/><rect x="484.9" y="549.2" width="5.07" height="205.6" fill="url(#g299)"/><rect x="489.3" y="549.2" width="5.07" height="205.6" fill="url(#g300)"/><rect x="493.8" y="549.2" width="5.07" height="205.6" fill="url(#g301)"/><rect x="498.3" y="549.2" width="5.07" height="205.6" fill="url(#g302)"/><rect x="502.8" y="549.2" width="5.07" height="205.6" fill="url(#g303)"/><rect x="507.2" y="549.2" width="5.07" height="205.6" fill="url(#g304)"/><rect x="511.7" y="549.2" width="5.07" height="205.6" fill="url(#g305)"/><rect x="516.2" y="549.2" width="5.07" height="205.6" fill="url(#g306)"/><rect x="520.7" y="549.2" width="5.07" height="205.6" fill="url(#g307)"/><rect x="525.1" y="549.2" width="5.07" height="205.6" fill="url(#g308)"/><rect x="529.6" y="549.2" width="5.07" height="205.6" fill="url(#g309)"/><rect x="534.1" y="549.2" width="5.07" height="205.6" fill="url(#g310)"/><rect x="538.6" y="549.2" width="5.07" height="205.6" fill="url(#g311)"/><rect x="543.0" y="549.2" width="5.07" height="205.6" fill="url(#g312)"/><rect x="547.5" y="549.2" width="9.55" height="205.6" fill="url(#g313)"/><rect x="556.5" y="549.2" width="5.07" height="205.6" fill="url(#g314)"/><rect x="560.9" y="549.2" width="5.07" height="205.6" fill="url(#g315)"/><rect x="565.4" y="549.2" width="5.07" height="205.6" fill="url(#g316)"/><rect x="569.9" y="549.2" width="5.07" height="205.6" fill="url(#g317)"/><rect x="574.4" y="549.2" width="5.07" height="205.6" fill="url(#g318)"/><rect x="578.8" y="549.2" width="5.07" height="205.6" fill="url(#g319)"/><rect x="583.3" y="549.2" width="5.07" height="205.6" fill="url(#g320)"/><rect x="587.8" y="549.2" width="5.07" height="205.6" fill="url(#g321)"/><rect x="592.3" y="549.2" width="5.07" height="205.6" fill="url(#g322)"/><rect x="596.7" y="549.2" width="5.07" height="205.6" fill="url(#g323)"/><rect x="601.2" y="549.2" width="9.55" height="205.6" fill="#84ff7b"/><rect x="610.2" y="549.2" width="14.02" height="205.6" fill="url(#g324)"/><rect x="623.6" y="549.2" width="5.07" height="205.6" fill="url(#g325)"/><rect x="628.1" y="549.2" width="7.95" height="205.6" fill="#92ff6d"/><rect x="780.4" y="97.1" width="7.74" height="338.8" fill="url(#g326)"/><rect x="787.5" y="97.1" width="7.74" height="338.8" fill="url(#g327)"/><rect x="794.7" y="97.1" width="7.74" height="338.8" fill="url(#g328)"/><rect x="801.8" y="97.1" width="7.74" height="338.8" fill="url(#g329)"/><rect x="808.9" y="97.1" width="7.74" height="338.8" fill="url(#g330)"/><rect x="816.1" y="97.1" width="7.74" height="338.8" fill="url(#g331)"/><rect x="823.2" y="97.1" width="7.74" height="338.8" fill="url(#g332)"/><rect x="830.4" y="97.1" width="7.74" height="338.8" fill="url(#g333)"/><rect x="837.5" y="97.1" width="7.74" height="338.8" fill="url(#g334)"/><rect x="844.6" y="97.1" width="7.74" height="338.8" fill="url(#g335)"/><rect x="851.8" y="97.1" width="7.74" height="338.8" fill="#80ff80"/><rect x="858.9" y="97.1" width="7.74" height="338.8" fill="url(#g336)"/><rect x="866.0" y="97.1" width="7.74" height="338.8" fill="url(#g337)"/><rect x="873.2" y="97.1" width="7.74" height="338.8" fill="url(#g338)"/><rect x="880.3" y="97.1" width="7.74" height="338.8" fill="url(#g339)"/><rect x="887.4" y="97.1" width="7.74" height="338.8" fill="url(#g340)"/><rect x="894.6" y="97.1" width="7.74" height="338.8" fill="url(#g341)"/><rect x="901.7" y="97.1" width="7.74" height="338.8" fill="url(#g342)"/><rect x="908.8" y="97.1" width="7.74" height="338.8" fill="url(#g343)"/><rect x="916.0" y="97.1" width="7.74" height="338.8" fill="url(#g344)"/><rect x="923.1" y="97.1" width="7.74" height="338.8" fill="url(#g345)"/><rect x="930.3" y="97.1" width="7.74" height="338.8" fill="url(#g346)"/><rect x="937.4" y="97.1" width="7.74" height="338.8" fill="url(#g347)"/><rect x="944.5" y="97.1" width="7.74" height="338.8" fill="url(#g348)"/><rect x="951.7" y="97.1" width="7.74" height="338.8" fill="url(#g349)"/><rect x="958.8" y="97.1" width="7.74" height="338.8" fill="url(#g350)"/><rect x="965.9" y="97.1" width="7.74" height="338.8" fill="url(#g351)"/><rect x="973.1" y="97.1" width="7.74" height="338.8" fill="url(#g352)"/><rect x="980.2" y="97.1" width="7.74" height="338.8" fill="url(#g353)"/><rect x="987.3" y="97.1" width="7.74" height="338.8" fill="url(#g354)"/><rect x="994.5" y="97.1" width="7.74" height="338.8" fill="url(#g355)"/><rect x="1001.6" y="97.1" width="7.74" height="338.8" fill="url(#g356)"/><rect x="1008.8" y="97.1" width="7.74" height="338.8" fill="url(#g357)"/><rect x="1015.9" y="97.1" width="7.74" height="338.8" fill="url(#g358)"/><rect x="1023.0" y="97.1" width="7.74" height="338.8" fill="url(#g359)"/><rect x="1030.2" y="97.1" width="7.74" height="338.8" fill="url(#g360)"/><rect x="1037.3" y="97.1" width="7.74" height="338.8" fill="url(#g361)"/><rect x="1044.4" y="97.1" width="7.74" height="338.8" fill="url(#g362)"/><rect x="1051.6" y="97.1" width="7.74" height="338.8" fill="url(#g363)"/><rect x="1058.7" y="97.1" width="7.74" height="338.8" fill="url(#g364)"/><rect x="1065.8" y="97.1" width="7.74" height="338.8" fill="url(#g365)"/><rect x="1073.0" y="97.1" width="7.74" height="338.8" fill="#80ff80"/><rect x="1080.1" y="97.1" width="7.74" height="338.8" fill="url(#g366)"/><rect x="1087.2" y="97.1" width="7.74" height="338.8" fill="url(#g367)"/><rect x="1094.4" y="97.1" width="7.74" height="338.8" fill="url(#g368)"/><rect x="1101.5" y="97.1" width="7.74" height="338.8" fill="url(#g369)"/><rect x="1108.7" y="97.1" width="7.74" height="338.8" fill="url(#g370)"/><rect x="1115.8" y="97.1" width="7.74" height="338.8" fill="url(#g371)"/><rect x="1122.9" y="97.1" width="7.74" height="338.8" fill="url(#g372)"/><rect x="1130.1" y="97.1" width="7.14" height="338.8" fill="#9f6"/><rect x="780.4" y="499.9" width="7.74" height="931.1" fill="url(#g373)"/><rect x="787.5" y="499.9" width="7.74" height="931.1" fill="url(#g374)"/><rect x="794.7" y="499.9" width="7.74" height="931.1" fill="url(#g375)"/><rect x="801.8" y="499.9" width="7.74" height="931.1" fill="url(#g376)"/><rect x="808.9" y="499.9" width="7.74" height="931.1" fill="url(#g377)"/><rect x="816.1" y="499.9" width="7.74" height="931.1" fill="url(#g378)"/><rect x="823.2" y="499.9" width="7.74" height="931.1" fill="url(#g379)"/><rect x="830.4" y="499.9" width="7.74" height="931.1" fill="url(#g380)"/><rect x="837.5" y="499.9" width="7.74" height="931.1" fill="url(#g381)"/><rect x="844.6" y="499.9" width="7.74" height="931.1" fill="url(#g382)"/><rect x="851.8" y="499.9" width="7.74" height="931.1" fill="url(#g383)"/><rect x="858.9" y="499.9" width="7.74" height="931.1" fill="url(#g384)"/><rect x="866.0" y="499.9" width="7.74" height="931.1" fill="url(#g385)"/><rect x="873.2" y="499.9" width="7.74" height="931.1" fill="url(#g386)"/><rect x="880.3" y="499.9" width="7.74" height="931.1" fill="url(#g387)"/><rect x="887.4" y="499.9" width="7.74" height="931.1" fill="url(#g388)"/><rect x="894.6" y="499.9" width="7.74" height="931.1" fill="url(#g389)"/><rect x="901.7" y="499.9" width="7.74" height="931.1" fill="url(#g390)"/><rect x="908.8" y="499.9" width="7.74" height="931.1" fill="url(#g391)"/><rect x="916.0" y="499.9" width="7.74" height="931.1" fill="url(#g392)"/><rect x="923.1" y="499.9" width="7.74" height="931.1" fill="url(#g393)"/><rect x="930.3" y="499.9" width="7.74" height="931.1" fill="url(#g394)"/><rect x="937.4" y="499.9" width="7.74" height="931.1" fill="url(#g395)"/><rect x="944.5" y="499.9" width="7.74" height="931.1" fill="url(#g396)"/><rect x="951.7" y="499.9" width="7.74" height="931.1" fill="url(#g397)"/><rect x="958.8" y="499.9" width="7.74" height="931.1" fill="url(#g398)"/><rect x="965.9" y="499.9" width="7.74" height="931.1" fill="url(#g399)"/><rect x="973.1" y="499.9" width="7.74" height="931.1" fill="url(#g400)"/><rect x="980.2" y="499.9" width="7.74" height="931.1" fill="url(#g401)"/><rect x="987.3" y="499.9" width="7.74" height="931.1" fill="url(#g402)"/><rect x="994.5" y="499.9" width="7.74" height="931.1" fill="url(#g403)"/><rect x="1001.6" y="499.9" width="7.74" height="931.1" fill="url(#g404)"/><rect x="1008.8" y="499.9" width="7.74" height="931.1" fill="url(#g405)"/><rect x="1015.9" y="499.9" width="7.74" height="931.1" fill="url(#g406)"/><rect x="1023.0" y="499.9" width="7.74" height="931.1" fill="url(#g407)"/><rect x="1030.2" y="499.9" width="7.74" height="931.1" fill="url(#g408)"/><rect x="1037.3" y="499.9" width="7.74" height="931.1" fill="url(#g409)"/><rect x="1044.4" y="499.9" width="7.74" height="931.1" fill="url(#g410)"/><rect x="1051.6" y="499.9" width="7.74" height="931.1" fill="url(#g411)"/><rect x="1058.7" y="499.9" width="7.74" height="931.1" fill="url(#g412)"/><rect x="1065.8" y="499.9" width="7.74" height="931.1" fill="url(#g413)"/><rect x="1073.0" y="499.9" width="7.74" height="931.1" fill="url(#g414)"/><rect x="1080.1" y="499.9" width="7.74" height="931.1" fill="url(#g415)"/><rect x="1087.2" y="499.9" width="7.74" height="931.1" fill="url(#g416)"/><rect x="1094.4" y="499.9" width="7.74" height="931.1" fill="url(#g417)"/><rect x="1101.5" y="499.9" width="7.74" height="931.1" fill="url(#g418)"/><rect x="1108.7" y="499.9" width="14.87" height="931.1" fill="url(#g419)"/><rect x="1122.9" y="499.9" width="7.74" height="931.1" fill="url(#g420)"/><rect x="1130.1" y="499.9" width="7.14" height="931.1" fill="url(#g421)"/>
<rect x="646.7" y="373.6" width="38.1" height="134.2" fill="url(#cbar)"/><rect x="1158.9" y="1246.6" width="44.3" height="123.3" fill="url(#cbar)"/>
<path d="M199.4,1142.7 L231.1,1113.9 L265.6,1073.6 L296.4,1037.1 L327.1,1004.5 L359.7,977.6 L392.4,958.4 L423.9,944.7 L456.2,936.4 L489.4,932.0 L522.7,930.0 L556,929.6 L648.5,929.3 L648.5,930.0 L618.4,930.6 L587.2,933.7 L556,937.5 L522.7,943.1 L489.4,951.4 L456.2,963.3 L423.9,979.5 L392.4,998.7 L359.7,1023.7 L327.1,1048.6 L296.4,1073.6 L265.6,1102.4 L231.1,1127.4 L199.4,1151.4 Z" fill="#ff9999"/><polyline points="199.4,1146.6 231.1,1120.7 265.6,1085.1 296.4,1054.4 327.1,1027.5 359.7,1000.6 392.4,978.6 423.9,962.4 456.2,949.9 489.4,941.4 522.7,935.8 556,932.7 587.2,931.0 618.4,930.0 648.5,929.6" fill="none" stroke="#ff0000" stroke-width="3" stroke-linejoin="round"/><path d="M236.8,1014.5 L244.7,992.0 L253.6,963.5 L268.8,941.0 L284.5,932.2 L300.2,929.6 L319.4,928.6 L407.7,928.4 L407.7,928.8 L319.4,929.4 L300.2,931.4 L284.5,937.0 L268.8,954.0 L254.1,982.0 L244.7,998.5 L236.8,1018.5 Z" fill="#9999ff"/><polyline points="192.0,1169.1 201.5,1144.5 215.3,1100 220.6,1080 229,1045.7 237.4,1016.3 244.7,995.4 253.1,973.4 260.4,961.9 268.8,947.7 284.5,935.2 300.2,930.5 319.4,929.0 407.7,928.6" fill="none" stroke="#0000ff" stroke-width="3.0" stroke-linejoin="round"/><rect x="360.4" y="1056.1" width="43.6" height="48.9" fill="#ff0000"/><rect x="360.4" y="1120.1" width="43.6" height="48.9" fill="#0000ff"/><rect x="188.8" y="1220.0" width="101.2" height="84.2" fill="#ff0000"/><rect x="188.8" y="1331.0" width="36.1" height="84.0" fill="#0000ff"/>
<line x1="208.5" y1="122.5" x2="208.5" y2="197.0" stroke="#000" stroke-width="2.8" stroke-linecap="butt"/><line x1="208.5" y1="201.2" x2="208.5" y2="413.8" stroke="#000" stroke-width="2.8" stroke-linecap="butt"/><line x1="208.5" y1="463.4" x2="208.5" y2="538.2" stroke="#000" stroke-width="2.8" stroke-linecap="butt"/><line x1="208.5" y1="542.6" x2="208.5" y2="754.8" stroke="#000" stroke-width="2.8" stroke-linecap="butt"/><line x1="455.0" y1="122.5" x2="455.0" y2="197.0" stroke="#000" stroke-width="2.8" stroke-linecap="butt"/><line x1="455.0" y1="201.2" x2="455.0" y2="413.8" stroke="#000" stroke-width="2.8" stroke-linecap="butt"/><line x1="455.0" y1="463.4" x2="455.0" y2="538.2" stroke="#000" stroke-width="2.8" stroke-linecap="butt"/><line x1="455.0" y1="542.6" x2="455.0" y2="754.8" stroke="#000" stroke-width="2.8" stroke-linecap="butt"/><line x1="854.1" y1="100.2" x2="854.1" y2="435.9" stroke="#000" stroke-width="2.6" stroke-linecap="butt"/><line x1="854.1" y1="499.9" x2="854.1" y2="1431.0" stroke="#000" stroke-width="2.6" stroke-linecap="butt"/><line x1="188.4" y1="928.0" x2="188.4" y2="1207.6" stroke="#000" stroke-width="2.4" stroke-linecap="butt"/><line x1="188.4" y1="1206.5" x2="649.2" y2="1206.5" stroke="#000" stroke-width="2.2" stroke-linecap="butt"/><line x1="188.4" y1="929.2" x2="193.2" y2="929.2" stroke="#000" stroke-width="2.2" stroke-linecap="butt"/><line x1="188.4" y1="984.6" x2="193.2" y2="984.6" stroke="#000" stroke-width="2.2" stroke-linecap="butt"/><line x1="188.4" y1="1040.2" x2="193.2" y2="1040.2" stroke="#000" stroke-width="2.2" stroke-linecap="butt"/><line x1="188.4" y1="1095.6" x2="193.2" y2="1095.6" stroke="#000" stroke-width="2.2" stroke-linecap="butt"/><line x1="188.4" y1="1151.0" x2="193.2" y2="1151.0" stroke="#000" stroke-width="2.2" stroke-linecap="butt"/><line x1="286.8" y1="1197.0" x2="286.8" y2="1206.5" stroke="#000" stroke-width="2.0" stroke-linecap="butt"/><line x1="384.6" y1="1197.0" x2="384.6" y2="1206.5" stroke="#000" stroke-width="2.0" stroke-linecap="butt"/><line x1="482.8" y1="1197.0" x2="482.8" y2="1206.5" stroke="#000" stroke-width="2.0" stroke-linecap="butt"/><line x1="581.2" y1="1197.0" x2="581.2" y2="1206.5" stroke="#000" stroke-width="2.0" stroke-linecap="butt"/><line x1="188.4" y1="1206.5" x2="188.4" y2="1429.7" stroke="#000" stroke-width="2.4" stroke-linecap="butt"/><line x1="187.3" y1="1428.6" x2="657.6" y2="1428.6" stroke="#000" stroke-width="2.2" stroke-linecap="butt"/><line x1="188.4" y1="1317.0" x2="193.3" y2="1317.0" stroke="#000" stroke-width="2.0" stroke-linecap="butt"/><line x1="285.6" y1="1419.6" x2="285.6" y2="1428.6" stroke="#000" stroke-width="2.0" stroke-linecap="butt"/><line x1="383.3" y1="1419.6" x2="383.3" y2="1428.6" stroke="#000" stroke-width="2.0" stroke-linecap="butt"/><line x1="481.2" y1="1419.6" x2="481.2" y2="1428.6" stroke="#000" stroke-width="2.0" stroke-linecap="butt"/><line x1="579.0" y1="1419.6" x2="579.0" y2="1428.6" stroke="#000" stroke-width="2.0" stroke-linecap="butt"/><line x1="271.9" y1="1261.9" x2="306.7" y2="1261.9" stroke="#000" stroke-width="2.1" stroke-linecap="butt"/><line x1="222.2" y1="1372.8" x2="229.8" y2="1372.8" stroke="#000" stroke-width="2.1" stroke-linecap="butt"/><line x1="375.0" y1="1263.7" x2="375.0" y2="1374.6" stroke="#000" stroke-width="5.0" stroke-linecap="butt"/>
<text transform="translate(30.64,55.30) scale(0.895,1)" font-size="65" font-weight="bold">a</text><text transform="translate(693.93,55.50) scale(1.044,1)" font-size="65" font-weight="bold">b</text><text transform="translate(29.38,908.50) scale(1.05,1)" font-size="64" font-weight="bold">c</text><text x="232.38" y="54.80" font-size="45.2">High-Gamma LFP</text><text x="190.35" y="104.60" font-size="45.6">Passive</text><text x="443.84" y="104.40" font-size="45.8">Behavior</text><text x="86.26" y="145.60" font-size="44.8">0.4</text><text x="126.06" y="218.50" font-size="44.8">0</text><text x="60.21" y="428.70" font-size="44.8">−</text><path transform="translate(91.25,428.70) scale(44.8)" d="M0,-0.539 C0.06,-0.565 0.13,-0.6 0.175,-0.66 L0.2286,-0.72 L0.271,-0.72 L0.271,0 L0.171,0 L0.171,-0.56 C0.12,-0.53 0.06,-0.5 0,-0.467 Z"/><text x="111.28" y="428.70" font-size="44.8">.2</text><text x="86.36" y="497.70" font-size="44.8">0.4</text><text x="126.36" y="565.50" font-size="44.8">0</text><text x="60.01" y="781.20" font-size="44.8">−</text><path transform="translate(91.05,781.20) scale(44.8)" d="M0,-0.539 C0.06,-0.565 0.13,-0.6 0.175,-0.66 L0.2286,-0.72 L0.271,-0.72 L0.271,0 L0.171,0 L0.171,-0.56 C0.12,-0.53 0.06,-0.5 0,-0.467 Z"/><text x="111.08" y="781.20" font-size="44.8">.2</text><text x="195.88" y="797.00" font-size="44.8">0</text><text x="331.50" y="797.00" font-size="44.8">0.3</text><text x="443.68" y="797.00" font-size="44.8">0</text><text x="578.80" y="797.00" font-size="44.8">0.3</text><text x="316.50" y="847.00" font-size="45.2">Time (s)</text><text transform="translate(37.40,586.45) rotate(-90)" font-size="45.6">Depth (mm)</text><text transform="translate(645.30,167.47) rotate(90)" font-size="45.4">Ref.</text><text transform="translate(645.30,587.40) rotate(90)" font-size="45.0">Tar.</text><path transform="translate(693.60,378.90) scale(30)" d="M0,-0.539 C0.06,-0.565 0.13,-0.6 0.175,-0.66 L0.2286,-0.72 L0.271,-0.72 L0.271,0 L0.171,0 L0.171,-0.56 C0.12,-0.53 0.06,-0.5 0,-0.467 Z"/><text x="689.88" y="519.60" font-size="30">-</text><path transform="translate(703.14,519.60) scale(30)" d="M0,-0.539 C0.06,-0.565 0.13,-0.6 0.175,-0.66 L0.2286,-0.72 L0.271,-0.72 L0.271,0 L0.171,0 L0.171,-0.56 C0.12,-0.53 0.06,-0.5 0,-0.467 Z"/><text transform="translate(727.20,481.29) rotate(-90)" font-size="29.5">ΔMAG</text><text x="805.89" y="36.80" font-size="45.3">Task-Related</text><text x="855.97" y="89.60" font-size="45.4">Plasticity</text><text transform="translate(1147.10,211.39) rotate(90)" font-size="45.1">L2/3</text><text transform="translate(1142.80,850.88) rotate(90)" font-size="45.3">L4-6</text><text x="844.37" y="474.50" font-size="45.2">0</text><text x="1077.72" y="474.50" font-size="45.2">0.3</text><text x="841.73" y="1472.70" font-size="49.0">0</text><text x="1067.09" y="1472.70" font-size="49.0">0.3</text><text x="898.09" y="1511.00" font-size="45.7">Time (s)</text><text x="1152.84" y="1234.00" font-size="45.7">Enh.</text><text x="1155.79" y="1416.30" font-size="45.3">Sup.</text><path transform="translate(110.40,956.00) scale(44.8)" d="M0,-0.539 C0.06,-0.565 0.13,-0.6 0.175,-0.66 L0.2286,-0.72 L0.271,-0.72 L0.271,0 L0.171,0 L0.171,-0.56 C0.12,-0.53 0.06,-0.5 0,-0.467 Z"/><text x="130.43" y="956.50" font-size="44.8">00</text><text x="129.26" y="1067.50" font-size="44.8">60</text><text x="130.26" y="1178.40" font-size="44.8">20</text><text transform="translate(94.00,1205.36) rotate(-90)" font-size="45.2">% Recordings</text><text x="413.24" y="1097.00" font-size="40.7">L2/3 (n=43)</text><text x="413.24" y="1164.00" font-size="40.7">L4-6 (n=226)</text><text transform="translate(166.80,1395.48) rotate(-90)" font-size="46.0">Layer</text><path transform="translate(377.00,1471.50) scale(44.0)" d="M0,-0.539 C0.06,-0.565 0.13,-0.6 0.175,-0.66 L0.2286,-0.72 L0.271,-0.72 L0.271,0 L0.171,0 L0.171,-0.56 C0.12,-0.53 0.06,-0.5 0,-0.467 Z"/><text x="566.76" y="1471.50" font-size="44.8">2</text><text x="210.14" y="1511.70" font-size="42.8">Task-Related Plasticity</text><text transform="translate(318.20,1299.50) scale(1.0,1)" font-size="75" font-weight="bold">*</text><text transform="translate(236.30,1406.00) scale(1.0,1)" font-size="75" font-weight="bold">*</text>
</svg>
</body></html>
